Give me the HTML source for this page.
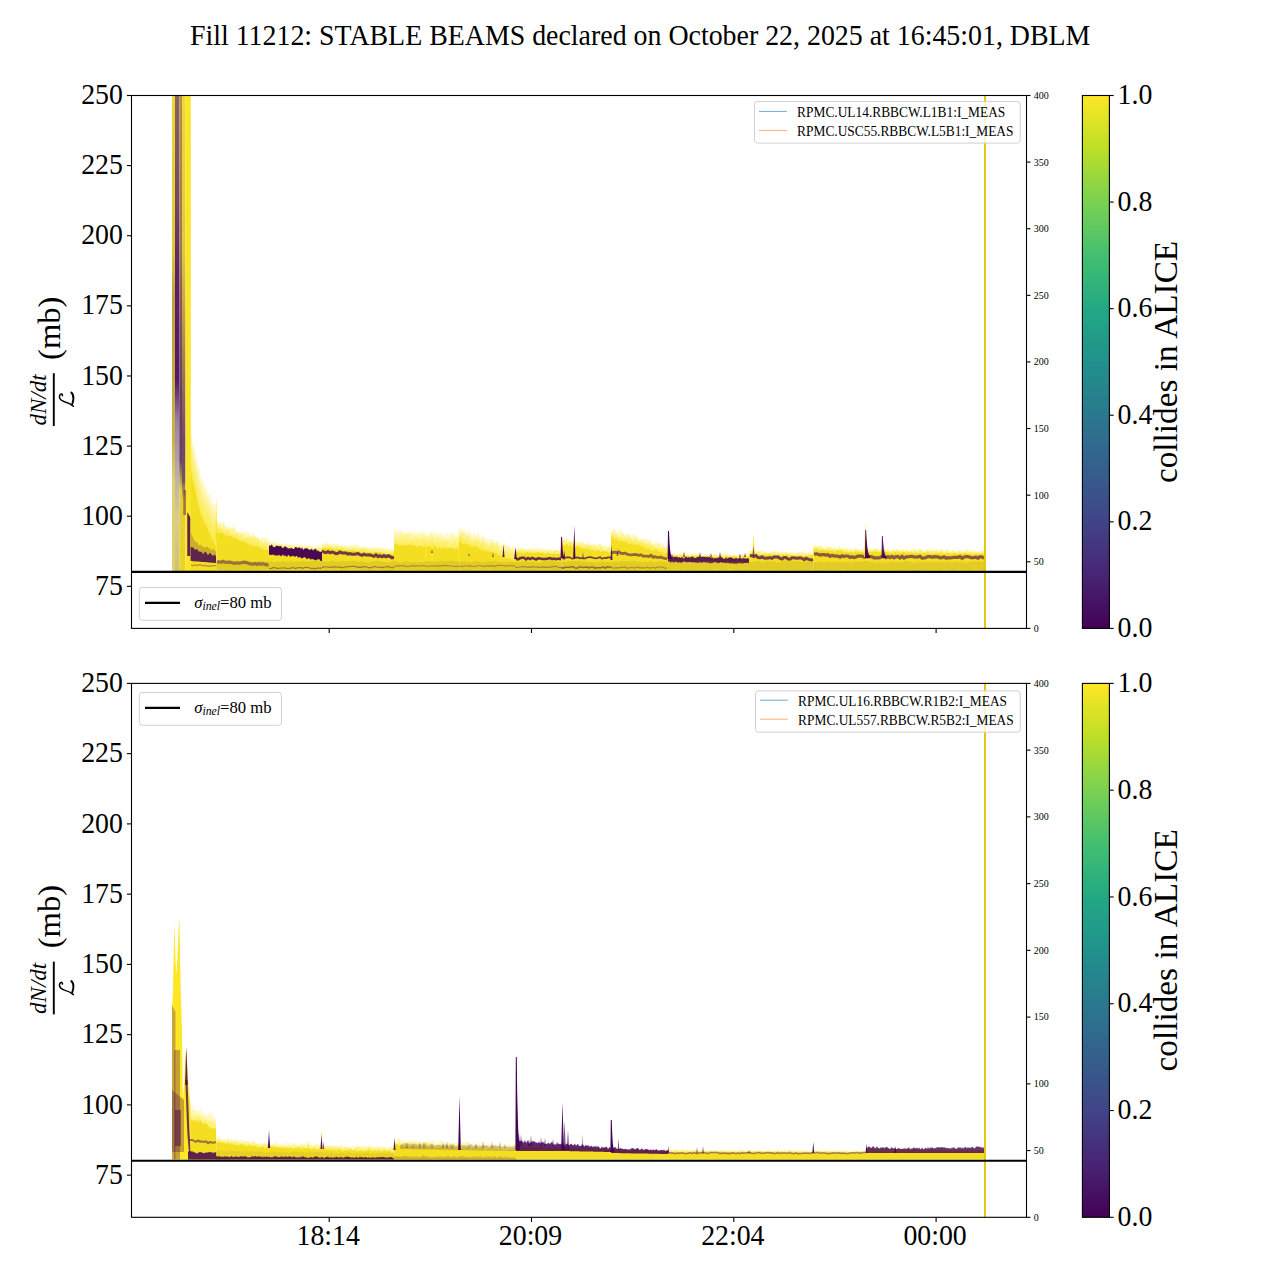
<!DOCTYPE html><html><head><meta charset="utf-8"><title>Fill 11212</title><style>html,body{margin:0;padding:0;background:#fff;overflow:hidden}svg{display:block}</style></head><body><svg width="1280" height="1280" viewBox="0 0 1280 1280"><rect width="1280" height="1280" fill="#fff"/><defs><linearGradient id="vir" x1="0" y1="1" x2="0" y2="0"><stop offset="0.000" stop-color="#440154"/><stop offset="0.100" stop-color="#482475"/><stop offset="0.200" stop-color="#414487"/><stop offset="0.300" stop-color="#355f8d"/><stop offset="0.400" stop-color="#2a788e"/><stop offset="0.500" stop-color="#21918c"/><stop offset="0.600" stop-color="#22a884"/><stop offset="0.700" stop-color="#44bf70"/><stop offset="0.800" stop-color="#7ad151"/><stop offset="0.900" stop-color="#bddf26"/><stop offset="1.000" stop-color="#fde725"/></linearGradient><clipPath id="c0"><rect x="131.5" y="95.5" width="895.0" height="532.9"/></clipPath><clipPath id="c1"><rect x="131.5" y="683.4" width="895.0" height="533.9"/></clipPath></defs><text transform="translate(640.20,45.20) scale(1,1.055)" font-family="Liberation Serif" font-size="27.9" text-anchor="middle">Fill 11212: STABLE BEAMS declared on October 22, 2025 at 16:45:01, DBLM</text><g clip-path="url(#c0)"><linearGradient id="ta" gradientUnits="userSpaceOnUse" x1="0" y1="95.0" x2="0" y2="571.0"><stop offset="0.000" stop-color="#f0d830"/><stop offset="0.326" stop-color="#e0c835"/><stop offset="0.431" stop-color="#c0a040"/><stop offset="0.725" stop-color="#c8b048"/><stop offset="0.809" stop-color="#e0d070"/><stop offset="1.000" stop-color="#e0d070"/></linearGradient><rect x="172" y="95.0" width="3.00" height="476.00" fill="url(#ta)"/><linearGradient id="tb" gradientUnits="userSpaceOnUse" x1="0" y1="95.0" x2="0" y2="571.0"><stop offset="0.000" stop-color="#866464"/><stop offset="0.221" stop-color="#74486a"/><stop offset="0.368" stop-color="#5a246a"/><stop offset="0.599" stop-color="#50186a"/><stop offset="0.683" stop-color="#9a80a0"/><stop offset="0.809" stop-color="#c0b0b0"/><stop offset="0.893" stop-color="#d8cc90"/><stop offset="1.000" stop-color="#d0c070"/></linearGradient><rect x="175" y="95.0" width="4.30" height="476.00" fill="url(#tb)"/><linearGradient id="tc" gradientUnits="userSpaceOnUse" x1="0" y1="95.0" x2="0" y2="571.0"><stop offset="0.000" stop-color="#b89048"/><stop offset="0.326" stop-color="#a07850"/><stop offset="0.431" stop-color="#8a5a58"/><stop offset="0.641" stop-color="#6a3a60"/><stop offset="0.767" stop-color="#6a4060"/><stop offset="0.830" stop-color="#e0cc40"/><stop offset="1.000" stop-color="#e8d428"/></linearGradient><rect x="179.3" y="95.0" width="2.70" height="476.00" fill="url(#tc)"/><linearGradient id="td" gradientUnits="userSpaceOnUse" x1="0" y1="95.0" x2="0" y2="571.0"><stop offset="0.000" stop-color="#f0d830"/><stop offset="0.326" stop-color="#e0c838"/><stop offset="0.431" stop-color="#c8a840"/><stop offset="0.599" stop-color="#9a7050"/><stop offset="0.725" stop-color="#704868"/><stop offset="0.809" stop-color="#705060"/><stop offset="0.851" stop-color="#e8d028"/><stop offset="1.000" stop-color="#e8d428"/></linearGradient><rect x="182" y="95.0" width="3.50" height="476.00" fill="url(#td)"/><linearGradient id="te" gradientUnits="userSpaceOnUse" x1="0" y1="95.0" x2="0" y2="571.0"><stop offset="0.000" stop-color="#fbe528"/><stop offset="1.000" stop-color="#fbe528"/></linearGradient><rect x="185.5" y="95.0" width="5.30" height="476.00" fill="url(#te)"/><polygon points="183.3,490 184.3,490 185.3,490 186,490 186,515 185.3,515 184.3,515 183.3,515" fill="#440154" fill-opacity="0.45"/><polygon points="187.3,512 188.3,513.8 189.3,515.6 190.3,517.5 190.6,518 190.6,556 190.3,556 189.3,556 188.3,556 187.3,556" fill="#440154" fill-opacity="0.85"/><polygon points="190.6,423.5 191.6,437.1 192.6,443.5 193.6,445.4 194.6,450.4 195.6,454.4 196.6,459.6 197.6,464.6 198.6,466.2 199.6,470.4 200.6,476.8 201.6,477.7 202.6,481.5 203.6,481 204.6,485 205.6,488.1 206.6,488.1 207.6,493 208.6,494.8 209.6,493.3 210.6,495.3 211.6,499.4 212.6,503 213.6,502.7 214.6,504.1 215.6,506.3 216,505.1 216,571 215.6,571 214.6,571 213.6,571 212.6,571 211.6,571 210.6,571 209.6,571 208.6,571 207.6,571 206.6,571 205.6,571 204.6,571 203.6,571 202.6,571 201.6,571 200.6,571 199.6,571 198.6,571 197.6,571 196.6,571 195.6,571 194.6,571 193.6,571 192.6,571 191.6,571 190.6,571" fill="#fde725" fill-opacity="0.25"/><polygon points="190.6,431.5 191.6,443.1 192.6,450 193.6,452.9 194.6,456.9 195.6,461.1 196.6,466.5 197.6,470.2 198.6,473.5 199.6,481.2 200.6,483.3 201.6,486.2 202.6,486.8 203.6,492.6 204.6,494.2 205.6,493.3 206.6,496.1 207.6,499.7 208.6,501.6 209.6,504.5 210.6,504.5 211.6,508.1 212.6,509.5 213.6,510 214.6,513.2 215.6,515.7 216,516 216,571 215.6,571 214.6,571 213.6,571 212.6,571 211.6,571 210.6,571 209.6,571 208.6,571 207.6,571 206.6,571 205.6,571 204.6,571 203.6,571 202.6,571 201.6,571 200.6,571 199.6,571 198.6,571 197.6,571 196.6,571 195.6,571 194.6,571 193.6,571 192.6,571 191.6,571 190.6,571" fill="#fde725" fill-opacity="0.25"/><polygon points="190.6,440.2 191.6,451.3 192.6,455.7 193.6,460.6 194.6,466.8 195.6,469.5 196.6,472.9 197.6,478.8 198.6,483.9 199.6,488.1 200.6,490.2 201.6,493 202.6,495.7 203.6,499.3 204.6,500.5 205.6,502 206.6,504.4 207.6,504.5 208.6,506.6 209.6,511.2 210.6,514.3 211.6,514.8 212.6,516 213.6,517.1 214.6,520.4 215.6,523.7 216,523.3 216,571 215.6,571 214.6,571 213.6,571 212.6,571 211.6,571 210.6,571 209.6,571 208.6,571 207.6,571 206.6,571 205.6,571 204.6,571 203.6,571 202.6,571 201.6,571 200.6,571 199.6,571 198.6,571 197.6,571 196.6,571 195.6,571 194.6,571 193.6,571 192.6,571 191.6,571 190.6,571" fill="#fde725" fill-opacity="0.25"/><polygon points="190.6,448 191.6,460 192.6,464.1 193.6,469.3 194.6,475 195.6,477.8 196.6,481.7 197.6,485.3 198.6,490.8 199.6,496.9 200.6,496.3 201.6,501.9 202.6,504.6 203.6,507.3 204.6,509 205.6,511.2 206.6,512.1 207.6,514.2 208.6,515.7 209.6,516.2 210.6,521.5 211.6,522.3 212.6,522.8 213.6,526 214.6,527.9 215.6,528.8 216,529.2 216,571 215.6,571 214.6,571 213.6,571 212.6,571 211.6,571 210.6,571 209.6,571 208.6,571 207.6,571 206.6,571 205.6,571 204.6,571 203.6,571 202.6,571 201.6,571 200.6,571 199.6,571 198.6,571 197.6,571 196.6,571 195.6,571 194.6,571 193.6,571 192.6,571 191.6,571 190.6,571" fill="#fde725" fill-opacity="0.25"/><polygon points="190.6,455.6 191.6,466.6 192.6,473.2 193.6,476.6 194.6,478.9 195.6,484 196.6,488.1 197.6,494.2 198.6,499.7 199.6,503.8 200.6,507.1 201.6,509.7 202.6,509.9 203.6,514.8 204.6,516.3 205.6,515.9 206.6,517.7 207.6,519.7 208.6,524.6 209.6,524.6 210.6,526 211.6,530.1 212.6,531 213.6,531.9 214.6,534.2 215.6,537.1 216,536.1 216,571 215.6,571 214.6,571 213.6,571 212.6,571 211.6,571 210.6,571 209.6,571 208.6,571 207.6,571 206.6,571 205.6,571 204.6,571 203.6,571 202.6,571 201.6,571 200.6,571 199.6,571 198.6,571 197.6,571 196.6,571 195.6,571 194.6,571 193.6,571 192.6,571 191.6,571 190.6,571" fill="#fde725" fill-opacity="0.25"/><polygon points="190.6,462.5 191.6,474.2 192.6,480.3 193.6,484 194.6,488.3 195.6,491.5 196.6,496.8 197.6,501.3 198.6,505.1 199.6,509.3 200.6,514.5 201.6,516 202.6,517.8 203.6,521.3 204.6,524 205.6,524 206.6,526 207.6,528.4 208.6,531.7 209.6,532.4 210.6,535.7 211.6,537.6 212.6,539.3 213.6,540.5 214.6,544.3 215.6,545.3 216,545 216,571 215.6,571 214.6,571 213.6,571 212.6,571 211.6,571 210.6,571 209.6,571 208.6,571 207.6,571 206.6,571 205.6,571 204.6,571 203.6,571 202.6,571 201.6,571 200.6,571 199.6,571 198.6,571 197.6,571 196.6,571 195.6,571 194.6,571 193.6,571 192.6,571 191.6,571 190.6,571" fill="#f4de22"/><polygon points="190.6,531.2 191.6,534.7 192.6,536.2 193.6,539 194.6,540.6 195.6,542.7 196.6,541.5 197.6,542.7 198.6,545.2 199.6,545.4 200.6,544.2 201.6,546.4 202.6,545.2 203.6,547.6 204.6,547.5 205.6,546.9 206.6,546.7 207.6,546.2 208.6,549.1 209.6,546.9 210.6,549.5 211.6,550.2 212.6,549.3 213.6,548.4 214.6,550.7 215.6,551.3 216,550.6 216,563 215.6,563 214.6,562.8 213.6,562.7 212.6,562.6 211.6,562.5 210.6,562.4 209.6,562.2 208.6,562.1 207.6,562 206.6,561.9 205.6,561.8 204.6,561.7 203.6,561.5 202.6,561.4 201.6,561.3 200.6,561.2 199.6,561.1 198.6,560.9 197.6,560.8 196.6,560.7 195.6,560.6 194.6,560.5 193.6,560.4 192.6,560.2 191.6,560.1 190.6,560" fill="#440154" fill-opacity="0.22"/><polygon points="190.6,547 191.6,547.2 192.6,547.6 193.6,547.7 194.6,549.7 195.6,549.5 196.6,549.3 197.6,549.5 198.6,551.8 199.6,551.2 200.6,552.1 201.6,551.8 202.6,553.6 203.6,553.9 204.6,551.4 205.6,552.2 206.6,552.7 207.6,554.9 208.6,554.5 209.6,553.3 210.6,553.1 211.6,554.7 212.6,555.4 213.6,555.8 214.6,554.3 215.6,556.1 216,555.6 216,563 215.6,563 214.6,562.9 213.6,562.8 212.6,562.7 211.6,562.7 210.6,562.6 209.6,562.5 208.6,562.4 207.6,562.3 206.6,562.3 205.6,562.2 204.6,562.1 203.6,562 202.6,561.9 201.6,561.9 200.6,561.8 199.6,561.7 198.6,561.6 197.6,561.6 196.6,561.5 195.6,561.4 194.6,561.3 193.6,561.2 192.6,561.2 191.6,561.1 190.6,561" fill="#440154" fill-opacity="0.8"/><polyline points="191,565 193,565.9 195,564.7 197,565.6 199,564.7 201,564.9 203,566.1 205,565.1 207,566.1 209,565.9 211,566.3 213,565.7 215,565.7 216,565.7" fill="none" stroke="#440154" stroke-width="1.2" stroke-opacity="0.35"/><polygon points="215.1,540 216.2,495 217.3,540" fill="#fde725"/><polygon points="216.4,522.8 217.4,521.9 218.4,524.1 219.4,524.2 220.4,520.9 221.4,523.4 222.4,521.6 223.4,521.7 224.4,522.3 225.4,526.6 226.4,526.7 227.4,527.3 228.4,525.3 229.4,527.1 230.4,528.3 231.4,526.7 232.4,528.1 233.4,526.8 234.4,526.5 235.4,527.9 236.4,531.4 237.4,530.2 238.4,532.4 239.4,530.5 240.4,530 241.4,532.9 242.4,533.4 243.4,529.7 244.4,533.3 245.4,530.7 246.4,531.1 247.4,535.3 248.4,531.4 249.4,532.7 250.4,536.8 251.4,534.3 252.4,533.1 253.4,533.6 254.4,534.3 255.4,537.2 256.4,534.3 257.4,538.6 258.4,536.3 259.4,539.6 260.4,539.6 261.4,536.8 262.4,537 263.4,538.4 264.4,536.8 265.4,539.9 266.4,537.2 267.4,537.4 268.4,542.4 269,539 269,571 268.4,571 267.4,571 266.4,571 265.4,571 264.4,571 263.4,571 262.4,571 261.4,571 260.4,571 259.4,571 258.4,571 257.4,571 256.4,571 255.4,571 254.4,571 253.4,571 252.4,571 251.4,571 250.4,571 249.4,571 248.4,571 247.4,571 246.4,571 245.4,571 244.4,571 243.4,571 242.4,571 241.4,571 240.4,571 239.4,571 238.4,571 237.4,571 236.4,571 235.4,571 234.4,571 233.4,571 232.4,571 231.4,571 230.4,571 229.4,571 228.4,571 227.4,571 226.4,571 225.4,571 224.4,571 223.4,571 222.4,571 221.4,571 220.4,571 219.4,571 218.4,571 217.4,571 216.4,571" fill="#fde725" fill-opacity="0.3"/><polygon points="216.4,524 217.4,523.7 218.4,523.4 219.4,522.6 220.4,527.3 221.4,528 222.4,528.4 223.4,524.5 224.4,525.5 225.4,527.9 226.4,530.1 227.4,528.4 228.4,529.5 229.4,529.8 230.4,528.2 231.4,530.1 232.4,529.3 233.4,529.4 234.4,529 235.4,530.5 236.4,534.4 237.4,532.1 238.4,533.6 239.4,534 240.4,535.8 241.4,533.4 242.4,533.3 243.4,533.7 244.4,534 245.4,537 246.4,537.5 247.4,534.9 248.4,535.4 249.4,536.7 250.4,537.2 251.4,537.6 252.4,536.2 253.4,535.4 254.4,536.8 255.4,536.3 256.4,539 257.4,536.9 258.4,537.3 259.4,540.4 260.4,539 261.4,541.8 262.4,540.7 263.4,542.8 264.4,539.6 265.4,541.7 266.4,543.5 267.4,540.2 268.4,544.7 269,540.9 269,571 268.4,571 267.4,571 266.4,571 265.4,571 264.4,571 263.4,571 262.4,571 261.4,571 260.4,571 259.4,571 258.4,571 257.4,571 256.4,571 255.4,571 254.4,571 253.4,571 252.4,571 251.4,571 250.4,571 249.4,571 248.4,571 247.4,571 246.4,571 245.4,571 244.4,571 243.4,571 242.4,571 241.4,571 240.4,571 239.4,571 238.4,571 237.4,571 236.4,571 235.4,571 234.4,571 233.4,571 232.4,571 231.4,571 230.4,571 229.4,571 228.4,571 227.4,571 226.4,571 225.4,571 224.4,571 223.4,571 222.4,571 221.4,571 220.4,571 219.4,571 218.4,571 217.4,571 216.4,571" fill="#fde725" fill-opacity="0.3"/><polygon points="216.4,527.4 217.4,528.8 218.4,528.5 219.4,526.4 220.4,525.7 221.4,528.2 222.4,530.6 223.4,527.9 224.4,531.4 225.4,528 226.4,532.3 227.4,528.3 228.4,530.2 229.4,533.5 230.4,533.5 231.4,534.4 232.4,534.5 233.4,534.4 234.4,534.6 235.4,532.4 236.4,534.1 237.4,533.2 238.4,536.4 239.4,536.6 240.4,534.9 241.4,534.3 242.4,539.1 243.4,538.6 244.4,537.7 245.4,537.9 246.4,539.8 247.4,538.1 248.4,538.2 249.4,538.2 250.4,538.1 251.4,537.3 252.4,540.7 253.4,539.9 254.4,541 255.4,538.8 256.4,540.5 257.4,539.8 258.4,540 259.4,541 260.4,544.2 261.4,542.4 262.4,542.7 263.4,544.1 264.4,542.5 265.4,541.7 266.4,544.6 267.4,544.8 268.4,545.7 269,544.7 269,571 268.4,571 267.4,571 266.4,571 265.4,571 264.4,571 263.4,571 262.4,571 261.4,571 260.4,571 259.4,571 258.4,571 257.4,571 256.4,571 255.4,571 254.4,571 253.4,571 252.4,571 251.4,571 250.4,571 249.4,571 248.4,571 247.4,571 246.4,571 245.4,571 244.4,571 243.4,571 242.4,571 241.4,571 240.4,571 239.4,571 238.4,571 237.4,571 236.4,571 235.4,571 234.4,571 233.4,571 232.4,571 231.4,571 230.4,571 229.4,571 228.4,571 227.4,571 226.4,571 225.4,571 224.4,571 223.4,571 222.4,571 221.4,571 220.4,571 219.4,571 218.4,571 217.4,571 216.4,571" fill="#fde725" fill-opacity="0.3"/><polygon points="216.4,529.4 217.4,530.1 218.4,528 219.4,529.7 220.4,530.1 221.4,529.2 222.4,530.6 223.4,531.8 224.4,533.9 225.4,534.4 226.4,531.6 227.4,533.9 228.4,531.3 229.4,531.9 230.4,534.5 231.4,536.7 232.4,533.6 233.4,537 234.4,538 235.4,535.6 236.4,537.9 237.4,539.1 238.4,537.2 239.4,539.3 240.4,539.8 241.4,539.4 242.4,541.1 243.4,541.6 244.4,542.2 245.4,540.6 246.4,538.9 247.4,539.6 248.4,539.8 249.4,541.9 250.4,543.1 251.4,539.9 252.4,543.4 253.4,543.9 254.4,542.4 255.4,543.5 256.4,542.1 257.4,545.2 258.4,542.1 259.4,547.1 260.4,546.6 261.4,546 262.4,544.5 263.4,548.1 264.4,548.6 265.4,544.9 266.4,548.4 267.4,549 268.4,548.3 269,548.5 269,571 268.4,571 267.4,571 266.4,571 265.4,571 264.4,571 263.4,571 262.4,571 261.4,571 260.4,571 259.4,571 258.4,571 257.4,571 256.4,571 255.4,571 254.4,571 253.4,571 252.4,571 251.4,571 250.4,571 249.4,571 248.4,571 247.4,571 246.4,571 245.4,571 244.4,571 243.4,571 242.4,571 241.4,571 240.4,571 239.4,571 238.4,571 237.4,571 236.4,571 235.4,571 234.4,571 233.4,571 232.4,571 231.4,571 230.4,571 229.4,571 228.4,571 227.4,571 226.4,571 225.4,571 224.4,571 223.4,571 222.4,571 221.4,571 220.4,571 219.4,571 218.4,571 217.4,571 216.4,571" fill="#fde725" fill-opacity="0.3"/><polygon points="216.4,530.8 217.4,532.7 218.4,533.3 219.4,531.9 220.4,533.6 221.4,532.9 222.4,532.5 223.4,533.4 224.4,533.3 225.4,536 226.4,536.6 227.4,534.5 228.4,536.4 229.4,536.2 230.4,535.8 231.4,536.7 232.4,537 233.4,539 234.4,537.1 235.4,538.1 236.4,539.3 237.4,538.5 238.4,540.7 239.4,541.1 240.4,542.1 241.4,540.6 242.4,541.1 243.4,542.2 244.4,541.7 245.4,543 246.4,542.3 247.4,543.9 248.4,544.6 249.4,544.9 250.4,545.8 251.4,544.8 252.4,545 253.4,546.4 254.4,546.4 255.4,546.2 256.4,545.9 257.4,545.9 258.4,545.7 259.4,548.2 260.4,546.4 261.4,548.6 262.4,548.3 263.4,549.9 264.4,549.6 265.4,550.6 266.4,548.4 267.4,549.8 268.4,550.2 269,549.4 269,571 268.4,571 267.4,571 266.4,571 265.4,571 264.4,571 263.4,571 262.4,571 261.4,571 260.4,571 259.4,571 258.4,571 257.4,571 256.4,571 255.4,571 254.4,571 253.4,571 252.4,571 251.4,571 250.4,571 249.4,571 248.4,571 247.4,571 246.4,571 245.4,571 244.4,571 243.4,571 242.4,571 241.4,571 240.4,571 239.4,571 238.4,571 237.4,571 236.4,571 235.4,571 234.4,571 233.4,571 232.4,571 231.4,571 230.4,571 229.4,571 228.4,571 227.4,571 226.4,571 225.4,571 224.4,571 223.4,571 222.4,571 221.4,571 220.4,571 219.4,571 218.4,571 217.4,571 216.4,571" fill="#f4de22"/><polyline points="217,562 219,561.8 221,562.2 223,561.2 225,562.2 227,562.3 229,562.1 231,562.3 233,563.2 235,563.1 237,562.8 239,563.2 241,562.7 243,562.4 245,562.1 247,562.7 249,563.5 251,564.1 253,564.1 255,563.5 257,564.5 259,563.6 261,564.4 263,563.6 265,564.4 267,564.9 268,563.6" fill="none" stroke="#440154" stroke-width="3.2" stroke-opacity="0.5"/><polygon points="269,541 270,542.5 271,542.3 272,541.9 273,540.9 274,542.1 275,542.3 276,542.4 277,543.8 278,543.1 279,543.6 280,544.2 281,543.9 282,543.2 283,544.1 284,543.8 285,544 286,544 287,543.4 288,544.2 289,544.3 290,545.3 291,544.9 292,545.2 293,545.1 294,545.3 295,544.8 296,544.1 297,543.9 298,545.4 299,546 300,545.1 301,544 302,546.1 303,545.2 304,545.2 305,544 306,545.5 307,546.3 308,545.4 309,545.3 310,546.3 311,544.5 312,546.1 313,547.5 314,546.8 315,546 316,547 317,546.8 318,545.7 319,545.8 320,548 321,546.2 322,545.7 322,571 321,571 320,571 319,571 318,571 317,571 316,571 315,571 314,571 313,571 312,571 311,571 310,571 309,571 308,571 307,571 306,571 305,571 304,571 303,571 302,571 301,571 300,571 299,571 298,571 297,571 296,571 295,571 294,571 293,571 292,571 291,571 290,571 289,571 288,571 287,571 286,571 285,571 284,571 283,571 282,571 281,571 280,571 279,571 278,571 277,571 276,571 275,571 274,571 273,571 272,571 271,571 270,571 269,571" fill="#fde725" fill-opacity="0.3"/><polygon points="269,544.7 270,543.8 271,543.5 272,544 273,544.8 274,543.1 275,544.7 276,545 277,545.4 278,543.8 279,544.9 280,543.9 281,545 282,543.9 283,545.9 284,546.2 285,544.7 286,544.4 287,546.8 288,546.1 289,546.6 290,544.2 291,546.9 292,546.2 293,545.4 294,545.8 295,546.9 296,547.1 297,545.4 298,546.8 299,545.5 300,548 301,546.5 302,548 303,547.6 304,547.3 305,546.3 306,547.2 307,546.2 308,546.3 309,548.1 310,547.1 311,548.4 312,546.9 313,548.5 314,548.6 315,547.4 316,546.9 317,547.9 318,548.3 319,547.2 320,547.5 321,547.2 322,549 322,571 321,571 320,571 319,571 318,571 317,571 316,571 315,571 314,571 313,571 312,571 311,571 310,571 309,571 308,571 307,571 306,571 305,571 304,571 303,571 302,571 301,571 300,571 299,571 298,571 297,571 296,571 295,571 294,571 293,571 292,571 291,571 290,571 289,571 288,571 287,571 286,571 285,571 284,571 283,571 282,571 281,571 280,571 279,571 278,571 277,571 276,571 275,571 274,571 273,571 272,571 271,571 270,571 269,571" fill="#fde725" fill-opacity="0.3"/><polygon points="269,546.5 270,544.6 271,544.1 272,546.2 273,546.7 274,547.2 275,546.2 276,545.5 277,547.1 278,545 279,546.9 280,545.2 281,546.2 282,546.5 283,546.3 284,545.8 285,546 286,547.9 287,546.9 288,547.4 289,546.4 290,548 291,546.9 292,547.8 293,548.8 294,549.2 295,546.4 296,548.8 297,549 298,547.5 299,547.8 300,548.5 301,549.6 302,548.1 303,549.7 304,549.4 305,547.7 306,550.1 307,547.5 308,547.9 309,549.6 310,547.9 311,548.9 312,548.3 313,549.4 314,550.6 315,550.9 316,548.4 317,548.5 318,551 319,548.7 320,549.5 321,549.1 322,549.1 322,571 321,571 320,571 319,571 318,571 317,571 316,571 315,571 314,571 313,571 312,571 311,571 310,571 309,571 308,571 307,571 306,571 305,571 304,571 303,571 302,571 301,571 300,571 299,571 298,571 297,571 296,571 295,571 294,571 293,571 292,571 291,571 290,571 289,571 288,571 287,571 286,571 285,571 284,571 283,571 282,571 281,571 280,571 279,571 278,571 277,571 276,571 275,571 274,571 273,571 272,571 271,571 270,571 269,571" fill="#fde725" fill-opacity="0.3"/><polygon points="269,546.1 270,547.3 271,547.6 272,547.6 273,548 274,547.8 275,547.4 276,547.9 277,548.6 278,548.1 279,547.5 280,547.2 281,548.9 282,548.4 283,548.1 284,548.6 285,548.6 286,548.6 287,547.9 288,548.5 289,548.7 290,548.4 291,549.8 292,549 293,549.6 294,549.7 295,549.9 296,549.9 297,550.1 298,549.3 299,550.7 300,549.3 301,550.8 302,550.8 303,550.8 304,549.5 305,549.7 306,551.1 307,550.5 308,550.4 309,551.6 310,550 311,551 312,551 313,550.5 314,551.1 315,551.7 316,552.1 317,550.7 318,551.7 319,551 320,552.4 321,551.2 322,551.2 322,571 321,571 320,571 319,571 318,571 317,571 316,571 315,571 314,571 313,571 312,571 311,571 310,571 309,571 308,571 307,571 306,571 305,571 304,571 303,571 302,571 301,571 300,571 299,571 298,571 297,571 296,571 295,571 294,571 293,571 292,571 291,571 290,571 289,571 288,571 287,571 286,571 285,571 284,571 283,571 282,571 281,571 280,571 279,571 278,571 277,571 276,571 275,571 274,571 273,571 272,571 271,571 270,571 269,571" fill="#f4de22"/><polygon points="269,545.1 270,546.3 271,545.1 272,544.6 273,546.8 274,547 275,547.2 276,545.5 277,546 278,545.5 279,546.6 280,546 281,546.1 282,547.6 283,548.3 284,547.2 285,545.7 286,547.6 287,547 288,548.9 289,548.1 290,548.6 291,548.2 292,547.8 293,549 294,548.9 295,547.3 296,546.9 297,547.7 298,548.3 299,547 300,547.9 301,548.8 302,547.2 303,549.7 304,549.3 305,548.3 306,548.3 307,548.6 308,548.6 309,550.1 310,549.4 311,549.5 312,548.4 313,551 314,549.2 315,549.3 316,548.6 317,551.6 318,550.1 319,551.5 320,551.7 321,551.9 322,551.5 322,561 321,560.9 320,560.5 319,558.8 318,559.6 317,559.6 316,560.5 315,559.9 314,559.6 313,559.6 312,558.5 311,559.8 310,559 309,558.3 308,558.3 307,559.5 306,558.3 305,557.3 304,557.1 303,558.3 302,557.9 301,558.6 300,556.8 299,557.2 298,557.8 297,556.1 296,556.1 295,557.1 294,556.3 293,555.8 292,556 291,556.8 290,556.4 289,555.3 288,555.1 287,556.9 286,556.3 285,555 284,556.6 283,554.4 282,555.2 281,556.2 280,555.7 279,554.6 278,556 277,555.1 276,555.7 275,555.6 274,554.4 273,554.9 272,554.4 271,555.3 270,554.8 269,554.5" fill="#440154" fill-opacity="0.97"/><polyline points="269,568.4 271,568.7 273,567.7 275,567.6 277,568.3 279,568.4 281,568 283,568 285,567.9 287,568.5 289,568.4 291,568.1 293,567.4 295,568.5 297,567.9 299,567.6 301,567.7 303,568.3 305,567.3 307,567.5 309,567.7 311,568.5 313,568.3 315,568.7 317,568.1 319,568.1 321,568.1 322,568" fill="none" stroke="#440154" stroke-width="1.2" stroke-opacity="0.45"/><polygon points="322,543.1 323,544 324,544.5 325,543 326,543.7 327,542.8 328,542.9 329,543.6 330,543.9 331,543.9 332,545.3 333,542.9 334,544.4 335,545.6 336,544.9 337,544.4 338,543.9 339,544.1 340,545.8 341,545.8 342,545.2 343,545.9 344,546.1 345,546 346,544.7 347,545 348,546.1 349,544.9 350,546.1 351,545.4 352,545 353,545.5 354,544.5 355,545.3 356,545.6 357,544.5 358,545 359,545.4 360,547.2 361,546.5 362,545.7 363,547.9 364,545.8 365,546.6 366,547.4 367,547.3 368,546.6 369,547.7 370,547 371,547.7 372,547.1 373,548.7 374,548 375,546.2 376,546.4 377,549 378,546.9 379,546.3 380,547.1 381,547.9 382,549.4 383,547.8 384,548.8 385,549.3 386,547.1 387,548.8 388,550 389,548.7 390,548.8 391,548.3 392,550.2 393,550.3 394,547.8 394,571 393,571 392,571 391,571 390,571 389,571 388,571 387,571 386,571 385,571 384,571 383,571 382,571 381,571 380,571 379,571 378,571 377,571 376,571 375,571 374,571 373,571 372,571 371,571 370,571 369,571 368,571 367,571 366,571 365,571 364,571 363,571 362,571 361,571 360,571 359,571 358,571 357,571 356,571 355,571 354,571 353,571 352,571 351,571 350,571 349,571 348,571 347,571 346,571 345,571 344,571 343,571 342,571 341,571 340,571 339,571 338,571 337,571 336,571 335,571 334,571 333,571 332,571 331,571 330,571 329,571 328,571 327,571 326,571 325,571 324,571 323,571 322,571" fill="#fde725" fill-opacity="0.3"/><polygon points="322,544.8 323,544.5 324,545.3 325,543.8 326,544.3 327,544.4 328,545.1 329,546.1 330,546.4 331,546.3 332,546 333,544.3 334,545.3 335,546.3 336,545.2 337,545.9 338,547.2 339,544.9 340,547.2 341,545.1 342,546 343,547.6 344,545.6 345,546.6 346,546.4 347,547.9 348,548.3 349,546.3 350,547 351,548.3 352,547.3 353,546.4 354,548.1 355,546.9 356,547.5 357,546.1 358,549.1 359,548.2 360,549.1 361,549.3 362,547.3 363,548.2 364,548 365,549 366,549.4 367,547.6 368,547.8 369,549.2 370,548.4 371,547.6 372,547.9 373,549.1 374,549.3 375,550.5 376,549.3 377,549.6 378,548.3 379,549.2 380,548.8 381,550.2 382,549 383,548.9 384,549.4 385,549.8 386,549.5 387,550.4 388,549.2 389,551.4 390,550.9 391,550.5 392,549.2 393,550.1 394,551.2 394,571 393,571 392,571 391,571 390,571 389,571 388,571 387,571 386,571 385,571 384,571 383,571 382,571 381,571 380,571 379,571 378,571 377,571 376,571 375,571 374,571 373,571 372,571 371,571 370,571 369,571 368,571 367,571 366,571 365,571 364,571 363,571 362,571 361,571 360,571 359,571 358,571 357,571 356,571 355,571 354,571 353,571 352,571 351,571 350,571 349,571 348,571 347,571 346,571 345,571 344,571 343,571 342,571 341,571 340,571 339,571 338,571 337,571 336,571 335,571 334,571 333,571 332,571 331,571 330,571 329,571 328,571 327,571 326,571 325,571 324,571 323,571 322,571" fill="#fde725" fill-opacity="0.3"/><polygon points="322,546.8 323,547.4 324,547.7 325,546 326,546.6 327,546.2 328,545.7 329,545.8 330,546.3 331,545.8 332,547.3 333,547.9 334,547.5 335,548 336,546.7 337,546.7 338,547.9 339,548.9 340,547.6 341,546.4 342,546.6 343,547.5 344,548.5 345,547 346,547.5 347,549 348,550 349,548.1 350,549 351,548.8 352,547.4 353,548.4 354,547.9 355,548.3 356,550 357,549.8 358,548 359,548.1 360,550.2 361,548.4 362,549.1 363,549.1 364,548.5 365,548.5 366,548.9 367,549.8 368,551.5 369,550.7 370,549.6 371,551 372,549.8 373,550.6 374,550.1 375,552.1 376,550.4 377,551.8 378,551.4 379,552.1 380,551.5 381,552.4 382,551 383,552 384,551.9 385,551.7 386,551.9 387,551.9 388,551.5 389,553.1 390,552.4 391,552.2 392,550.8 393,552.3 394,551.4 394,571 393,571 392,571 391,571 390,571 389,571 388,571 387,571 386,571 385,571 384,571 383,571 382,571 381,571 380,571 379,571 378,571 377,571 376,571 375,571 374,571 373,571 372,571 371,571 370,571 369,571 368,571 367,571 366,571 365,571 364,571 363,571 362,571 361,571 360,571 359,571 358,571 357,571 356,571 355,571 354,571 353,571 352,571 351,571 350,571 349,571 348,571 347,571 346,571 345,571 344,571 343,571 342,571 341,571 340,571 339,571 338,571 337,571 336,571 335,571 334,571 333,571 332,571 331,571 330,571 329,571 328,571 327,571 326,571 325,571 324,571 323,571 322,571" fill="#fde725" fill-opacity="0.3"/><polygon points="322,547.5 323,548 324,548.2 325,547.8 326,547.9 327,548.5 328,548.5 329,548.4 330,548 331,548.5 332,549.1 333,549 334,549.1 335,549.7 336,549.6 337,549.6 338,548.5 339,549.1 340,549.8 341,549 342,550.4 343,549.1 344,550.5 345,549.4 346,550.6 347,550.7 348,549.9 349,550.9 350,549.7 351,551 352,550.3 353,550.5 354,550 355,550.9 356,550.4 357,551.2 358,551.5 359,551.3 360,550.3 361,552.1 362,552.1 363,551.7 364,551.3 365,551.7 366,552.4 367,551.7 368,552.3 369,552.1 370,551.9 371,552.9 372,552 373,552.4 374,551.5 375,552.4 376,551.7 377,553 378,551.8 379,551.9 380,552.1 381,552.3 382,553 383,552.8 384,552.8 385,554.1 386,554.1 387,553.7 388,554 389,554.2 390,553.2 391,554.3 392,553.4 393,554 394,553.7 394,571 393,571 392,571 391,571 390,571 389,571 388,571 387,571 386,571 385,571 384,571 383,571 382,571 381,571 380,571 379,571 378,571 377,571 376,571 375,571 374,571 373,571 372,571 371,571 370,571 369,571 368,571 367,571 366,571 365,571 364,571 363,571 362,571 361,571 360,571 359,571 358,571 357,571 356,571 355,571 354,571 353,571 352,571 351,571 350,571 349,571 348,571 347,571 346,571 345,571 344,571 343,571 342,571 341,571 340,571 339,571 338,571 337,571 336,571 335,571 334,571 333,571 332,571 331,571 330,571 329,571 328,571 327,571 326,571 325,571 324,571 323,571 322,571" fill="#f4de22"/><polyline points="322,550.8 324,552.2 326,552.6 328,551.6 330,552.9 332,552 334,552.7 336,553.6 338,553.3 340,552 342,552.9 344,552.9 346,552.9 348,554.1 350,553.5 352,554.2 354,554.2 356,554.1 358,553.4 360,554.7 362,555.3 364,554.1 366,555.1 368,555 370,554.8 372,555.7 374,556.4 376,554.7 378,556.6 380,555.7 382,556.8 384,555.6 386,556.8 388,555.7 390,556.4 392,557.8 394,557.3" fill="none" stroke="#440154" stroke-width="3" stroke-opacity="0.75"/><polyline points="322,567.4 324,566.9 326,567 328,567 330,567.4 332,567.3 334,566.6 336,566.9 338,567.1 340,567.1 342,567.6 344,567.5 346,566.5 348,566.8 350,566.5 352,566.3 354,566.4 356,566.6 358,567.4 360,567.2 362,567.4 364,566.7 366,566.5 368,567.7 370,567.5 372,567.6 374,566.3 376,566.9 378,567.2 380,567.3 382,567.6 384,567.1 386,566.8 388,566.3 390,567.4 392,567.7 394,567.6" fill="none" stroke="#440154" stroke-width="1.2" stroke-opacity="0.45"/><polygon points="394,531 395,529.1 396,528.6 397,531.9 398,532.9 399,533.1 400,528.5 401,531.1 402,530.7 403,530.3 404,532.5 405,533.5 406,532.3 407,532.2 408,532.2 409,532.1 410,531.5 411,529.8 412,533.1 413,529.2 414,532.4 415,530.9 416,532.1 417,532.6 418,531.7 419,534.8 420,530.4 421,529.1 422,534.9 423,531.1 424,531 425,531.9 426,533 427,535.5 428,533.9 429,531.6 430,533 431,532.5 432,532.9 433,532.5 434,531.1 435,532.5 436,532.6 437,531.5 438,535.3 439,532.6 440,531.4 441,534 442,535.8 443,535.5 444,534.6 445,535.3 446,533 447,531.9 448,532.7 449,533.3 450,533 451,534.2 452,532.4 453,532.3 454,533.1 455,532.9 456,536.6 457,535.1 458,533.1 459,534.6 459,571 458,571 457,571 456,571 455,571 454,571 453,571 452,571 451,571 450,571 449,571 448,571 447,571 446,571 445,571 444,571 443,571 442,571 441,571 440,571 439,571 438,571 437,571 436,571 435,571 434,571 433,571 432,571 431,571 430,571 429,571 428,571 427,571 426,571 425,571 424,571 423,571 422,571 421,571 420,571 419,571 418,571 417,571 416,571 415,571 414,571 413,571 412,571 411,571 410,571 409,571 408,571 407,571 406,571 405,571 404,571 403,571 402,571 401,571 400,571 399,571 398,571 397,571 396,571 395,571 394,571" fill="#fde725" fill-opacity="0.22"/><polygon points="394,535 395,533.3 396,533.3 397,532.4 398,531.3 399,533.9 400,530.7 401,535.1 402,530.8 403,535 404,532.9 405,534.7 406,534.3 407,531.6 408,534.1 409,531.4 410,532.5 411,533.4 412,532.9 413,535.2 414,537.3 415,533.6 416,536.5 417,532.9 418,535.9 419,533.8 420,535 421,532.4 422,536.9 423,533.3 424,534.9 425,533.9 426,537.1 427,535.9 428,536.1 429,537 430,534.1 431,533 432,537.7 433,534.7 434,537.8 435,538.7 436,536.8 437,533.7 438,538.3 439,537.1 440,534.8 441,534.7 442,536.5 443,534.3 444,539.1 445,538 446,538.7 447,536.2 448,539.5 449,534.8 450,538.4 451,535.7 452,534.3 453,535.1 454,535.6 455,539.1 456,536.8 457,537.5 458,538.4 459,536.4 459,571 458,571 457,571 456,571 455,571 454,571 453,571 452,571 451,571 450,571 449,571 448,571 447,571 446,571 445,571 444,571 443,571 442,571 441,571 440,571 439,571 438,571 437,571 436,571 435,571 434,571 433,571 432,571 431,571 430,571 429,571 428,571 427,571 426,571 425,571 424,571 423,571 422,571 421,571 420,571 419,571 418,571 417,571 416,571 415,571 414,571 413,571 412,571 411,571 410,571 409,571 408,571 407,571 406,571 405,571 404,571 403,571 402,571 401,571 400,571 399,571 398,571 397,571 396,571 395,571 394,571" fill="#fde725" fill-opacity="0.22"/><polygon points="394,536.4 395,536.7 396,538.3 397,535.8 398,538 399,538.8 400,537.7 401,535.7 402,534.8 403,533.9 404,538.4 405,534.2 406,536.9 407,536.3 408,533.9 409,535 410,538.8 411,537.1 412,539.5 413,539.5 414,534.7 415,538.3 416,534.5 417,536.9 418,537.1 419,540.3 420,538.2 421,535.8 422,537.8 423,538 424,536.1 425,537.1 426,540.3 427,541 428,539.9 429,535.7 430,540.8 431,538.2 432,540.5 433,536.7 434,536.6 435,541.2 436,537.5 437,536.2 438,539 439,542 440,541.2 441,538.6 442,542.3 443,541.1 444,541.5 445,540.4 446,539 447,542.1 448,539.6 449,542.4 450,540.2 451,542.4 452,539.9 453,539.7 454,540.7 455,539.2 456,538.3 457,541 458,542.6 459,539.3 459,571 458,571 457,571 456,571 455,571 454,571 453,571 452,571 451,571 450,571 449,571 448,571 447,571 446,571 445,571 444,571 443,571 442,571 441,571 440,571 439,571 438,571 437,571 436,571 435,571 434,571 433,571 432,571 431,571 430,571 429,571 428,571 427,571 426,571 425,571 424,571 423,571 422,571 421,571 420,571 419,571 418,571 417,571 416,571 415,571 414,571 413,571 412,571 411,571 410,571 409,571 408,571 407,571 406,571 405,571 404,571 403,571 402,571 401,571 400,571 399,571 398,571 397,571 396,571 395,571 394,571" fill="#fde725" fill-opacity="0.22"/><polygon points="394,540.6 395,540.2 396,540.2 397,538.1 398,541.7 399,540.5 400,539.3 401,536.6 402,539.5 403,536.2 404,541.6 405,538.3 406,538.5 407,539.7 408,540.3 409,540.1 410,539.5 411,540.5 412,541.9 413,539.5 414,539.9 415,541.9 416,537.1 417,538.1 418,539.2 419,538.6 420,542.8 421,538.4 422,538.2 423,539.5 424,540.8 425,542.7 426,543.8 427,543 428,541.7 429,538.3 430,538.6 431,542 432,543.2 433,540 434,544.3 435,541.9 436,542.1 437,542.4 438,539.2 439,539.9 440,544.6 441,540.6 442,539.6 443,540.9 444,543.6 445,540.9 446,540.7 447,541.1 448,542.4 449,544.1 450,541.5 451,545 452,545.7 453,544.9 454,540.5 455,542 456,545.7 457,545.4 458,541.1 459,543.1 459,571 458,571 457,571 456,571 455,571 454,571 453,571 452,571 451,571 450,571 449,571 448,571 447,571 446,571 445,571 444,571 443,571 442,571 441,571 440,571 439,571 438,571 437,571 436,571 435,571 434,571 433,571 432,571 431,571 430,571 429,571 428,571 427,571 426,571 425,571 424,571 423,571 422,571 421,571 420,571 419,571 418,571 417,571 416,571 415,571 414,571 413,571 412,571 411,571 410,571 409,571 408,571 407,571 406,571 405,571 404,571 403,571 402,571 401,571 400,571 399,571 398,571 397,571 396,571 395,571 394,571" fill="#fde725" fill-opacity="0.22"/><polygon points="394,540.4 395,542.8 396,538.5 397,540.3 398,543 399,543.9 400,538.9 401,542.3 402,542.8 403,544.1 404,541.5 405,544.9 406,540.3 407,539.9 408,540.1 409,542.9 410,540.2 411,541.1 412,540.8 413,540 414,545.5 415,541.8 416,545.7 417,544.3 418,541.4 419,545.7 420,540.3 421,546.2 422,540.5 423,542 424,543.8 425,540.6 426,545.2 427,541.2 428,545.7 429,541.1 430,544.1 431,542.3 432,542.9 433,544.1 434,543.5 435,543.7 436,545.4 437,542.7 438,542.7 439,545.8 440,543.5 441,547.4 442,544.4 443,544.8 444,542.2 445,542.2 446,542.8 447,546 448,546.3 449,548.1 450,545.1 451,546.8 452,544.7 453,543.2 454,545.3 455,547.1 456,547.8 457,548.8 458,548.1 459,546.6 459,571 458,571 457,571 456,571 455,571 454,571 453,571 452,571 451,571 450,571 449,571 448,571 447,571 446,571 445,571 444,571 443,571 442,571 441,571 440,571 439,571 438,571 437,571 436,571 435,571 434,571 433,571 432,571 431,571 430,571 429,571 428,571 427,571 426,571 425,571 424,571 423,571 422,571 421,571 420,571 419,571 418,571 417,571 416,571 415,571 414,571 413,571 412,571 411,571 410,571 409,571 408,571 407,571 406,571 405,571 404,571 403,571 402,571 401,571 400,571 399,571 398,571 397,571 396,571 395,571 394,571" fill="#fde725" fill-opacity="0.22"/><polygon points="394,544.2 395,544.1 396,544.1 397,544.9 398,544.6 399,545.7 400,544.3 401,544.4 402,545.8 403,545.3 404,544.9 405,545.1 406,546 407,545.4 408,544.2 409,544.5 410,545.6 411,543.7 412,545.2 413,546.9 414,544.6 415,545.4 416,546.4 417,547.3 418,546.6 419,546.4 420,545.6 421,545.9 422,546.7 423,545.7 424,547.3 425,544.6 426,547.4 427,547.4 428,545.9 429,544.9 430,546.2 431,547.2 432,548 433,548.3 434,546 435,545.6 436,545.9 437,549.1 438,547.9 439,546.1 440,548.2 441,549.3 442,548.1 443,546.8 444,549.5 445,548.6 446,546.9 447,549 448,548.2 449,548.5 450,547.8 451,547.6 452,548.2 453,548.6 454,548.5 455,550 456,547.2 457,547.8 458,550.5 459,549.4 459,571 458,571 457,571 456,571 455,571 454,571 453,571 452,571 451,571 450,571 449,571 448,571 447,571 446,571 445,571 444,571 443,571 442,571 441,571 440,571 439,571 438,571 437,571 436,571 435,571 434,571 433,571 432,571 431,571 430,571 429,571 428,571 427,571 426,571 425,571 424,571 423,571 422,571 421,571 420,571 419,571 418,571 417,571 416,571 415,571 414,571 413,571 412,571 411,571 410,571 409,571 408,571 407,571 406,571 405,571 404,571 403,571 402,571 401,571 400,571 399,571 398,571 397,571 396,571 395,571 394,571" fill="#f4de22"/><polygon points="425.2,560 426,534 426.8,560" fill="#fde725"/><polygon points="431,560 432,531 433,560" fill="#fde725"/><polygon points="431.2,553 432,549 432.8,553" fill="#440154" fill-opacity="0.7"/><polyline points="394,566.2 396,566.2 398,565.6 400,565.9 402,565.6 404,565.5 406,566.7 408,566.3 410,566.5 412,565.3 414,566.3 416,565.7 418,566 420,566.2 422,565.3 424,565.8 426,566.1 428,566.5 430,566 432,565.7 434,566.1 436,566.1 438,565.7 440,566.1 442,565.7 444,565.3 446,565.7 448,565.4 450,566 452,566 454,566.5 456,566.3 458,566.3 459,566.7" fill="none" stroke="#440154" stroke-width="1.2" stroke-opacity="0.35"/><polygon points="458.2,560 459.3,526 460.4,560" fill="#fde725"/><polygon points="459.5,528.6 460.5,529.6 461.5,529 462.5,528.6 463.5,531.4 464.5,531.7 465.5,529.8 466.5,534.8 467.5,535.5 468.5,530.4 469.5,530.3 470.5,531 471.5,535.3 472.5,536.4 473.5,532 474.5,532 475.5,535.5 476.5,534.6 477.5,533 478.5,533.3 479.5,534.9 480.5,535.1 481.5,536 482.5,537.9 483.5,536.4 484.5,536.6 485.5,536.8 486.5,541.2 487.5,537.7 488.5,539.9 489.5,539.6 490.5,539.2 491.5,540 492.5,538 493.5,539.3 494.5,542.4 495.5,543.4 496.5,540.5 497.5,540.6 498.5,545.3 499.5,540.8 500.5,545.3 501.5,546.1 502.5,542.1 503.5,546.5 504.5,542.7 505.5,542.4 506.5,544.2 507.5,544.8 508.5,546.6 509.5,546 510.5,548.4 511.5,547.9 512.5,545 513.5,545.8 514.5,549.3 515,545.7 515,571 514.5,571 513.5,571 512.5,571 511.5,571 510.5,571 509.5,571 508.5,571 507.5,571 506.5,571 505.5,571 504.5,571 503.5,571 502.5,571 501.5,571 500.5,571 499.5,571 498.5,571 497.5,571 496.5,571 495.5,571 494.5,571 493.5,571 492.5,571 491.5,571 490.5,571 489.5,571 488.5,571 487.5,571 486.5,571 485.5,571 484.5,571 483.5,571 482.5,571 481.5,571 480.5,571 479.5,571 478.5,571 477.5,571 476.5,571 475.5,571 474.5,571 473.5,571 472.5,571 471.5,571 470.5,571 469.5,571 468.5,571 467.5,571 466.5,571 465.5,571 464.5,571 463.5,571 462.5,571 461.5,571 460.5,571 459.5,571" fill="#fde725" fill-opacity="0.25"/><polygon points="459.5,535.1 460.5,534.6 461.5,531.4 462.5,532.1 463.5,532.2 464.5,533.6 465.5,532.9 466.5,531.9 467.5,533.5 468.5,533.5 469.5,534.8 470.5,535.8 471.5,538.6 472.5,537.6 473.5,537.7 474.5,539.5 475.5,537 476.5,537.6 477.5,536.8 478.5,540.6 479.5,541.3 480.5,541.8 481.5,540.3 482.5,537.7 483.5,537.7 484.5,542.4 485.5,543.3 486.5,541.5 487.5,544.2 488.5,544.5 489.5,543.8 490.5,541.8 491.5,542.7 492.5,542.4 493.5,543 494.5,543.8 495.5,541.4 496.5,542.4 497.5,542.9 498.5,545.7 499.5,547.8 500.5,547.2 501.5,544.1 502.5,546.3 503.5,547.7 504.5,545 505.5,545 506.5,548.5 507.5,546.6 508.5,549.3 509.5,546.8 510.5,551.2 511.5,548.2 512.5,549.2 513.5,550.2 514.5,552.6 515,552.9 515,571 514.5,571 513.5,571 512.5,571 511.5,571 510.5,571 509.5,571 508.5,571 507.5,571 506.5,571 505.5,571 504.5,571 503.5,571 502.5,571 501.5,571 500.5,571 499.5,571 498.5,571 497.5,571 496.5,571 495.5,571 494.5,571 493.5,571 492.5,571 491.5,571 490.5,571 489.5,571 488.5,571 487.5,571 486.5,571 485.5,571 484.5,571 483.5,571 482.5,571 481.5,571 480.5,571 479.5,571 478.5,571 477.5,571 476.5,571 475.5,571 474.5,571 473.5,571 472.5,571 471.5,571 470.5,571 469.5,571 468.5,571 467.5,571 466.5,571 465.5,571 464.5,571 463.5,571 462.5,571 461.5,571 460.5,571 459.5,571" fill="#fde725" fill-opacity="0.25"/><polygon points="459.5,536.9 460.5,536.2 461.5,532.9 462.5,533.9 463.5,536.3 464.5,539.4 465.5,538.1 466.5,535.3 467.5,536.6 468.5,540.5 469.5,538.1 470.5,540.6 471.5,540.9 472.5,540.8 473.5,540.2 474.5,540.7 475.5,539.1 476.5,538.1 477.5,543.4 478.5,538.3 479.5,540 480.5,542.4 481.5,544.8 482.5,540.6 483.5,541.2 484.5,545.1 485.5,542.3 486.5,543.1 487.5,543.2 488.5,541.7 489.5,547.3 490.5,546.2 491.5,542.4 492.5,543.3 493.5,543.8 494.5,545.6 495.5,549 496.5,544.8 497.5,545.7 498.5,546.5 499.5,548.1 500.5,550.7 501.5,548.9 502.5,551.4 503.5,549.6 504.5,549.2 505.5,552.2 506.5,550.7 507.5,550.4 508.5,550.9 509.5,550.3 510.5,551 511.5,549.2 512.5,550.3 513.5,553.9 514.5,550.5 515,551 515,571 514.5,571 513.5,571 512.5,571 511.5,571 510.5,571 509.5,571 508.5,571 507.5,571 506.5,571 505.5,571 504.5,571 503.5,571 502.5,571 501.5,571 500.5,571 499.5,571 498.5,571 497.5,571 496.5,571 495.5,571 494.5,571 493.5,571 492.5,571 491.5,571 490.5,571 489.5,571 488.5,571 487.5,571 486.5,571 485.5,571 484.5,571 483.5,571 482.5,571 481.5,571 480.5,571 479.5,571 478.5,571 477.5,571 476.5,571 475.5,571 474.5,571 473.5,571 472.5,571 471.5,571 470.5,571 469.5,571 468.5,571 467.5,571 466.5,571 465.5,571 464.5,571 463.5,571 462.5,571 461.5,571 460.5,571 459.5,571" fill="#fde725" fill-opacity="0.25"/><polygon points="459.5,535.2 460.5,536.7 461.5,535.2 462.5,537.4 463.5,539.2 464.5,539.9 465.5,541.4 466.5,537 467.5,540.7 468.5,538.3 469.5,539.6 470.5,541.3 471.5,543.2 472.5,542.5 473.5,544.7 474.5,539.3 475.5,541.4 476.5,542.7 477.5,540.4 478.5,540.8 479.5,543 480.5,544.5 481.5,542.3 482.5,542.2 483.5,544 484.5,546.9 485.5,546.2 486.5,549.1 487.5,547.1 488.5,549.1 489.5,547.5 490.5,547.3 491.5,547.2 492.5,545.5 493.5,545.8 494.5,549.7 495.5,551.2 496.5,546.5 497.5,547.8 498.5,549 499.5,549.3 500.5,552.7 501.5,549.6 502.5,550.2 503.5,551.6 504.5,554.7 505.5,551.1 506.5,553.5 507.5,550.2 508.5,552.8 509.5,556.1 510.5,552.2 511.5,553.3 512.5,555.4 513.5,555.1 514.5,555.5 515,555.9 515,571 514.5,571 513.5,571 512.5,571 511.5,571 510.5,571 509.5,571 508.5,571 507.5,571 506.5,571 505.5,571 504.5,571 503.5,571 502.5,571 501.5,571 500.5,571 499.5,571 498.5,571 497.5,571 496.5,571 495.5,571 494.5,571 493.5,571 492.5,571 491.5,571 490.5,571 489.5,571 488.5,571 487.5,571 486.5,571 485.5,571 484.5,571 483.5,571 482.5,571 481.5,571 480.5,571 479.5,571 478.5,571 477.5,571 476.5,571 475.5,571 474.5,571 473.5,571 472.5,571 471.5,571 470.5,571 469.5,571 468.5,571 467.5,571 466.5,571 465.5,571 464.5,571 463.5,571 462.5,571 461.5,571 460.5,571 459.5,571" fill="#fde725" fill-opacity="0.25"/><polygon points="459.5,540.7 460.5,538.9 461.5,539.4 462.5,540 463.5,541.1 464.5,541.7 465.5,543.8 466.5,541.3 467.5,541.9 468.5,544.6 469.5,545.7 470.5,541.7 471.5,544.9 472.5,542.4 473.5,545.7 474.5,541.8 475.5,544.9 476.5,545.6 477.5,546.7 478.5,548.4 479.5,548 480.5,546.9 481.5,546.8 482.5,544.3 483.5,547.8 484.5,548.2 485.5,549.6 486.5,546.5 487.5,549.4 488.5,546.5 489.5,550.8 490.5,551.7 491.5,549.8 492.5,551.6 493.5,551.8 494.5,550 495.5,549 496.5,553.3 497.5,551.3 498.5,550.4 499.5,552.4 500.5,555.1 501.5,556.2 502.5,554.2 503.5,556.9 504.5,552.5 505.5,554.7 506.5,552.1 507.5,553.8 508.5,557.9 509.5,553.3 510.5,557.2 511.5,556.6 512.5,559.8 513.5,560.1 514.5,555.2 515,556.2 515,571 514.5,571 513.5,571 512.5,571 511.5,571 510.5,571 509.5,571 508.5,571 507.5,571 506.5,571 505.5,571 504.5,571 503.5,571 502.5,571 501.5,571 500.5,571 499.5,571 498.5,571 497.5,571 496.5,571 495.5,571 494.5,571 493.5,571 492.5,571 491.5,571 490.5,571 489.5,571 488.5,571 487.5,571 486.5,571 485.5,571 484.5,571 483.5,571 482.5,571 481.5,571 480.5,571 479.5,571 478.5,571 477.5,571 476.5,571 475.5,571 474.5,571 473.5,571 472.5,571 471.5,571 470.5,571 469.5,571 468.5,571 467.5,571 466.5,571 465.5,571 464.5,571 463.5,571 462.5,571 461.5,571 460.5,571 459.5,571" fill="#fde725" fill-opacity="0.25"/><polygon points="459.5,543.8 460.5,541.7 461.5,541.5 462.5,544.5 463.5,543.7 464.5,543 465.5,544.2 466.5,544 467.5,544.5 468.5,545.2 469.5,544.1 470.5,546 471.5,547.6 472.5,546.6 473.5,547.7 474.5,546.2 475.5,546 476.5,545.8 477.5,549.7 478.5,546.9 479.5,548.2 480.5,549.5 481.5,550.1 482.5,550 483.5,549.7 484.5,551.4 485.5,550.4 486.5,552.1 487.5,549.6 488.5,552.4 489.5,550.4 490.5,551.8 491.5,552.3 492.5,551.7 493.5,553 494.5,554.8 495.5,552.2 496.5,553.1 497.5,556.2 498.5,554.7 499.5,554.8 500.5,557 501.5,556.8 502.5,555 503.5,556.9 504.5,555.7 505.5,558.1 506.5,557.7 507.5,558.8 508.5,556.5 509.5,559.9 510.5,557.7 511.5,560.2 512.5,559 513.5,560.9 514.5,558.4 515,558.4 515,571 514.5,571 513.5,571 512.5,571 511.5,571 510.5,571 509.5,571 508.5,571 507.5,571 506.5,571 505.5,571 504.5,571 503.5,571 502.5,571 501.5,571 500.5,571 499.5,571 498.5,571 497.5,571 496.5,571 495.5,571 494.5,571 493.5,571 492.5,571 491.5,571 490.5,571 489.5,571 488.5,571 487.5,571 486.5,571 485.5,571 484.5,571 483.5,571 482.5,571 481.5,571 480.5,571 479.5,571 478.5,571 477.5,571 476.5,571 475.5,571 474.5,571 473.5,571 472.5,571 471.5,571 470.5,571 469.5,571 468.5,571 467.5,571 466.5,571 465.5,571 464.5,571 463.5,571 462.5,571 461.5,571 460.5,571 459.5,571" fill="#f4de22"/><polygon points="468.2,556 469,553 469.8,556" fill="#440154" fill-opacity="0.6"/><polygon points="492.2,557 493,552 493.8,557" fill="#440154" fill-opacity="0.6"/><polygon points="502.5,557 503.5,544 504.5,557" fill="#440154" fill-opacity="0.9"/><polyline points="459,566 461,566.6 463,566 465,566 467,565.5 469,566.1 471,565.9 473,566.5 475,566.3 477,566 479,565.5 481,565.5 483,566.7 485,566.2 487,565.6 489,566.4 491,565.6 493,565.9 495,566.5 497,565.4 499,565.4 501,565.4 503,565.5 505,565.8 507,565.8 509,565.7 511,565.3 513,566 515,565.9" fill="none" stroke="#440154" stroke-width="1.2" stroke-opacity="0.35"/><polygon points="515,548.7 516,547.5 517,548.3 518,547.6 519,548.9 520,547.2 521,548.2 522,548.1 523,548.2 524,548.5 525,548.5 526,547.9 527,549.5 528,549.9 529,548.8 530,549.1 531,549.4 532,548.2 533,549.1 534,548.7 535,548.8 536,548.6 537,549.1 538,548.2 539,548.3 540,548.2 541,549.4 542,548.4 543,550.1 544,550.5 545,550.1 546,548.8 547,550.7 548,549 549,549.1 550,549.8 551,550 552,549.3 553,550.5 554,550.8 555,549.1 556,549 557,549.5 558,550.5 559,550.4 560,549 561,549.7 561,571 560,571 559,571 558,571 557,571 556,571 555,571 554,571 553,571 552,571 551,571 550,571 549,571 548,571 547,571 546,571 545,571 544,571 543,571 542,571 541,571 540,571 539,571 538,571 537,571 536,571 535,571 534,571 533,571 532,571 531,571 530,571 529,571 528,571 527,571 526,571 525,571 524,571 523,571 522,571 521,571 520,571 519,571 518,571 517,571 516,571 515,571" fill="#fde725" fill-opacity="0.3"/><polygon points="515,550.5 516,550.8 517,549.7 518,550.3 519,550.5 520,548.7 521,548.3 522,550 523,549.3 524,550.4 525,549.1 526,549.6 527,550.8 528,548.7 529,549.7 530,548.9 531,550.1 532,550.8 533,551.6 534,550.9 535,549.1 536,550.1 537,550.4 538,550.7 539,551 540,551.8 541,551.8 542,549.6 543,549.5 544,552 545,549.6 546,552.1 547,549.6 548,551 549,549.7 550,549.8 551,550.4 552,551.8 553,551.6 554,550.5 555,550 556,550.7 557,550.2 558,550.4 559,551.2 560,551.3 561,552.6 561,571 560,571 559,571 558,571 557,571 556,571 555,571 554,571 553,571 552,571 551,571 550,571 549,571 548,571 547,571 546,571 545,571 544,571 543,571 542,571 541,571 540,571 539,571 538,571 537,571 536,571 535,571 534,571 533,571 532,571 531,571 530,571 529,571 528,571 527,571 526,571 525,571 524,571 523,571 522,571 521,571 520,571 519,571 518,571 517,571 516,571 515,571" fill="#fde725" fill-opacity="0.3"/><polygon points="515,549.4 516,550.8 517,550.9 518,549.7 519,550.4 520,549.8 521,552.1 522,550.5 523,549.7 524,551 525,551.2 526,552.3 527,551.8 528,550.4 529,552.5 530,549.8 531,552 532,550 533,552.4 534,550.6 535,552.4 536,552.5 537,552.4 538,550.5 539,551.4 540,550.6 541,552.5 542,553.3 543,552 544,552.4 545,552.5 546,550.9 547,551.7 548,551.6 549,552.9 550,551.9 551,551.8 552,552.4 553,551.4 554,551.1 555,551.6 556,551 557,553 558,552.4 559,552.9 560,552.8 561,551.3 561,571 560,571 559,571 558,571 557,571 556,571 555,571 554,571 553,571 552,571 551,571 550,571 549,571 548,571 547,571 546,571 545,571 544,571 543,571 542,571 541,571 540,571 539,571 538,571 537,571 536,571 535,571 534,571 533,571 532,571 531,571 530,571 529,571 528,571 527,571 526,571 525,571 524,571 523,571 522,571 521,571 520,571 519,571 518,571 517,571 516,571 515,571" fill="#fde725" fill-opacity="0.3"/><polygon points="515,552.6 516,552.6 517,551.2 518,552 519,552.7 520,552.1 521,552.9 522,552.7 523,552.6 524,553.1 525,552.9 526,552.6 527,551.7 528,552.5 529,552.9 530,552.7 531,552.8 532,552.5 533,553.4 534,552.4 535,553.1 536,552.8 537,552.3 538,552.1 539,552.4 540,552.7 541,553.1 542,552.3 543,552.4 544,553.8 545,554.2 546,553.2 547,553.3 548,553.6 549,552.8 550,553.6 551,553.9 552,554.4 553,553.9 554,553.8 555,553.6 556,554.5 557,553.9 558,553.8 559,554.3 560,553.8 561,553.2 561,571 560,571 559,571 558,571 557,571 556,571 555,571 554,571 553,571 552,571 551,571 550,571 549,571 548,571 547,571 546,571 545,571 544,571 543,571 542,571 541,571 540,571 539,571 538,571 537,571 536,571 535,571 534,571 533,571 532,571 531,571 530,571 529,571 528,571 527,571 526,571 525,571 524,571 523,571 522,571 521,571 520,571 519,571 518,571 517,571 516,571 515,571" fill="#f4de22"/><polygon points="514.2,559 515.5,547 516.8,559" fill="#440154" fill-opacity="0.95"/><polyline points="516,558.7 518,559.3 520,558.3 522,557.8 524,557.8 526,559.4 528,557.9 530,559 532,557.9 534,558.7 536,559.5 538,558.2 540,558.4 542,559 544,559 546,559 548,558.6 550,558 552,559.1 554,558.5 556,559.2 558,558.8 560,558.5 561,560" fill="none" stroke="#440154" stroke-width="2.5" stroke-opacity="0.8"/><polyline points="515,566.8 517,567.7 519,567 521,567 523,566.7 525,566.5 527,567.3 529,566.9 531,567.1 533,566.6 535,567 537,567.2 539,567.4 541,567.2 543,566.9 545,567.3 547,567.1 549,567 551,567.2 553,566.7 555,566.4 557,566.5 559,567.7 561,567.5" fill="none" stroke="#440154" stroke-width="1.2" stroke-opacity="0.4"/><polygon points="561.5,539.3 562.5,537.3 563.5,539.8 564.5,539.8 565.5,539.1 566.5,538.3 567.5,537.8 568.5,541.5 569.5,541.8 570.5,541.4 571.5,540 572.5,541.4 573.5,542.3 574.5,541.1 575.5,539.6 576.5,543.2 577.5,541.6 578.5,542.7 579.5,542.2 580.5,540.2 581.5,541.9 582.5,540.3 583.5,541.5 584.5,544.4 585.5,543.5 586.5,543.2 587.5,541.5 588.5,544 589.5,543.8 590.5,544.1 591.5,544.5 592.5,545.6 593.5,543.9 594.5,544.7 595.5,544.5 596.5,544.9 597.5,545.5 598.5,543.7 599.5,543.3 600.5,543.7 601.5,543.6 602.5,545.8 603.5,545 604.5,547.1 605.5,544.7 606.5,544.9 607.5,547.9 608.5,544.9 609.5,546.2 610.5,547.7 611,547.3 611,571 610.5,571 609.5,571 608.5,571 607.5,571 606.5,571 605.5,571 604.5,571 603.5,571 602.5,571 601.5,571 600.5,571 599.5,571 598.5,571 597.5,571 596.5,571 595.5,571 594.5,571 593.5,571 592.5,571 591.5,571 590.5,571 589.5,571 588.5,571 587.5,571 586.5,571 585.5,571 584.5,571 583.5,571 582.5,571 581.5,571 580.5,571 579.5,571 578.5,571 577.5,571 576.5,571 575.5,571 574.5,571 573.5,571 572.5,571 571.5,571 570.5,571 569.5,571 568.5,571 567.5,571 566.5,571 565.5,571 564.5,571 563.5,571 562.5,571 561.5,571" fill="#fde725" fill-opacity="0.35"/><polygon points="561.5,539.1 562.5,538.8 563.5,540.8 564.5,539.7 565.5,542.3 566.5,540.2 567.5,543.1 568.5,539.6 569.5,542.2 570.5,541.1 571.5,542.1 572.5,542.2 573.5,543.9 574.5,541.6 575.5,544.2 576.5,541.4 577.5,544 578.5,544.9 579.5,543.5 580.5,545.3 581.5,543.5 582.5,543.7 583.5,546.1 584.5,546.5 585.5,545.9 586.5,543.8 587.5,546.9 588.5,544.7 589.5,546.9 590.5,544.9 591.5,544.6 592.5,544.9 593.5,546.8 594.5,548.2 595.5,546.5 596.5,545 597.5,547.5 598.5,548.5 599.5,548.2 600.5,545.3 601.5,546.7 602.5,548.7 603.5,548.6 604.5,549.9 605.5,549.7 606.5,549.4 607.5,549.2 608.5,548.1 609.5,546.9 610.5,550 611,548.8 611,571 610.5,571 609.5,571 608.5,571 607.5,571 606.5,571 605.5,571 604.5,571 603.5,571 602.5,571 601.5,571 600.5,571 599.5,571 598.5,571 597.5,571 596.5,571 595.5,571 594.5,571 593.5,571 592.5,571 591.5,571 590.5,571 589.5,571 588.5,571 587.5,571 586.5,571 585.5,571 584.5,571 583.5,571 582.5,571 581.5,571 580.5,571 579.5,571 578.5,571 577.5,571 576.5,571 575.5,571 574.5,571 573.5,571 572.5,571 571.5,571 570.5,571 569.5,571 568.5,571 567.5,571 566.5,571 565.5,571 564.5,571 563.5,571 562.5,571 561.5,571" fill="#fde725" fill-opacity="0.35"/><polygon points="561.5,543.5 562.5,540.7 563.5,543.9 564.5,543.2 565.5,544.4 566.5,543.9 567.5,543.1 568.5,543.6 569.5,542.2 570.5,543 571.5,544.5 572.5,543.2 573.5,544.1 574.5,545.5 575.5,545.5 576.5,546.8 577.5,545.1 578.5,545.8 579.5,545.4 580.5,546.9 581.5,546.6 582.5,548 583.5,545 584.5,545.1 585.5,545.9 586.5,547.4 587.5,547.6 588.5,546.1 589.5,546.5 590.5,548 591.5,546.8 592.5,549.2 593.5,546.5 594.5,549.4 595.5,547 596.5,549.4 597.5,549.9 598.5,550.7 599.5,550.7 600.5,547.3 601.5,550.1 602.5,551.2 603.5,550.8 604.5,549.7 605.5,551.1 606.5,549.4 607.5,551.6 608.5,550.2 609.5,552.6 610.5,549 611,551.3 611,571 610.5,571 609.5,571 608.5,571 607.5,571 606.5,571 605.5,571 604.5,571 603.5,571 602.5,571 601.5,571 600.5,571 599.5,571 598.5,571 597.5,571 596.5,571 595.5,571 594.5,571 593.5,571 592.5,571 591.5,571 590.5,571 589.5,571 588.5,571 587.5,571 586.5,571 585.5,571 584.5,571 583.5,571 582.5,571 581.5,571 580.5,571 579.5,571 578.5,571 577.5,571 576.5,571 575.5,571 574.5,571 573.5,571 572.5,571 571.5,571 570.5,571 569.5,571 568.5,571 567.5,571 566.5,571 565.5,571 564.5,571 563.5,571 562.5,571 561.5,571" fill="#fde725" fill-opacity="0.35"/><polygon points="561.5,543.1 562.5,544.9 563.5,545.6 564.5,544.6 565.5,545.7 566.5,544.5 567.5,544.2 568.5,546.3 569.5,545.6 570.5,545 571.5,546.6 572.5,547.4 573.5,545.7 574.5,547.2 575.5,546.7 576.5,546.2 577.5,546.4 578.5,546.5 579.5,547.3 580.5,547.5 581.5,548.2 582.5,548.5 583.5,549.3 584.5,549.4 585.5,548 586.5,549.2 587.5,550 588.5,548.6 589.5,549.7 590.5,550.8 591.5,550.1 592.5,550.4 593.5,549.6 594.5,551.4 595.5,551.2 596.5,550.2 597.5,550.3 598.5,549.7 599.5,551 600.5,552.1 601.5,552.1 602.5,550.7 603.5,551.1 604.5,551.1 605.5,551.5 606.5,551.5 607.5,551.6 608.5,552.7 609.5,553.7 610.5,553.8 611,553.3 611,571 610.5,571 609.5,571 608.5,571 607.5,571 606.5,571 605.5,571 604.5,571 603.5,571 602.5,571 601.5,571 600.5,571 599.5,571 598.5,571 597.5,571 596.5,571 595.5,571 594.5,571 593.5,571 592.5,571 591.5,571 590.5,571 589.5,571 588.5,571 587.5,571 586.5,571 585.5,571 584.5,571 583.5,571 582.5,571 581.5,571 580.5,571 579.5,571 578.5,571 577.5,571 576.5,571 575.5,571 574.5,571 573.5,571 572.5,571 571.5,571 570.5,571 569.5,571 568.5,571 567.5,571 566.5,571 565.5,571 564.5,571 563.5,571 562.5,571 561.5,571" fill="#f4de22"/><polygon points="560.6,558 561,537 562,537 562.4,545.3 562.8,550.3 563.2,553.3 563.6,555.2 564,556.3 564.5,557 564.5,558" fill="#440154" fill-opacity="0.95"/><polygon points="563.8,558 564.5,550 565.2,558" fill="#440154" fill-opacity="0.8"/><polygon points="573.2,558 574.3,525 575.4,558" fill="#440154"/><polygon points="582.2,558 583,552 583.8,558" fill="#440154" fill-opacity="0.6"/><polyline points="562,557.6 564,558.8 566,557.4 568,557.1 570,557.4 572,558.6 574,558.4 576,557.6 578,557.4 580,558.3 582,558 584,558.6 586,557.9 588,557.2 590,557.1 592,557.5 594,558 596,558.4 598,558.1 600,557 602,558.9 604,557.9 606,558.1 608,557.4 610,557.5 611,557.4" fill="none" stroke="#440154" stroke-width="1.6" stroke-opacity="0.75"/><polyline points="561,567.6 563,568.1 565,567.2 567,567.3 569,567.2 571,566.8 573,566.8 575,567.9 577,568.2 579,566.9 581,566.9 583,567.4 585,567.2 587,567.1 589,568 591,567.1 593,567.1 595,568.1 597,567.7 599,567.8 601,567.7 603,566.8 605,568.2 607,566.8 609,567.1 611,567.5" fill="none" stroke="#440154" stroke-width="1.5" stroke-opacity="0.55"/><polygon points="611,531.7 612,532.5 613,528.1 614,529 615,528.7 616,529.6 617,533.7 618,529.9 619,532.4 620,531 621,530.3 622,531.9 623,532.1 624,533.8 625,535.7 626,534.3 627,534.6 628,533.6 629,533.4 630,535.1 631,535 632,537.8 633,534.6 634,534 635,534.4 636,536 637,535.8 638,536.9 639,539.6 640,539.1 641,538.8 642,540.3 643,540.8 644,537 645,540.4 646,537.9 647,539.6 648,539.8 649,539.5 650,538.7 651,539.7 652,542.6 653,544.1 654,544.2 655,540.1 656,543.1 657,541.5 658,543.4 659,543.8 660,542.2 661,542.2 662,544.4 663,542.6 664,546.8 665,547.4 666,543.3 667,547.5 668,547.7 668,571 667,571 666,571 665,571 664,571 663,571 662,571 661,571 660,571 659,571 658,571 657,571 656,571 655,571 654,571 653,571 652,571 651,571 650,571 649,571 648,571 647,571 646,571 645,571 644,571 643,571 642,571 641,571 640,571 639,571 638,571 637,571 636,571 635,571 634,571 633,571 632,571 631,571 630,571 629,571 628,571 627,571 626,571 625,571 624,571 623,571 622,571 621,571 620,571 619,571 618,571 617,571 616,571 615,571 614,571 613,571 612,571 611,571" fill="#fde725" fill-opacity="0.3"/><polygon points="611,529.7 612,532.7 613,532.4 614,531.2 615,534.7 616,533.7 617,535.2 618,536.1 619,536.6 620,535.3 621,536.6 622,532.9 623,534.5 624,535.5 625,535.9 626,535.5 627,538 628,537.1 629,538.7 630,537 631,539.7 632,537.1 633,540.5 634,538.7 635,538 636,539.5 637,537.2 638,540.4 639,540.2 640,541.5 641,538.2 642,540.2 643,541.3 644,539 645,542.8 646,543.8 647,542.7 648,543.7 649,544.9 650,542.7 651,543.3 652,545.5 653,544.7 654,543 655,544.9 656,546.1 657,546.8 658,543.5 659,544 660,546.9 661,547.3 662,547.7 663,546.8 664,546.5 665,549.7 666,546.5 667,546.9 668,545.6 668,571 667,571 666,571 665,571 664,571 663,571 662,571 661,571 660,571 659,571 658,571 657,571 656,571 655,571 654,571 653,571 652,571 651,571 650,571 649,571 648,571 647,571 646,571 645,571 644,571 643,571 642,571 641,571 640,571 639,571 638,571 637,571 636,571 635,571 634,571 633,571 632,571 631,571 630,571 629,571 628,571 627,571 626,571 625,571 624,571 623,571 622,571 621,571 620,571 619,571 618,571 617,571 616,571 615,571 614,571 613,571 612,571 611,571" fill="#fde725" fill-opacity="0.3"/><polygon points="611,531.9 612,534.9 613,535.4 614,533.4 615,536.3 616,533.7 617,535 618,536.6 619,537.6 620,536.2 621,538.3 622,536.9 623,538.1 624,539.3 625,538.2 626,538.5 627,540.6 628,536.4 629,536.6 630,536.9 631,538.6 632,540 633,540.7 634,541.3 635,538.2 636,542.8 637,539.9 638,543.8 639,541 640,543.7 641,543.4 642,540.2 643,542.9 644,542.7 645,545.9 646,542.4 647,543.5 648,542.7 649,542.2 650,545.2 651,545.9 652,543.9 653,547.5 654,544.8 655,548.6 656,547.6 657,549.4 658,547 659,549.3 660,548.5 661,549.3 662,548.1 663,548.9 664,548 665,548.6 666,551.8 667,547.9 668,551.7 668,571 667,571 666,571 665,571 664,571 663,571 662,571 661,571 660,571 659,571 658,571 657,571 656,571 655,571 654,571 653,571 652,571 651,571 650,571 649,571 648,571 647,571 646,571 645,571 644,571 643,571 642,571 641,571 640,571 639,571 638,571 637,571 636,571 635,571 634,571 633,571 632,571 631,571 630,571 629,571 628,571 627,571 626,571 625,571 624,571 623,571 622,571 621,571 620,571 619,571 618,571 617,571 616,571 615,571 614,571 613,571 612,571 611,571" fill="#fde725" fill-opacity="0.3"/><polygon points="611,537.2 612,534.6 613,536.2 614,538.5 615,537.1 616,537.4 617,537.7 618,536.3 619,540.7 620,539.7 621,537.7 622,538.3 623,540.3 624,541.4 625,540.1 626,539.1 627,539.7 628,540.9 629,542.9 630,542.3 631,540.1 632,539.4 633,542.9 634,541.2 635,544.5 636,541.2 637,545.7 638,545 639,542.5 640,541.6 641,545.9 642,542.6 643,543.1 644,544.6 645,543.8 646,543.8 647,546.3 648,547.1 649,548.1 650,544.8 651,545 652,547.4 653,549.1 654,546.7 655,548.9 656,546.8 657,551 658,551.2 659,551.8 660,549.4 661,548.1 662,552.1 663,550.5 664,550.4 665,551 666,552.7 667,553.1 668,551.7 668,571 667,571 666,571 665,571 664,571 663,571 662,571 661,571 660,571 659,571 658,571 657,571 656,571 655,571 654,571 653,571 652,571 651,571 650,571 649,571 648,571 647,571 646,571 645,571 644,571 643,571 642,571 641,571 640,571 639,571 638,571 637,571 636,571 635,571 634,571 633,571 632,571 631,571 630,571 629,571 628,571 627,571 626,571 625,571 624,571 623,571 622,571 621,571 620,571 619,571 618,571 617,571 616,571 615,571 614,571 613,571 612,571 611,571" fill="#fde725" fill-opacity="0.3"/><polygon points="611,537.3 612,537.2 613,537.2 614,540.2 615,540.5 616,538.1 617,539.9 618,541.4 619,540.4 620,541.9 621,539.7 622,541.7 623,542.3 624,540.4 625,541 626,543.5 627,541.6 628,543 629,544.2 630,543.9 631,544.3 632,543.2 633,545.1 634,543.3 635,544.3 636,544.9 637,545.8 638,544.1 639,544.4 640,545.6 641,545.3 642,547.8 643,546.7 644,547.5 645,547.3 646,548.9 647,549.4 648,549.6 649,547.4 650,549.3 651,550.1 652,550.8 653,550 654,550.1 655,549.5 656,549.3 657,549.6 658,550.7 659,552.3 660,551.6 661,552.3 662,551.8 663,554.2 664,554.4 665,552.7 666,553.4 667,552.8 668,553.7 668,571 667,571 666,571 665,571 664,571 663,571 662,571 661,571 660,571 659,571 658,571 657,571 656,571 655,571 654,571 653,571 652,571 651,571 650,571 649,571 648,571 647,571 646,571 645,571 644,571 643,571 642,571 641,571 640,571 639,571 638,571 637,571 636,571 635,571 634,571 633,571 632,571 631,571 630,571 629,571 628,571 627,571 626,571 625,571 624,571 623,571 622,571 621,571 620,571 619,571 618,571 617,571 616,571 615,571 614,571 613,571 612,571 611,571" fill="#f4de22"/><polyline points="611,551.5 613,552.7 615,552 617,553 619,551.9 621,553.4 623,553.5 625,553 627,554.2 629,554.6 631,554.9 633,554.7 635,554.4 637,554.9 639,555.4 641,554.7 643,556.1 645,556.1 647,556.2 649,556.5 651,555.3 653,557.1 655,556.6 657,557.3 659,557.4 661,557.2 663,558 665,558.5 667,559" fill="none" stroke="#440154" stroke-width="2.8" stroke-opacity="0.55"/><polygon points="610.5,560 611.5,545 612.5,560" fill="#440154" fill-opacity="0.9"/><polygon points="616.8,556 617.5,548 618.2,556" fill="#440154" fill-opacity="0.6"/><polyline points="611,566.8 613,568.1 615,567.9 617,567.6 619,567.9 621,567.3 623,567.4 625,566.9 627,568.1 629,567.9 631,567.5 633,567.7 635,568 637,567 639,567.6 641,567.8 643,567.6 645,568.2 647,567.2 649,567.8 651,567.9 653,567.3 655,568.1 657,567.4 659,567 661,567 663,567.4 665,568.2 667,568.1" fill="none" stroke="#440154" stroke-width="1.2" stroke-opacity="0.35"/><polygon points="668,555.2 669,554.5 670,554 671,554.5 672,554.4 673,555.4 674,553.8 675,553.8 676,554.8 677,555 678,554.8 679,553.1 680,554.5 681,553.5 682,553.5 683,553.5 684,552.7 685,553.1 686,554.7 687,555.1 688,553.1 689,555.6 690,554.2 691,555.1 692,552.9 693,553 694,555.3 695,553.1 696,553 697,554.8 698,553 699,554.1 700,555.3 701,553.2 702,555.4 703,555.7 704,555.9 705,554.8 706,555.4 707,553.5 708,554.7 709,555.6 710,555.6 711,553.5 712,555.5 713,554.2 714,554.6 715,555.5 716,555.1 717,554.1 718,555.7 719,555.9 720,555.6 721,553.3 722,553.2 723,554.9 724,553.5 725,553.5 726,555.8 727,553.4 728,554.1 729,554.2 730,556.1 731,556.1 732,555.6 733,554.7 734,553.7 735,556.2 736,554 737,555.3 738,555.7 739,554.9 740,556 741,556.2 742,554.5 743,555.6 744,553.7 745,554.7 746,555.5 747,554.3 748,554.6 749,555.8 749,571 748,571 747,571 746,571 745,571 744,571 743,571 742,571 741,571 740,571 739,571 738,571 737,571 736,571 735,571 734,571 733,571 732,571 731,571 730,571 729,571 728,571 727,571 726,571 725,571 724,571 723,571 722,571 721,571 720,571 719,571 718,571 717,571 716,571 715,571 714,571 713,571 712,571 711,571 710,571 709,571 708,571 707,571 706,571 705,571 704,571 703,571 702,571 701,571 700,571 699,571 698,571 697,571 696,571 695,571 694,571 693,571 692,571 691,571 690,571 689,571 688,571 687,571 686,571 685,571 684,571 683,571 682,571 681,571 680,571 679,571 678,571 677,571 676,571 675,571 674,571 673,571 672,571 671,571 670,571 669,571 668,571" fill="#fde725" fill-opacity="0.4"/><polygon points="668,554.1 669,556.3 670,553.9 671,554.2 672,555.4 673,554.3 674,556.1 675,554.7 676,554 677,555.6 678,554.9 679,555.5 680,554 681,553.8 682,554.6 683,555.2 684,554.3 685,554.3 686,556.2 687,554.5 688,554.8 689,556.4 690,556.8 691,556.1 692,554.2 693,556.1 694,554.1 695,556.2 696,554.7 697,554.5 698,555.1 699,554.3 700,555.9 701,556.4 702,555.9 703,556.3 704,554.4 705,554.8 706,556.5 707,555 708,556.2 709,555.7 710,554.5 711,554.7 712,556.8 713,556.8 714,555.9 715,554.1 716,554.1 717,556.9 718,556.5 719,556.2 720,554.9 721,556.9 722,554.4 723,556.2 724,556.3 725,555.3 726,556.7 727,554.8 728,557.1 729,557.1 730,555.3 731,555.3 732,556.7 733,555.3 734,556.1 735,556.4 736,557.2 737,556.6 738,555.2 739,555.4 740,554.6 741,556.8 742,556.9 743,555.1 744,555.9 745,555.5 746,555.3 747,554.6 748,556.3 749,557.4 749,571 748,571 747,571 746,571 745,571 744,571 743,571 742,571 741,571 740,571 739,571 738,571 737,571 736,571 735,571 734,571 733,571 732,571 731,571 730,571 729,571 728,571 727,571 726,571 725,571 724,571 723,571 722,571 721,571 720,571 719,571 718,571 717,571 716,571 715,571 714,571 713,571 712,571 711,571 710,571 709,571 708,571 707,571 706,571 705,571 704,571 703,571 702,571 701,571 700,571 699,571 698,571 697,571 696,571 695,571 694,571 693,571 692,571 691,571 690,571 689,571 688,571 687,571 686,571 685,571 684,571 683,571 682,571 681,571 680,571 679,571 678,571 677,571 676,571 675,571 674,571 673,571 672,571 671,571 670,571 669,571 668,571" fill="#fde725" fill-opacity="0.4"/><polygon points="668,555.4 669,556.5 670,556.5 671,556.1 672,556.7 673,555.9 674,556.3 675,555.3 676,555.5 677,556.3 678,556.7 679,556.1 680,556.9 681,556.1 682,556 683,556.7 684,557 685,556.9 686,556.5 687,555.7 688,555.9 689,556.4 690,555.4 691,555.9 692,556.8 693,555.9 694,556.6 695,556 696,555.7 697,556.1 698,556 699,556 700,556.1 701,557.2 702,556.6 703,556.4 704,556 705,556.1 706,557 707,556.2 708,555.9 709,556.3 710,556.8 711,557.3 712,557.1 713,556.5 714,556 715,557.3 716,555.8 717,556.8 718,557.5 719,556.3 720,556.7 721,556.3 722,556.5 723,556 724,556.9 725,557.1 726,556 727,555.8 728,556.3 729,556.5 730,556.6 731,557.2 732,556.8 733,556 734,555.9 735,556.7 736,556.2 737,557.4 738,557.3 739,557.4 740,557.1 741,556.4 742,557.4 743,556.5 744,556.3 745,556.1 746,556.8 747,557.8 748,557.3 749,557.3 749,571 748,571 747,571 746,571 745,571 744,571 743,571 742,571 741,571 740,571 739,571 738,571 737,571 736,571 735,571 734,571 733,571 732,571 731,571 730,571 729,571 728,571 727,571 726,571 725,571 724,571 723,571 722,571 721,571 720,571 719,571 718,571 717,571 716,571 715,571 714,571 713,571 712,571 711,571 710,571 709,571 708,571 707,571 706,571 705,571 704,571 703,571 702,571 701,571 700,571 699,571 698,571 697,571 696,571 695,571 694,571 693,571 692,571 691,571 690,571 689,571 688,571 687,571 686,571 685,571 684,571 683,571 682,571 681,571 680,571 679,571 678,571 677,571 676,571 675,571 674,571 673,571 672,571 671,571 670,571 669,571 668,571" fill="#f4de22"/><polygon points="667.6,559 668,531 669,531 669.5,542 670,548.7 670.5,552.8 671,555.2 671.5,556.7 672,557.6 672,559" fill="#440154"/><polygon points="668,556.7 669,556.9 670,558 671,558.2 672,556.7 673,557.3 674,557.1 675,556.4 676,557.2 677,556.2 678,557.9 679,556.9 680,557.6 681,557.9 682,556.6 683,558.3 684,558.4 685,557.2 686,556.3 687,557.6 688,557.7 689,556.7 690,558 691,556.8 692,556.8 693,556.4 694,557.7 695,558 696,557.9 697,557 698,557 699,556.4 700,556.7 701,556.9 702,556.8 703,556.5 704,557.3 705,556.4 706,557.6 707,556.4 708,557.4 709,556.7 710,556.9 711,558.2 712,556.7 713,558.4 714,558.2 715,558.1 716,557.9 717,558.4 718,557.2 719,557.7 720,556.8 721,556.7 722,557.7 723,558.2 724,559.1 725,558.8 726,557 727,559.1 728,557.8 729,557.9 730,557.3 731,557.2 732,558 733,558.3 734,559 735,558.6 736,557.5 737,558.5 738,559 739,557.7 740,557.8 741,557.8 742,559.5 743,557.5 744,558.7 745,558.1 746,559 747,558.5 748,557.8 749,559.4 749,563.6 748,562.7 747,563 746,562.9 745,563.1 744,562.9 743,563.6 742,563.5 741,563.2 740,562.9 739,563.5 738,563.1 737,563.7 736,563.8 735,563.6 734,563.9 733,562.9 732,563.7 731,563 730,563.7 729,563.3 728,562.7 727,562.7 726,563.6 725,563 724,562.4 723,563.1 722,562.4 721,562.2 720,562.5 719,563.3 718,562.4 717,563.4 716,562.1 715,562.5 714,562 713,563.1 712,562.9 711,563.2 710,563.2 709,563.3 708,562.5 707,562.4 706,562.8 705,562.6 704,562.1 703,562.5 702,562.4 701,563.1 700,561.8 699,562.8 698,562.8 697,563.1 696,562.5 695,562.8 694,561.8 693,563 692,561.7 691,562.5 690,561.7 689,561.9 688,562.6 687,562.1 686,562.6 685,561.8 684,561.6 683,562 682,562.2 681,562.7 680,562.8 679,562 678,562.9 677,562.2 676,561.6 675,562.1 674,562.4 673,562.5 672,561.5 671,562.8 670,562.1 669,561.2 668,561.7" fill="#440154" fill-opacity="0.88"/><polygon points="671.1,557 672,553.5 672.9,557" fill="#440154" fill-opacity="0.7"/><polygon points="683.1,557 684,551.2 684.9,557" fill="#440154" fill-opacity="0.7"/><polygon points="699.1,557 700,551.9 700.9,557" fill="#440154" fill-opacity="0.7"/><polygon points="710.1,557 711,553 711.9,557" fill="#440154" fill-opacity="0.7"/><polygon points="719.1,557 720,551.4 720.9,557" fill="#440154" fill-opacity="0.7"/><polygon points="739.1,557 740,553.2 740.9,557" fill="#440154" fill-opacity="0.7"/><polygon points="744.1,557 745,552.8 745.9,557" fill="#440154" fill-opacity="0.7"/><polygon points="749,550.3 750,552 751,549.8 752,550.2 753,551.9 754,551.5 755,550.3 756,550.9 757,552.3 758,550.3 759,550 760,551.3 761,550.5 762,552 763,550.7 764,550.5 765,551.8 766,552.9 767,551.7 768,553 769,553.1 770,552.4 771,551.9 772,551.3 773,550.5 774,551.9 775,550.9 776,552 777,551.7 778,552.1 779,552.2 780,552.1 781,553.3 782,552.2 783,550.9 784,553.2 785,552.8 786,551.8 787,552 788,552.4 789,551.9 790,552.8 791,553.8 792,551 793,553.6 794,553.9 795,553.5 796,552.4 797,553 798,552.4 799,552.2 800,551.6 801,551.7 802,552.6 803,552 804,551.8 805,553.1 806,552.1 807,553.8 808,551.6 809,552.1 810,552.7 811,552.1 812,554 813,553 813,571 812,571 811,571 810,571 809,571 808,571 807,571 806,571 805,571 804,571 803,571 802,571 801,571 800,571 799,571 798,571 797,571 796,571 795,571 794,571 793,571 792,571 791,571 790,571 789,571 788,571 787,571 786,571 785,571 784,571 783,571 782,571 781,571 780,571 779,571 778,571 777,571 776,571 775,571 774,571 773,571 772,571 771,571 770,571 769,571 768,571 767,571 766,571 765,571 764,571 763,571 762,571 761,571 760,571 759,571 758,571 757,571 756,571 755,571 754,571 753,571 752,571 751,571 750,571 749,571" fill="#fde725" fill-opacity="0.4"/><polygon points="749,551.2 750,551.6 751,553.2 752,552 753,552 754,551.8 755,551.2 756,553.5 757,552.2 758,552 759,551.6 760,552.9 761,553.6 762,554.2 763,554.2 764,551.5 765,553 766,553 767,553.2 768,552.9 769,554.4 770,553.4 771,553 772,554.6 773,553.3 774,551.8 775,553.7 776,554.7 777,553.8 778,552.5 779,554.5 780,552.1 781,554.5 782,552.4 783,554.6 784,552.6 785,552.6 786,552.9 787,553.7 788,554.3 789,553.8 790,552.5 791,555.2 792,554.9 793,553.5 794,552.5 795,553.7 796,555.4 797,555.4 798,553 799,553.2 800,555.5 801,553.6 802,554.7 803,555.5 804,555.2 805,555.2 806,554.6 807,555.2 808,553.5 809,555.6 810,553.5 811,553.3 812,555.3 813,556 813,571 812,571 811,571 810,571 809,571 808,571 807,571 806,571 805,571 804,571 803,571 802,571 801,571 800,571 799,571 798,571 797,571 796,571 795,571 794,571 793,571 792,571 791,571 790,571 789,571 788,571 787,571 786,571 785,571 784,571 783,571 782,571 781,571 780,571 779,571 778,571 777,571 776,571 775,571 774,571 773,571 772,571 771,571 770,571 769,571 768,571 767,571 766,571 765,571 764,571 763,571 762,571 761,571 760,571 759,571 758,571 757,571 756,571 755,571 754,571 753,571 752,571 751,571 750,571 749,571" fill="#fde725" fill-opacity="0.4"/><polygon points="749,554.5 750,554.3 751,553.3 752,554.1 753,553.5 754,554.2 755,554 756,553.6 757,554.3 758,554.8 759,554.7 760,553.7 761,555.2 762,555.2 763,554.2 764,555.3 765,553.9 766,554.4 767,555.2 768,553.8 769,554.4 770,553.8 771,554.2 772,554.5 773,555.4 774,555 775,554.1 776,555.4 777,555.3 778,554.6 779,554.3 780,555.4 781,555.8 782,554.5 783,554.8 784,554.8 785,556 786,554.3 787,554.3 788,554.6 789,555.2 790,556.1 791,554.5 792,555.9 793,555.4 794,556.1 795,556.3 796,555.9 797,555 798,556.3 799,554.7 800,556.5 801,555.5 802,555.2 803,556.4 804,555.7 805,555.5 806,555.4 807,555.7 808,555.4 809,555.9 810,555.8 811,555.5 812,555.1 813,555.4 813,571 812,571 811,571 810,571 809,571 808,571 807,571 806,571 805,571 804,571 803,571 802,571 801,571 800,571 799,571 798,571 797,571 796,571 795,571 794,571 793,571 792,571 791,571 790,571 789,571 788,571 787,571 786,571 785,571 784,571 783,571 782,571 781,571 780,571 779,571 778,571 777,571 776,571 775,571 774,571 773,571 772,571 771,571 770,571 769,571 768,571 767,571 766,571 765,571 764,571 763,571 762,571 761,571 760,571 759,571 758,571 757,571 756,571 755,571 754,571 753,571 752,571 751,571 750,571 749,571" fill="#f4de22"/><polygon points="752.2,556 753.5,534 754.8,556" fill="#fde725"/><polygon points="752.5,556 753.5,545 754.5,556" fill="#6b4a3c" fill-opacity="0.9"/><polyline points="750,555.6 752,555.8 754,556.6 756,555.5 758,557.5 760,557.8 762,556.8 764,558.1 766,558.3 768,558.1 770,557.6 772,558.3 774,557 776,557 778,557.1 780,558.3 782,559 784,557.5 786,557.5 788,559.1 790,559.2 792,557.8 794,557.7 796,558.3 798,558.3 800,557.9 802,558.3 804,559.7 806,558.3 808,559.2 810,559.8 812,559.9 813,559.1" fill="none" stroke="#440154" stroke-width="3" stroke-opacity="0.7"/><polygon points="813.5,544.5 814.5,545.8 815.5,545.6 816.5,546 817.5,545.5 818.5,546.3 819.5,548.4 820.5,544.6 821.5,545.6 822.5,548.1 823.5,546.8 824.5,548 825.5,545.3 826.5,549 827.5,545.2 828.5,548.4 829.5,546.3 830.5,548.2 831.5,548.7 832.5,548.5 833.5,549.5 834.5,546.6 835.5,549.2 836.5,548.4 837.5,546.7 838.5,546.9 839.5,546.5 840.5,549.8 841.5,547.6 842.5,547.8 843.5,547 844.5,549.8 845.5,548.9 846.5,547.5 847.5,550 848.5,549 849.5,550.1 850.5,549.8 851.5,548.7 852.5,548.5 853.5,550.6 854.5,547.8 855.5,547.5 856.5,550.5 857.5,549.9 858.5,550.8 859.5,549.6 860.5,551.2 861.5,548.9 862.5,547.4 863.5,549.9 864.5,548.2 865.5,548.8 866.5,548.7 867.5,548.6 868.5,549.3 869.5,549.7 870.5,547.6 871.5,550.9 872.5,548.7 873.5,550.3 874.5,548.8 875.5,547.9 876.5,548.7 877.5,548.3 878.5,548.6 879.5,550.1 880.5,550.2 881.5,548.2 882.5,550.3 883.5,550 884.5,548.2 885.5,549.9 886.5,547.8 887.5,550.2 888.5,548.6 889.5,549.9 890.5,551.4 891.5,550.4 892.5,549.9 893.5,549.9 894.5,548.7 895.5,549.6 896.5,547.9 897.5,549.7 898.5,551.6 899.5,549.8 900.5,550.7 901.5,551.4 902.5,550 903.5,548.3 904.5,551.8 905.5,549.9 906.5,549.6 907.5,548.1 908.5,550.8 909.5,551.3 910.5,550 911.5,548.7 912.5,550.8 913.5,548.7 914.5,549.4 915.5,548.9 916.5,550.1 917.5,550.6 918.5,550.3 919.5,548.7 920.5,549 921.5,548.9 922.5,550.1 923.5,552 924.5,550.7 925.5,551.6 926.5,548.5 927.5,548.3 928.5,550.4 929.5,549.1 930.5,549.5 931.5,551.1 932.5,548.6 933.5,551.8 934.5,549.9 935.5,550.7 936.5,548.5 937.5,548.6 938.5,551 939.5,548.5 940.5,550.9 941.5,549.6 942.5,549.6 943.5,552.2 944.5,551.9 945.5,549.7 946.5,550 947.5,549.6 948.5,548.9 949.5,552.3 950.5,551.1 951.5,551.4 952.5,550.2 953.5,549.4 954.5,551.1 955.5,549.6 956.5,552.2 957.5,552.4 958.5,552.5 959.5,549.5 960.5,549.8 961.5,552.1 962.5,550.5 963.5,550.9 964.5,551.6 965.5,549.6 966.5,550.6 967.5,549.1 968.5,548.9 969.5,552.7 970.5,551.7 971.5,551.3 972.5,549.6 973.5,550 974.5,552.5 975.5,552.8 976.5,551.5 977.5,552.6 978.5,550.5 979.5,552.3 980.5,551.9 981.5,549.8 982.5,552.7 983.5,549 984,550.1 984,571 983.5,571 982.5,571 981.5,571 980.5,571 979.5,571 978.5,571 977.5,571 976.5,571 975.5,571 974.5,571 973.5,571 972.5,571 971.5,571 970.5,571 969.5,571 968.5,571 967.5,571 966.5,571 965.5,571 964.5,571 963.5,571 962.5,571 961.5,571 960.5,571 959.5,571 958.5,571 957.5,571 956.5,571 955.5,571 954.5,571 953.5,571 952.5,571 951.5,571 950.5,571 949.5,571 948.5,571 947.5,571 946.5,571 945.5,571 944.5,571 943.5,571 942.5,571 941.5,571 940.5,571 939.5,571 938.5,571 937.5,571 936.5,571 935.5,571 934.5,571 933.5,571 932.5,571 931.5,571 930.5,571 929.5,571 928.5,571 927.5,571 926.5,571 925.5,571 924.5,571 923.5,571 922.5,571 921.5,571 920.5,571 919.5,571 918.5,571 917.5,571 916.5,571 915.5,571 914.5,571 913.5,571 912.5,571 911.5,571 910.5,571 909.5,571 908.5,571 907.5,571 906.5,571 905.5,571 904.5,571 903.5,571 902.5,571 901.5,571 900.5,571 899.5,571 898.5,571 897.5,571 896.5,571 895.5,571 894.5,571 893.5,571 892.5,571 891.5,571 890.5,571 889.5,571 888.5,571 887.5,571 886.5,571 885.5,571 884.5,571 883.5,571 882.5,571 881.5,571 880.5,571 879.5,571 878.5,571 877.5,571 876.5,571 875.5,571 874.5,571 873.5,571 872.5,571 871.5,571 870.5,571 869.5,571 868.5,571 867.5,571 866.5,571 865.5,571 864.5,571 863.5,571 862.5,571 861.5,571 860.5,571 859.5,571 858.5,571 857.5,571 856.5,571 855.5,571 854.5,571 853.5,571 852.5,571 851.5,571 850.5,571 849.5,571 848.5,571 847.5,571 846.5,571 845.5,571 844.5,571 843.5,571 842.5,571 841.5,571 840.5,571 839.5,571 838.5,571 837.5,571 836.5,571 835.5,571 834.5,571 833.5,571 832.5,571 831.5,571 830.5,571 829.5,571 828.5,571 827.5,571 826.5,571 825.5,571 824.5,571 823.5,571 822.5,571 821.5,571 820.5,571 819.5,571 818.5,571 817.5,571 816.5,571 815.5,571 814.5,571 813.5,571" fill="#fde725" fill-opacity="0.35"/><polygon points="813.5,547 814.5,548.8 815.5,546.6 816.5,545.7 817.5,548.2 818.5,548.1 819.5,546 820.5,548.3 821.5,547.2 822.5,547.4 823.5,549.6 824.5,549.2 825.5,549.9 826.5,548.9 827.5,547.7 828.5,547.7 829.5,546.9 830.5,546.7 831.5,548.5 832.5,547.2 833.5,549 834.5,547.6 835.5,548.8 836.5,550.5 837.5,548.8 838.5,550.8 839.5,548.3 840.5,547.8 841.5,550.1 842.5,549.1 843.5,550.1 844.5,549.9 845.5,549.4 846.5,549.2 847.5,548.7 848.5,551.8 849.5,548.8 850.5,549.9 851.5,551.6 852.5,551.3 853.5,552 854.5,550.6 855.5,549.2 856.5,551.6 857.5,548.4 858.5,551.9 859.5,549.9 860.5,550.9 861.5,551.7 862.5,550.3 863.5,551.5 864.5,551.6 865.5,550.3 866.5,551.9 867.5,549.3 868.5,548.9 869.5,551.1 870.5,551.6 871.5,550 872.5,548.5 873.5,550.1 874.5,549.3 875.5,548.7 876.5,549.1 877.5,550.8 878.5,549.9 879.5,551.6 880.5,549.3 881.5,550.9 882.5,549.6 883.5,549.6 884.5,549.1 885.5,551.5 886.5,549.7 887.5,551.2 888.5,551.3 889.5,550.8 890.5,551.3 891.5,551.3 892.5,549 893.5,551.7 894.5,550.7 895.5,551.9 896.5,549.1 897.5,548.9 898.5,551.3 899.5,550 900.5,552.7 901.5,550 902.5,550.6 903.5,550.2 904.5,551 905.5,549.7 906.5,552.7 907.5,550 908.5,552.6 909.5,552.8 910.5,550.3 911.5,552.2 912.5,552.5 913.5,549.1 914.5,552.8 915.5,550.5 916.5,550.3 917.5,552.2 918.5,549.7 919.5,549.1 920.5,552.9 921.5,549.1 922.5,551.6 923.5,551.4 924.5,550.8 925.5,552.4 926.5,552.4 927.5,549.3 928.5,551.6 929.5,552.6 930.5,550.8 931.5,549.7 932.5,551.5 933.5,549.3 934.5,550.8 935.5,551.3 936.5,550.2 937.5,551.6 938.5,552.6 939.5,551.2 940.5,551.5 941.5,550.1 942.5,549.4 943.5,551.3 944.5,550.4 945.5,552 946.5,549.8 947.5,551.3 948.5,551.5 949.5,552.6 950.5,549.7 951.5,553.1 952.5,550.1 953.5,553.2 954.5,552.8 955.5,553.1 956.5,553.3 957.5,549.9 958.5,551.1 959.5,552 960.5,551 961.5,552.3 962.5,553.2 963.5,550.5 964.5,551 965.5,553.2 966.5,551.1 967.5,550.1 968.5,552.8 969.5,551 970.5,552.1 971.5,550.1 972.5,552.1 973.5,553.1 974.5,551.6 975.5,551.3 976.5,553 977.5,552 978.5,551.8 979.5,550.6 980.5,552.7 981.5,553.3 982.5,550 983.5,551.2 984,552.6 984,571 983.5,571 982.5,571 981.5,571 980.5,571 979.5,571 978.5,571 977.5,571 976.5,571 975.5,571 974.5,571 973.5,571 972.5,571 971.5,571 970.5,571 969.5,571 968.5,571 967.5,571 966.5,571 965.5,571 964.5,571 963.5,571 962.5,571 961.5,571 960.5,571 959.5,571 958.5,571 957.5,571 956.5,571 955.5,571 954.5,571 953.5,571 952.5,571 951.5,571 950.5,571 949.5,571 948.5,571 947.5,571 946.5,571 945.5,571 944.5,571 943.5,571 942.5,571 941.5,571 940.5,571 939.5,571 938.5,571 937.5,571 936.5,571 935.5,571 934.5,571 933.5,571 932.5,571 931.5,571 930.5,571 929.5,571 928.5,571 927.5,571 926.5,571 925.5,571 924.5,571 923.5,571 922.5,571 921.5,571 920.5,571 919.5,571 918.5,571 917.5,571 916.5,571 915.5,571 914.5,571 913.5,571 912.5,571 911.5,571 910.5,571 909.5,571 908.5,571 907.5,571 906.5,571 905.5,571 904.5,571 903.5,571 902.5,571 901.5,571 900.5,571 899.5,571 898.5,571 897.5,571 896.5,571 895.5,571 894.5,571 893.5,571 892.5,571 891.5,571 890.5,571 889.5,571 888.5,571 887.5,571 886.5,571 885.5,571 884.5,571 883.5,571 882.5,571 881.5,571 880.5,571 879.5,571 878.5,571 877.5,571 876.5,571 875.5,571 874.5,571 873.5,571 872.5,571 871.5,571 870.5,571 869.5,571 868.5,571 867.5,571 866.5,571 865.5,571 864.5,571 863.5,571 862.5,571 861.5,571 860.5,571 859.5,571 858.5,571 857.5,571 856.5,571 855.5,571 854.5,571 853.5,571 852.5,571 851.5,571 850.5,571 849.5,571 848.5,571 847.5,571 846.5,571 845.5,571 844.5,571 843.5,571 842.5,571 841.5,571 840.5,571 839.5,571 838.5,571 837.5,571 836.5,571 835.5,571 834.5,571 833.5,571 832.5,571 831.5,571 830.5,571 829.5,571 828.5,571 827.5,571 826.5,571 825.5,571 824.5,571 823.5,571 822.5,571 821.5,571 820.5,571 819.5,571 818.5,571 817.5,571 816.5,571 815.5,571 814.5,571 813.5,571" fill="#fde725" fill-opacity="0.35"/><polygon points="813.5,546.6 814.5,549.5 815.5,546.7 816.5,547.2 817.5,548.2 818.5,547 819.5,550.1 820.5,548.6 821.5,548.2 822.5,549.2 823.5,549.8 824.5,549.1 825.5,549.6 826.5,549.8 827.5,548.9 828.5,548.4 829.5,547.8 830.5,550 831.5,549 832.5,551.4 833.5,548.7 834.5,550.9 835.5,549.6 836.5,548.5 837.5,549.5 838.5,550.6 839.5,550.8 840.5,549.6 841.5,549.2 842.5,549 843.5,550.8 844.5,551.3 845.5,552.2 846.5,550.7 847.5,550.1 848.5,552.1 849.5,551.5 850.5,551.9 851.5,549.3 852.5,552.3 853.5,550.6 854.5,551.7 855.5,549.4 856.5,549.1 857.5,549.2 858.5,549.4 859.5,549.5 860.5,552.6 861.5,551.4 862.5,549.4 863.5,553.2 864.5,550.9 865.5,552 866.5,551.9 867.5,550.7 868.5,552.6 869.5,553.2 870.5,550.9 871.5,550.7 872.5,551 873.5,552.7 874.5,551.4 875.5,549.8 876.5,549.4 877.5,552.1 878.5,550 879.5,552.5 880.5,551.9 881.5,550.3 882.5,549.8 883.5,552.2 884.5,550.2 885.5,553.5 886.5,551.6 887.5,550.9 888.5,552.8 889.5,552.1 890.5,552.2 891.5,552.8 892.5,551.4 893.5,549.8 894.5,550.3 895.5,553.6 896.5,552.2 897.5,549.8 898.5,550.3 899.5,550.2 900.5,550.8 901.5,552.4 902.5,553.5 903.5,552.1 904.5,551.8 905.5,553.5 906.5,550.4 907.5,553.5 908.5,552.4 909.5,550.8 910.5,553 911.5,550.6 912.5,552.3 913.5,551.8 914.5,550.4 915.5,553.7 916.5,550.8 917.5,551.5 918.5,552.6 919.5,551.1 920.5,550.4 921.5,551.3 922.5,551.6 923.5,553.3 924.5,552.3 925.5,553.8 926.5,550.7 927.5,553.5 928.5,554.1 929.5,554.1 930.5,551.4 931.5,550.6 932.5,553.3 933.5,552 934.5,552.8 935.5,550.7 936.5,554.1 937.5,551.9 938.5,554.2 939.5,550.4 940.5,551.5 941.5,552.2 942.5,551.9 943.5,551.2 944.5,554.3 945.5,552.6 946.5,554.2 947.5,552.5 948.5,553.6 949.5,553.1 950.5,551.1 951.5,553.3 952.5,553.5 953.5,553.4 954.5,552.5 955.5,550.8 956.5,553.9 957.5,554.5 958.5,550.9 959.5,550.8 960.5,552.4 961.5,553.6 962.5,552.5 963.5,554 964.5,554.2 965.5,553.1 966.5,553.2 967.5,553.3 968.5,552.3 969.5,551.6 970.5,554.4 971.5,551.9 972.5,554.1 973.5,552.9 974.5,553.8 975.5,554 976.5,554.4 977.5,554.3 978.5,552.2 979.5,554.3 980.5,554.4 981.5,553.5 982.5,551.8 983.5,554.9 984,554.2 984,571 983.5,571 982.5,571 981.5,571 980.5,571 979.5,571 978.5,571 977.5,571 976.5,571 975.5,571 974.5,571 973.5,571 972.5,571 971.5,571 970.5,571 969.5,571 968.5,571 967.5,571 966.5,571 965.5,571 964.5,571 963.5,571 962.5,571 961.5,571 960.5,571 959.5,571 958.5,571 957.5,571 956.5,571 955.5,571 954.5,571 953.5,571 952.5,571 951.5,571 950.5,571 949.5,571 948.5,571 947.5,571 946.5,571 945.5,571 944.5,571 943.5,571 942.5,571 941.5,571 940.5,571 939.5,571 938.5,571 937.5,571 936.5,571 935.5,571 934.5,571 933.5,571 932.5,571 931.5,571 930.5,571 929.5,571 928.5,571 927.5,571 926.5,571 925.5,571 924.5,571 923.5,571 922.5,571 921.5,571 920.5,571 919.5,571 918.5,571 917.5,571 916.5,571 915.5,571 914.5,571 913.5,571 912.5,571 911.5,571 910.5,571 909.5,571 908.5,571 907.5,571 906.5,571 905.5,571 904.5,571 903.5,571 902.5,571 901.5,571 900.5,571 899.5,571 898.5,571 897.5,571 896.5,571 895.5,571 894.5,571 893.5,571 892.5,571 891.5,571 890.5,571 889.5,571 888.5,571 887.5,571 886.5,571 885.5,571 884.5,571 883.5,571 882.5,571 881.5,571 880.5,571 879.5,571 878.5,571 877.5,571 876.5,571 875.5,571 874.5,571 873.5,571 872.5,571 871.5,571 870.5,571 869.5,571 868.5,571 867.5,571 866.5,571 865.5,571 864.5,571 863.5,571 862.5,571 861.5,571 860.5,571 859.5,571 858.5,571 857.5,571 856.5,571 855.5,571 854.5,571 853.5,571 852.5,571 851.5,571 850.5,571 849.5,571 848.5,571 847.5,571 846.5,571 845.5,571 844.5,571 843.5,571 842.5,571 841.5,571 840.5,571 839.5,571 838.5,571 837.5,571 836.5,571 835.5,571 834.5,571 833.5,571 832.5,571 831.5,571 830.5,571 829.5,571 828.5,571 827.5,571 826.5,571 825.5,571 824.5,571 823.5,571 822.5,571 821.5,571 820.5,571 819.5,571 818.5,571 817.5,571 816.5,571 815.5,571 814.5,571 813.5,571" fill="#fde725" fill-opacity="0.35"/><polygon points="813.5,548.7 814.5,548.6 815.5,549.9 816.5,549.6 817.5,549 818.5,550.4 819.5,550.7 820.5,550 821.5,550.5 822.5,550 823.5,549.4 824.5,550.6 825.5,550.5 826.5,551 827.5,549.8 828.5,551.3 829.5,550.8 830.5,551 831.5,551.3 832.5,550.5 833.5,551.5 834.5,551.7 835.5,551.9 836.5,551.1 837.5,549.9 838.5,550.4 839.5,550.4 840.5,550.4 841.5,551 842.5,551.6 843.5,552.6 844.5,550.5 845.5,552.7 846.5,551.8 847.5,552.5 848.5,552.7 849.5,551.6 850.5,552.5 851.5,552.6 852.5,551.6 853.5,553.1 854.5,553 855.5,550.9 856.5,552.9 857.5,551.8 858.5,553.2 859.5,551.1 860.5,553 861.5,552.2 862.5,551.7 863.5,552.2 864.5,553 865.5,552.1 866.5,552.1 867.5,553.2 868.5,553.1 869.5,551.6 870.5,552.3 871.5,552.1 872.5,551.6 873.5,551.6 874.5,551.4 875.5,551.6 876.5,552.2 877.5,551.8 878.5,553 879.5,551.5 880.5,551.8 881.5,553.6 882.5,552.7 883.5,551.7 884.5,553.3 885.5,551.4 886.5,552.1 887.5,551.7 888.5,552.4 889.5,552.5 890.5,553.6 891.5,552.6 892.5,553.6 893.5,553.7 894.5,551.6 895.5,551.7 896.5,553.4 897.5,552.2 898.5,552.6 899.5,553.1 900.5,552.6 901.5,553.6 902.5,551.6 903.5,552.2 904.5,551.8 905.5,552.3 906.5,554 907.5,551.7 908.5,553 909.5,552.2 910.5,553.5 911.5,552.1 912.5,553.5 913.5,553 914.5,554.1 915.5,552 916.5,553 917.5,554 918.5,553.1 919.5,552.9 920.5,554.1 921.5,553.9 922.5,553.8 923.5,552.9 924.5,552.7 925.5,552.6 926.5,554.3 927.5,552.1 928.5,552.3 929.5,553.5 930.5,554.1 931.5,554.4 932.5,553.5 933.5,554.1 934.5,552.9 935.5,553.3 936.5,553.9 937.5,552.5 938.5,553.8 939.5,553.2 940.5,552.3 941.5,553 942.5,554 943.5,554.1 944.5,553.9 945.5,554 946.5,553.1 947.5,553 948.5,553.2 949.5,553.3 950.5,553.1 951.5,554.4 952.5,554 953.5,552.7 954.5,552.7 955.5,553.5 956.5,553.9 957.5,554.1 958.5,553.4 959.5,553.8 960.5,553.9 961.5,553.2 962.5,554.4 963.5,553.3 964.5,552.8 965.5,552.9 966.5,554.1 967.5,553.7 968.5,554.6 969.5,554.7 970.5,553.2 971.5,554.5 972.5,554.3 973.5,554 974.5,555 975.5,553.1 976.5,553.7 977.5,553.7 978.5,553.4 979.5,554.2 980.5,554.8 981.5,553.9 982.5,553 983.5,553.4 984,554.5 984,571 983.5,571 982.5,571 981.5,571 980.5,571 979.5,571 978.5,571 977.5,571 976.5,571 975.5,571 974.5,571 973.5,571 972.5,571 971.5,571 970.5,571 969.5,571 968.5,571 967.5,571 966.5,571 965.5,571 964.5,571 963.5,571 962.5,571 961.5,571 960.5,571 959.5,571 958.5,571 957.5,571 956.5,571 955.5,571 954.5,571 953.5,571 952.5,571 951.5,571 950.5,571 949.5,571 948.5,571 947.5,571 946.5,571 945.5,571 944.5,571 943.5,571 942.5,571 941.5,571 940.5,571 939.5,571 938.5,571 937.5,571 936.5,571 935.5,571 934.5,571 933.5,571 932.5,571 931.5,571 930.5,571 929.5,571 928.5,571 927.5,571 926.5,571 925.5,571 924.5,571 923.5,571 922.5,571 921.5,571 920.5,571 919.5,571 918.5,571 917.5,571 916.5,571 915.5,571 914.5,571 913.5,571 912.5,571 911.5,571 910.5,571 909.5,571 908.5,571 907.5,571 906.5,571 905.5,571 904.5,571 903.5,571 902.5,571 901.5,571 900.5,571 899.5,571 898.5,571 897.5,571 896.5,571 895.5,571 894.5,571 893.5,571 892.5,571 891.5,571 890.5,571 889.5,571 888.5,571 887.5,571 886.5,571 885.5,571 884.5,571 883.5,571 882.5,571 881.5,571 880.5,571 879.5,571 878.5,571 877.5,571 876.5,571 875.5,571 874.5,571 873.5,571 872.5,571 871.5,571 870.5,571 869.5,571 868.5,571 867.5,571 866.5,571 865.5,571 864.5,571 863.5,571 862.5,571 861.5,571 860.5,571 859.5,571 858.5,571 857.5,571 856.5,571 855.5,571 854.5,571 853.5,571 852.5,571 851.5,571 850.5,571 849.5,571 848.5,571 847.5,571 846.5,571 845.5,571 844.5,571 843.5,571 842.5,571 841.5,571 840.5,571 839.5,571 838.5,571 837.5,571 836.5,571 835.5,571 834.5,571 833.5,571 832.5,571 831.5,571 830.5,571 829.5,571 828.5,571 827.5,571 826.5,571 825.5,571 824.5,571 823.5,571 822.5,571 821.5,571 820.5,571 819.5,571 818.5,571 817.5,571 816.5,571 815.5,571 814.5,571 813.5,571" fill="#f4de22"/><polyline points="814,554.4 816,553.7 818,554.3 820,555 822,554.7 824,554.6 826,555.1 828,554.7 830,556.4 832,555.4 834,555.8 836,556.1 838,556.1 840,557.1 842,555.8 844,556.6 846,556 848,556 850,557.4 852,556.7 854,557.5 856,557 858,556.1 860,556.2 862,556.1 864,557.2 866,556.9 868,556.7 870,556.7 872,556.9 874,557.8 876,557.9 878,557.8 880,557.6 882,556.4 884,556.9 886,557.8 888,556.5 890,557.6 892,556.4 894,557.8 896,556.7 898,556.7 900,558.1 902,556.4 904,558 906,556.8 908,556.8 910,556.5 912,556.3 914,557 916,557.1 918,556.9 920,556.3 922,558.1 924,558 926,557.5 928,556.6 930,556.6 932,557.3 934,556.7 936,556.9 938,556.8 940,557.9 942,557.7 944,556.8 946,558.3 948,557.6 950,558 952,557.7 954,557.3 956,557.3 958,557.3 960,556.5 962,558.3 964,557.1 966,556.5 968,556.6 970,557.2 972,557.9 974,557.5 976,557.1 978,558.3 980,556.6 982,557 984,558.3" fill="none" stroke="#440154" stroke-width="3.2" stroke-opacity="0.6"/><polygon points="864.1,557 865.2,522 866.3,557" fill="#fde725"/><polygon points="864.9,558 865.3,530 866.1,530 866.8,541 867.4,547.7 868.1,551.8 868.8,554.2 869.4,555.7 870.1,556.6 870.1,558" fill="#440154" fill-opacity="0.95"/><polygon points="881.5,558 881.9,536 882.7,536 883.4,544.7 884,549.9 884.7,553.1 885.4,555 886,556.2 886.7,556.9 886.7,558" fill="#440154" fill-opacity="0.9"/><polygon points="216,561.4 218,561.4 220,560.7 222,561.7 224,562 226,562.2 228,560.7 230,561.7 232,562.1 234,562.3 236,560.7 238,560.8 240,562.3 242,561.3 244,561.4 246,562 248,561 250,560.8 252,561.6 254,561.8 256,562.4 258,560.7 260,561.8 262,560.8 264,561.7 266,561.8 268,561.4 270,561.3 272,561.4 274,562.2 276,562.2 278,561.4 280,562 282,561.4 284,561.4 286,561.8 288,561.8 290,561.5 292,561.5 294,562.3 296,561.2 298,561.8 300,560.8 302,562.5 304,560.6 306,562.1 308,560.9 310,561.9 312,560.6 314,561.2 316,560.6 318,561.4 320,561.8 322,560.6 324,561.7 326,561.4 328,562.3 330,561.4 332,560.6 334,561.1 336,562.3 338,561.6 340,561.4 342,561.2 344,561.2 346,560.9 348,561.7 350,560.9 352,560.9 354,560.9 356,561.1 358,562.4 360,561 362,560.7 364,562.5 366,561.6 368,562.5 370,562.2 372,561.5 374,561.5 376,560.6 378,561.4 380,561.1 382,561.4 384,562.3 386,561.8 388,562.5 390,562.2 392,562.3 394,560.8 396,561.6 398,562.3 400,562.2 402,562.3 404,561.5 406,560.9 408,561.7 410,561.8 412,562.2 414,561.4 416,562.4 418,562.4 420,562.1 422,562.1 424,562.6 426,560.8 428,561.3 430,561.5 432,561.5 434,562 436,561.5 438,561.4 440,560.7 442,560.7 444,561.6 446,561.3 448,561.1 450,560.7 452,560.8 454,561 456,561.6 458,561.1 460,561.6 462,562.1 464,560.8 466,561.9 468,562.2 470,562.5 472,562.7 474,561 476,560.8 478,562 480,561.8 482,562.5 484,561.9 486,562.3 488,560.7 490,561.6 492,561.1 494,561 496,560.8 498,562.6 500,561.5 502,562.3 504,562.2 506,562.3 508,561.3 510,562.2 512,561.6 514,562.6 516,562.1 518,562.5 520,562.6 522,561.4 524,561.4 526,560.7 528,562.4 530,561.9 532,561 534,562 536,562.6 538,562.6 540,562.7 542,561.4 544,561.2 546,560.7 548,561 550,561.2 552,562 554,560.7 556,562.6 558,562 560,562.4 562,561.3 564,561.8 566,562.6 568,560.9 570,560.9 572,561 574,561.1 576,561.1 578,560.8 580,561.1 582,561.6 584,561.4 586,561.6 588,561.7 590,562.2 592,561.9 594,562.7 596,562.6 598,562.5 600,561.8 602,561.2 604,561.7 606,561.7 608,561.8 610,562.6 612,562.1 614,562.6 616,561.1 618,562 620,561.3 622,560.8 624,560.8 626,561.5 628,561.1 630,561.4 632,560.9 634,560.8 636,561.3 638,562.2 640,561.7 642,562.2 644,562.6 646,561.8 648,562 650,561.2 652,561.5 654,562.3 656,562.4 658,561.1 660,561.2 662,561.7 664,561.7 666,562 668,562.5 670,561.3 672,561 674,561 676,561.4 678,561.5 680,561 682,562.5 684,561.5 686,561.3 688,561.4 690,562.6 692,562.1 694,562.4 696,561.1 698,561.1 700,561.6 702,561.7 704,561.1 706,561.2 708,561 710,561 712,561.1 714,561.3 716,561.4 718,562 720,562.8 722,562 724,561.8 726,561.6 728,561.1 730,562.2 732,561.7 734,562.2 736,561.6 738,561.3 740,561.5 742,561.1 744,561.4 746,562.7 748,561.2 750,562 752,562.7 754,561.7 756,561.5 758,561.1 760,561.1 762,562.7 764,561.8 766,561.5 768,560.9 770,562.3 772,561.1 774,561.9 776,562.4 778,562.5 780,562.6 782,561.4 784,561.2 786,561.1 788,561.5 790,561.6 792,561.3 794,561.1 796,561.7 798,561.7 800,561.1 802,562.5 804,561.1 806,561.7 808,561.7 810,561.7 812,562.1 814,561.9 816,562.1 818,562.4 820,561.1 822,562.8 824,561.9 826,562.4 828,561.3 830,561.8 832,562.4 834,561.5 836,562 838,562.6 840,562 842,562 844,562.3 846,562.8 848,561.4 850,562.9 852,562.4 854,561.7 856,561.3 858,561.4 860,561.7 862,562.3 864,561.7 866,561 868,561.1 870,562.8 872,561.1 874,562.7 876,562.8 878,562.2 880,562.3 882,562.6 884,562.6 886,562.4 888,562.4 890,562.8 892,561.4 894,561.8 896,562.4 898,562.3 900,561.7 902,562.9 904,561 906,561.3 908,561.2 910,561.6 912,562.8 914,562.9 916,562.5 918,561.8 920,562.8 922,561.6 924,562 926,562.4 928,561.7 930,562.4 932,562.8 934,561.7 936,562.5 938,561.1 940,562.8 942,561.9 944,561.7 946,562.9 948,561.2 950,562 952,562.9 954,561.7 956,561.5 958,561.9 960,562.3 962,561.5 964,562.9 966,562.8 968,562.6 970,562 972,561.8 974,561.5 976,561.7 978,561.9 980,561.7 982,562 984,561 984,570.5 982,570.4 980,570.5 978,569.4 976,569.6 974,569.6 972,570.1 970,570.7 968,569.8 966,570.5 964,569.3 962,570.3 960,569.8 958,569.8 956,570.3 954,570.6 952,570.7 950,569.9 948,570 946,569.9 944,569.3 942,570.1 940,570.4 938,570.7 936,569.5 934,570.1 932,570.5 930,569.5 928,569.6 926,569.9 924,570.3 922,570.6 920,569.7 918,570.2 916,570.7 914,570.7 912,570.5 910,569.9 908,570.3 906,570 904,570 902,569.8 900,570.8 898,570.4 896,570.1 894,569.3 892,569.7 890,570.6 888,569.3 886,570.6 884,569.9 882,569.3 880,570 878,570.5 876,569.3 874,570 872,570.3 870,569.9 868,569.7 866,570.2 864,570.1 862,569.4 860,570.6 858,570.6 856,570.1 854,570.7 852,570.2 850,569.3 848,570.7 846,570.3 844,569.4 842,569.2 840,570.4 838,569.8 836,569.4 834,570.3 832,570.1 830,570.5 828,570.2 826,569.9 824,569.7 822,570.8 820,570.7 818,569.3 816,570.8 814,570.4 812,569.6 810,570.5 808,570.2 806,570.2 804,570.6 802,569.7 800,570.5 798,570.1 796,569.8 794,570.8 792,569.3 790,570.1 788,570.5 786,569.3 784,570.6 782,570 780,570.1 778,569.7 776,570.4 774,569.4 772,570 770,569.8 768,570.1 766,569.5 764,570.1 762,569.2 760,570.2 758,570.1 756,569.4 754,569.7 752,569.9 750,570.5 748,570.8 746,570.1 744,570.5 742,569.8 740,570.6 738,570.7 736,570.8 734,570.2 732,569.3 730,569.5 728,569.6 726,570.2 724,569.8 722,569.9 720,570.4 718,569.4 716,569.2 714,569.6 712,570.2 710,569.6 708,570.7 706,570 704,570.1 702,570 700,569.3 698,570.2 696,570.1 694,570.3 692,569.7 690,570.6 688,569.9 686,570.4 684,569.2 682,570.1 680,570.7 678,569.5 676,569.2 674,569.2 672,569.8 670,570.5 668,569.5 666,570.3 664,570.5 662,569.6 660,570.6 658,570.1 656,569.9 654,569.8 652,569.5 650,570.5 648,570.5 646,569.5 644,569.3 642,569.4 640,569.8 638,569.8 636,570.7 634,570.4 632,569.5 630,570.6 628,570.7 626,570.7 624,570 622,570.2 620,570.7 618,569.5 616,570.8 614,569.7 612,569.8 610,569.6 608,570.3 606,570.4 604,569.6 602,569.5 600,570.8 598,570.5 596,569.6 594,570.5 592,570.3 590,569.9 588,570.7 586,570.4 584,569.6 582,570.7 580,569.8 578,570.5 576,570 574,569.9 572,569.5 570,570 568,570 566,569.7 564,569.6 562,570.1 560,569.9 558,570.1 556,570.4 554,570.7 552,570 550,570.2 548,569.4 546,569.5 544,569.8 542,570.1 540,569.5 538,570 536,570.4 534,570.3 532,570.6 530,570.2 528,570.4 526,570.2 524,569.4 522,570.2 520,570.3 518,569.7 516,570.5 514,569.8 512,570.6 510,570.6 508,569.9 506,570.5 504,569.6 502,569.5 500,570.6 498,569.3 496,570.3 494,570.4 492,570 490,569.6 488,569.3 486,569.8 484,569.8 482,569.9 480,569.5 478,569.7 476,569.6 474,569.4 472,569.7 470,570.6 468,570.6 466,570.1 464,570.3 462,570.2 460,570.1 458,569.9 456,570.3 454,569.8 452,569.7 450,569.6 448,569.8 446,570.4 444,569.3 442,570.4 440,570.5 438,570.3 436,570.3 434,569.4 432,569.8 430,569.4 428,570 426,569.9 424,569.8 422,570.8 420,569.9 418,570.6 416,569.7 414,569.5 412,569.8 410,569.8 408,570 406,569.3 404,570.2 402,570.7 400,569.4 398,570.5 396,569.8 394,569.4 392,570.4 390,570.7 388,570.4 386,570.5 384,570.6 382,570.5 380,569.9 378,570 376,569.3 374,570.4 372,570.7 370,570.7 368,570.7 366,569.9 364,570.4 362,569.8 360,570.6 358,569.5 356,569.3 354,569.5 352,569.6 350,569.5 348,570 346,570.4 344,570 342,570.7 340,569.4 338,569.2 336,569.7 334,570.3 332,569.5 330,569.2 328,569.7 326,570.6 324,569.7 322,569.5 320,569.7 318,570 316,570.5 314,570.3 312,570.6 310,569.9 308,569.5 306,569.5 304,569.3 302,570.2 300,569.7 298,569.8 296,569.8 294,569.3 292,569.8 290,569.5 288,569.4 286,570.6 284,569.5 282,570.3 280,569.9 278,569.8 276,570.8 274,570 272,570.7 270,569.5 268,570.1 266,569.6 264,570.5 262,569.3 260,569.6 258,570.7 256,570.1 254,569.9 252,569.7 250,570.8 248,570.8 246,570 244,570 242,569.4 240,569.9 238,569.5 236,570.1 234,569.8 232,570.6 230,570.3 228,570.5 226,570.3 224,569.6 222,570 220,569.7 218,569.9 216,569.3" fill="#9a8430" fill-opacity="0.2"/></g><line x1="985.0" y1="95.5" x2="985.0" y2="628.4" stroke="#e2c90f" stroke-width="2"/><line x1="131.5" y1="571.91" x2="1026.5" y2="571.91" stroke="#000" stroke-width="2.1"/><rect x="131.5" y="95.5" width="895.0" height="532.9" fill="none" stroke="#000" stroke-width="1.1"/><line x1="126.90" y1="586.33" x2="131.5" y2="586.33" stroke="#000" stroke-width="1.1"/><text transform="translate(122.90,594.93) scale(1,1.07)" font-family="Liberation Serif" font-size="27.8" text-anchor="end">75</text><line x1="126.90" y1="516.21" x2="131.5" y2="516.21" stroke="#000" stroke-width="1.1"/><text transform="translate(122.90,524.81) scale(1,1.07)" font-family="Liberation Serif" font-size="27.8" text-anchor="end">100</text><line x1="126.90" y1="446.09" x2="131.5" y2="446.09" stroke="#000" stroke-width="1.1"/><text transform="translate(122.90,454.69) scale(1,1.07)" font-family="Liberation Serif" font-size="27.8" text-anchor="end">125</text><line x1="126.90" y1="375.97" x2="131.5" y2="375.97" stroke="#000" stroke-width="1.1"/><text transform="translate(122.90,384.57) scale(1,1.07)" font-family="Liberation Serif" font-size="27.8" text-anchor="end">150</text><line x1="126.90" y1="305.86" x2="131.5" y2="305.86" stroke="#000" stroke-width="1.1"/><text transform="translate(122.90,314.46) scale(1,1.07)" font-family="Liberation Serif" font-size="27.8" text-anchor="end">175</text><line x1="126.90" y1="235.74" x2="131.5" y2="235.74" stroke="#000" stroke-width="1.1"/><text transform="translate(122.90,244.34) scale(1,1.07)" font-family="Liberation Serif" font-size="27.8" text-anchor="end">200</text><line x1="126.90" y1="165.62" x2="131.5" y2="165.62" stroke="#000" stroke-width="1.1"/><text transform="translate(122.90,174.22) scale(1,1.07)" font-family="Liberation Serif" font-size="27.8" text-anchor="end">225</text><line x1="126.90" y1="95.50" x2="131.5" y2="95.50" stroke="#000" stroke-width="1.1"/><text transform="translate(122.90,104.10) scale(1,1.07)" font-family="Liberation Serif" font-size="27.8" text-anchor="end">250</text><line x1="1026.5" y1="628.40" x2="1030.50" y2="628.40" stroke="#000" stroke-width="1.1"/><text transform="translate(1033.70,631.80) scale(1,1.05)" font-family="Liberation Serif" font-size="10">0</text><line x1="1026.5" y1="561.79" x2="1030.50" y2="561.79" stroke="#000" stroke-width="1.1"/><text transform="translate(1033.70,565.19) scale(1,1.05)" font-family="Liberation Serif" font-size="10">50</text><line x1="1026.5" y1="495.17" x2="1030.50" y2="495.17" stroke="#000" stroke-width="1.1"/><text transform="translate(1033.70,498.57) scale(1,1.05)" font-family="Liberation Serif" font-size="10">100</text><line x1="1026.5" y1="428.56" x2="1030.50" y2="428.56" stroke="#000" stroke-width="1.1"/><text transform="translate(1033.70,431.96) scale(1,1.05)" font-family="Liberation Serif" font-size="10">150</text><line x1="1026.5" y1="361.95" x2="1030.50" y2="361.95" stroke="#000" stroke-width="1.1"/><text transform="translate(1033.70,365.35) scale(1,1.05)" font-family="Liberation Serif" font-size="10">200</text><line x1="1026.5" y1="295.34" x2="1030.50" y2="295.34" stroke="#000" stroke-width="1.1"/><text transform="translate(1033.70,298.74) scale(1,1.05)" font-family="Liberation Serif" font-size="10">250</text><line x1="1026.5" y1="228.73" x2="1030.50" y2="228.73" stroke="#000" stroke-width="1.1"/><text transform="translate(1033.70,232.13) scale(1,1.05)" font-family="Liberation Serif" font-size="10">300</text><line x1="1026.5" y1="162.11" x2="1030.50" y2="162.11" stroke="#000" stroke-width="1.1"/><text transform="translate(1033.70,165.51) scale(1,1.05)" font-family="Liberation Serif" font-size="10">350</text><line x1="1026.5" y1="95.50" x2="1030.50" y2="95.50" stroke="#000" stroke-width="1.1"/><text transform="translate(1033.70,98.90) scale(1,1.05)" font-family="Liberation Serif" font-size="10">400</text><line x1="329.2" y1="628.4" x2="329.2" y2="633.00" stroke="#000" stroke-width="1.1"/><line x1="531.5" y1="628.4" x2="531.5" y2="633.00" stroke="#000" stroke-width="1.1"/><line x1="733.8" y1="628.4" x2="733.8" y2="633.00" stroke="#000" stroke-width="1.1"/><line x1="936.1" y1="628.4" x2="936.1" y2="633.00" stroke="#000" stroke-width="1.1"/><rect x="754.5" y="101.6" width="265.7" height="41.5" rx="2.8" fill="#fff" fill-opacity="0.8" stroke="#d0d0d0" stroke-width="1"/><line x1="759.0" y1="111.5" x2="786.9" y2="111.5" stroke="#7fb0d6" stroke-width="1.1"/><line x1="759.0" y1="130.5" x2="786.9" y2="130.5" stroke="#ffb478" stroke-width="1.1"/><text transform="translate(797.10,116.90) scale(1,1.04)" font-family="Liberation Serif" font-size="13.4">RPMC.UL14.RBBCW.L1B1:I_MEAS</text><text transform="translate(797.10,135.90) scale(1,1.04)" font-family="Liberation Serif" font-size="13.4">RPMC.USC55.RBBCW.L5B1:I_MEAS</text><rect x="139.4" y="587.5" width="142.1" height="32.8" rx="2.8" fill="#fff" fill-opacity="0.8" stroke="#d0d0d0" stroke-width="1"/><line x1="145" y1="602.9" x2="180" y2="602.9" stroke="#000" stroke-width="2.1"/><text transform="translate(194.2,607.80) scale(1,1.04)" font-family="Liberation Serif" font-size="16.7"><tspan font-style="italic">σ</tspan><tspan font-style="italic" font-size="11.8" dy="1.8">inel</tspan><tspan dy="-1.8">=80 mb</tspan></text><rect x="1082.4" y="95.5" width="27.0" height="532.9" fill="url(#vir)" stroke="#000" stroke-width="1.1"/><line x1="1109.4" y1="628.40" x2="1113.70" y2="628.40" stroke="#000" stroke-width="1.1"/><text transform="translate(1117.60,637.00) scale(1,1.07)" font-family="Liberation Serif" font-size="27.8">0.0</text><line x1="1109.4" y1="521.82" x2="1113.70" y2="521.82" stroke="#000" stroke-width="1.1"/><text transform="translate(1117.60,530.42) scale(1,1.07)" font-family="Liberation Serif" font-size="27.8">0.2</text><line x1="1109.4" y1="415.24" x2="1113.70" y2="415.24" stroke="#000" stroke-width="1.1"/><text transform="translate(1117.60,423.84) scale(1,1.07)" font-family="Liberation Serif" font-size="27.8">0.4</text><line x1="1109.4" y1="308.66" x2="1113.70" y2="308.66" stroke="#000" stroke-width="1.1"/><text transform="translate(1117.60,317.26) scale(1,1.07)" font-family="Liberation Serif" font-size="27.8">0.6</text><line x1="1109.4" y1="202.08" x2="1113.70" y2="202.08" stroke="#000" stroke-width="1.1"/><text transform="translate(1117.60,210.68) scale(1,1.07)" font-family="Liberation Serif" font-size="27.8">0.8</text><line x1="1109.4" y1="95.50" x2="1113.70" y2="95.50" stroke="#000" stroke-width="1.1"/><text transform="translate(1117.60,104.10) scale(1,1.07)" font-family="Liberation Serif" font-size="27.8">1.0</text><text transform="rotate(-90 1177.3 361.95) translate(1177.30,361.95) scale(1,1.0)" font-family="Liberation Serif" font-size="33.3" text-anchor="middle">collides in ALICE</text><g transform="translate(0,361.4)"><g transform="rotate(-90)"><text x="1.5" y="59.8" font-family="Liberation Serif" font-size="32.6" text-anchor="start">(mb)</text><text x="-38.6" y="45.6" font-family="Liberation Serif" font-size="23" font-style="italic" text-anchor="middle">dN/dt</text><line x1="-64.6" y1="53.8" x2="-11.8" y2="53.8" stroke="#000" stroke-width="1.9"/></g><g transform="translate(0,-362)"><path d="M62.4,396.3 C62.6,395 61.8,394.4 61.2,394.6 C59.8,394.8 59.2,396.5 59.6,398.5 C60.2,400.6 62.2,401.6 64.5,402.3 C67.5,403.1 70.5,404.2 73.4,406.8" fill="none" stroke="#000" stroke-width="1.5" stroke-linecap="round"/><path d="M71.3,393.2 C72.6,394.3 73.6,396.8 73.4,399.5 C73.2,401.6 72.6,403.3 72.2,404.8" fill="none" stroke="#000" stroke-width="1.9" stroke-linecap="round"/></g></g><g clip-path="url(#c1)"><polygon points="172,1010 172.5,999.5 173,989.1 173.5,966.4 174,940.6 174.5,923.6 175,941.8 175.5,960 176,967.5 176.5,975 177,964.4 177.5,953.9 178,943.3 178.5,932.7 179,922.2 179.5,919.8 180,950.4 180.5,980.9 181,998.7 181.5,1013.3 182,1033.7 182.5,1076.7 183,1100 183,1159.6 182.5,1159.6 182,1159.6 181.5,1159.6 181,1159.6 180.5,1159.6 180,1159.6 179.5,1159.6 179,1159.6 178.5,1159.6 178,1159.6 177.5,1159.6 177,1159.6 176.5,1159.6 176,1159.6 175.5,1159.6 175,1159.6 174.5,1159.6 174,1159.6 173.5,1159.6 173,1159.6 172.5,1159.6 172,1159.6" fill="#fde725"/><polygon points="183,1100 183.5,1092.3 184,1084.6 184.5,1075.8 185,1065.4 185.5,1055 186,1048.8 186.5,1049 187,1059 187.5,1068.3 188,1076.7 188.5,1085 189,1090 189.5,1095 190,1100 190.5,1105 190.6,1106 190.6,1159.6 190.5,1159.6 190,1159.6 189.5,1159.6 189,1159.6 188.5,1159.6 188,1159.6 187.5,1159.6 187,1159.6 186.5,1159.6 186,1159.6 185.5,1159.6 185,1159.6 184.5,1159.6 184,1159.6 183.5,1159.6 183,1159.6" fill="#fde725"/><polygon points="185.2,1080 185.6,1067.3 186,1054.5 186.4,1047.7 186.8,1058.5 187.2,1069.2 187.6,1080 187.6,1085 187.2,1085 186.8,1085 186.4,1085 186,1085 185.6,1085 185.2,1085" fill="#440154" fill-opacity="0.85"/><polyline points="186.4,1080 186.9,1093.6 187.4,1107.3 187.9,1120 188.4,1132.5 188.9,1139.5 189.4,1145.2 189.9,1150.9 190.4,1153.6 190.9,1155.6 191,1156" fill="none" stroke="#440154" stroke-width="2.2" stroke-opacity="0.75"/><polygon points="172,1005 173,1007 174,1009 175,1011 175.5,1012 175.5,1159.6 175,1159.6 174,1159.6 173,1159.6 172,1159.6" fill="#8a5a50" fill-opacity="0.45"/><polygon points="174,1050 175,1050 176,1050 177,1050 178,1050 179,1050 180,1050 180,1159.6 179,1159.6 178,1159.6 177,1159.6 176,1159.6 175,1159.6 174,1159.6" fill="#440154" fill-opacity="0.3"/><polygon points="172,1090 173,1090.8 174,1091.7 175,1092.5 176,1093.3 177,1094.2 178,1095 179,1095.8 180,1096.7 181,1097.5 182,1098.3 183,1099.2 184,1100 184,1152 183,1152 182,1152 181,1152 180,1152 179,1152 178,1152 177,1152 176,1152 175,1152 174,1152 173,1152 172,1152" fill="#440154" fill-opacity="0.3"/><polygon points="175,1110 176,1110 177,1110 178,1110 179,1110 180,1110 181,1110 181,1146 180,1146 179,1146 178,1146 177,1146 176,1146 175,1146" fill="#440154" fill-opacity="0.45"/><polygon points="190.5,1110.7 191.5,1110.9 192.5,1105.8 193.5,1106.1 194.5,1110.9 195.5,1110.5 196.5,1110.3 197.5,1108.3 198.5,1110.3 199.5,1110.5 200.5,1110.7 201.5,1108.6 202.5,1110.7 203.5,1110.9 204.5,1113.3 205.5,1115.4 206.5,1115.5 207.5,1113.5 208.5,1113.4 209.5,1112.8 210.5,1111.8 211.5,1112.2 212.5,1115.3 213.5,1114.8 214.5,1115.6 215.5,1119.1 216,1117.2 216,1159.6 215.5,1159.6 214.5,1159.6 213.5,1159.6 212.5,1159.6 211.5,1159.6 210.5,1159.6 209.5,1159.6 208.5,1159.6 207.5,1159.6 206.5,1159.6 205.5,1159.6 204.5,1159.6 203.5,1159.6 202.5,1159.6 201.5,1159.6 200.5,1159.6 199.5,1159.6 198.5,1159.6 197.5,1159.6 196.5,1159.6 195.5,1159.6 194.5,1159.6 193.5,1159.6 192.5,1159.6 191.5,1159.6 190.5,1159.6" fill="#fde725" fill-opacity="0.22"/><polygon points="190.5,1111.4 191.5,1109.6 192.5,1108.6 193.5,1110.6 194.5,1109.7 195.5,1112.1 196.5,1115.3 197.5,1113.5 198.5,1110.8 199.5,1115.3 200.5,1115 201.5,1115.1 202.5,1116.5 203.5,1116.1 204.5,1116.7 205.5,1114.5 206.5,1118.7 207.5,1119.1 208.5,1114.7 209.5,1118.7 210.5,1118.9 211.5,1117.8 212.5,1118.7 213.5,1118.8 214.5,1121.9 215.5,1119.8 216,1122 216,1159.6 215.5,1159.6 214.5,1159.6 213.5,1159.6 212.5,1159.6 211.5,1159.6 210.5,1159.6 209.5,1159.6 208.5,1159.6 207.5,1159.6 206.5,1159.6 205.5,1159.6 204.5,1159.6 203.5,1159.6 202.5,1159.6 201.5,1159.6 200.5,1159.6 199.5,1159.6 198.5,1159.6 197.5,1159.6 196.5,1159.6 195.5,1159.6 194.5,1159.6 193.5,1159.6 192.5,1159.6 191.5,1159.6 190.5,1159.6" fill="#fde725" fill-opacity="0.22"/><polygon points="190.5,1113.1 191.5,1116.5 192.5,1116.8 193.5,1114.4 194.5,1115.2 195.5,1117.6 196.5,1116.6 197.5,1115.4 198.5,1114 199.5,1114.8 200.5,1117.4 201.5,1114.7 202.5,1119.5 203.5,1116.1 204.5,1120.4 205.5,1117.3 206.5,1121.6 207.5,1120.5 208.5,1119.7 209.5,1120.3 210.5,1121.5 211.5,1121.6 212.5,1120.3 213.5,1120.2 214.5,1122.4 215.5,1125.4 216,1123.7 216,1159.6 215.5,1159.6 214.5,1159.6 213.5,1159.6 212.5,1159.6 211.5,1159.6 210.5,1159.6 209.5,1159.6 208.5,1159.6 207.5,1159.6 206.5,1159.6 205.5,1159.6 204.5,1159.6 203.5,1159.6 202.5,1159.6 201.5,1159.6 200.5,1159.6 199.5,1159.6 198.5,1159.6 197.5,1159.6 196.5,1159.6 195.5,1159.6 194.5,1159.6 193.5,1159.6 192.5,1159.6 191.5,1159.6 190.5,1159.6" fill="#fde725" fill-opacity="0.22"/><polygon points="190.5,1114.5 191.5,1119.1 192.5,1118.8 193.5,1120.1 194.5,1116 195.5,1119.5 196.5,1115.6 197.5,1119.4 198.5,1117.3 199.5,1117.3 200.5,1121.5 201.5,1117.3 202.5,1120.2 203.5,1122.7 204.5,1119.4 205.5,1119.7 206.5,1124.1 207.5,1121.8 208.5,1124 209.5,1120.3 210.5,1122.8 211.5,1122.1 212.5,1125.5 213.5,1122.4 214.5,1128.1 215.5,1122.9 216,1127.4 216,1159.6 215.5,1159.6 214.5,1159.6 213.5,1159.6 212.5,1159.6 211.5,1159.6 210.5,1159.6 209.5,1159.6 208.5,1159.6 207.5,1159.6 206.5,1159.6 205.5,1159.6 204.5,1159.6 203.5,1159.6 202.5,1159.6 201.5,1159.6 200.5,1159.6 199.5,1159.6 198.5,1159.6 197.5,1159.6 196.5,1159.6 195.5,1159.6 194.5,1159.6 193.5,1159.6 192.5,1159.6 191.5,1159.6 190.5,1159.6" fill="#fde725" fill-opacity="0.22"/><polygon points="190.5,1118.3 191.5,1119.3 192.5,1121.5 193.5,1119.4 194.5,1119.7 195.5,1121.7 196.5,1120.9 197.5,1119.8 198.5,1123.4 199.5,1120.6 200.5,1120.5 201.5,1122.1 202.5,1123.5 203.5,1124.4 204.5,1122.6 205.5,1123.8 206.5,1123.2 207.5,1125.1 208.5,1126.7 209.5,1127 210.5,1128 211.5,1128 212.5,1128.8 213.5,1128.6 214.5,1128.2 215.5,1127.8 216,1129.6 216,1159.6 215.5,1159.6 214.5,1159.6 213.5,1159.6 212.5,1159.6 211.5,1159.6 210.5,1159.6 209.5,1159.6 208.5,1159.6 207.5,1159.6 206.5,1159.6 205.5,1159.6 204.5,1159.6 203.5,1159.6 202.5,1159.6 201.5,1159.6 200.5,1159.6 199.5,1159.6 198.5,1159.6 197.5,1159.6 196.5,1159.6 195.5,1159.6 194.5,1159.6 193.5,1159.6 192.5,1159.6 191.5,1159.6 190.5,1159.6" fill="#f4de22"/><polyline points="190,1140.1 192,1139.9 194,1140.8 196,1141.8 198,1140.5 200,1141.6 202,1141.4 204,1141.9 206,1141.3 208,1143.2 210,1141.9 212,1142.8 214,1142.6 216,1142" fill="none" stroke="#440154" stroke-width="2" stroke-opacity="0.5"/><polygon points="188,1152.1 189,1151.3 190,1151.2 191,1151.2 192,1151.5 193,1151.4 194,1152.5 195,1152.3 196,1153.3 197,1153.2 198,1153.3 199,1151.9 200,1152.3 201,1152 202,1152.7 203,1152.8 204,1153.2 205,1153 206,1152.2 207,1152.5 208,1152.8 209,1151.8 210,1151.9 211,1152.6 212,1152.1 213,1153.3 214,1152.4 215,1152.2 216,1152.4 217,1152.6 218,1152.7 219,1153.5 220,1153.5 221,1153.3 222,1154.1 223,1153.4 224,1155 225,1155.2 226,1154.9 227,1154.4 228,1154.7 229,1155 230,1154.1 230,1159.5 229,1159.5 228,1159.5 227,1159.5 226,1159.5 225,1159.5 224,1159.5 223,1159.5 222,1159.5 221,1159.5 220,1159.5 219,1159.5 218,1159.5 217,1159.5 216,1159.5 215,1159.5 214,1159.5 213,1159.5 212,1159.5 211,1159.5 210,1159.5 209,1159.5 208,1159.5 207,1159.5 206,1159.5 205,1159.5 204,1159.5 203,1159.5 202,1159.5 201,1159.5 200,1159.5 199,1159.5 198,1159.5 197,1159.5 196,1159.5 195,1159.5 194,1159.5 193,1159.5 192,1159.5 191,1159.5 190,1159.5 189,1159.5 188,1159.5" fill="#440154" fill-opacity="0.85"/><polygon points="216.3,1137.7 217.3,1138.2 218.3,1137 219.3,1136.7 220.3,1139.7 221.3,1138 222.3,1138.8 223.3,1140.5 224.3,1139.4 225.3,1138.2 226.3,1141.1 227.3,1138.7 228.3,1137.4 229.3,1140.2 230.3,1138 231.3,1138.9 232.3,1141.2 233.3,1140.6 234.3,1138.1 235.3,1140 236.3,1139.9 237.3,1140.3 238.3,1139.4 239.3,1141 240.3,1139 241.3,1140 242.3,1140.5 243.3,1142.8 244.3,1139.5 245.3,1142.3 246.3,1140.2 247.3,1141.8 248.3,1141.2 249.3,1141.6 250.3,1142.9 251.3,1141.6 252.3,1140.6 253.3,1140.7 254.3,1140.7 255.3,1143.9 256.3,1143.1 257.3,1144.5 258.3,1143.6 259.3,1141 260.3,1143.6 261.3,1144.2 262.3,1144 263.3,1143.1 264.3,1142.6 265.3,1143 266.3,1144.4 267.3,1142.3 268.3,1143.4 269.3,1143.2 270.3,1145.2 271.3,1144.6 272.3,1145.1 273.3,1144.8 274.3,1142.7 275.3,1142.4 276.3,1143.5 277.3,1142.6 278.3,1143.3 279.3,1144.4 280.3,1145.4 281.3,1144.1 282.3,1145 283.3,1142.2 284.3,1143.2 285.3,1145.8 286.3,1142.5 287.3,1143.6 288.3,1142.2 289.3,1142.3 290.3,1145.6 291.3,1146 292.3,1144.7 293.3,1142.6 294.3,1143.3 295.3,1143.1 296.3,1144.9 297.3,1145 298.3,1144 299.3,1144.4 300.3,1142.8 301.3,1144.6 302.3,1146.2 303.3,1145.5 304.3,1142.9 305.3,1144.6 306.3,1145.4 307.3,1143.6 308.3,1146.2 309.3,1144.5 310.3,1145.5 311.3,1144.3 312.3,1146.7 313.3,1145.9 314.3,1145.1 315.3,1143.4 316.3,1144.7 317.3,1143 318.3,1145.3 319.3,1146.5 320.3,1143.7 321.3,1145.1 322.3,1145 323.3,1144.7 324.3,1146 325.3,1146.9 326.3,1146 327.3,1145.2 328.3,1147.1 329.3,1144.7 330.3,1146.3 331.3,1146 332.3,1146.5 333.3,1146.9 334.3,1144.4 335.3,1146 336.3,1145.2 337.3,1146.3 338.3,1147.5 339.3,1146.2 340.3,1143.7 341.3,1145.6 342.3,1146.6 343.3,1147.3 344.3,1146.4 345.3,1147.1 346.3,1144 347.3,1147.7 348.3,1146.9 349.3,1146.4 350.3,1147.7 351.3,1147.6 352.3,1144.5 353.3,1147.4 354.3,1147.2 355.3,1145 356.3,1147.2 357.3,1146.6 358.3,1145.1 359.3,1147.6 360.3,1144.9 361.3,1146.9 362.3,1146.2 363.3,1145.5 364.3,1146.8 365.3,1146.4 366.3,1145.4 367.3,1148.5 368.3,1144.9 369.3,1144.7 370.3,1146.6 371.3,1148.1 372.3,1147.4 373.3,1147.8 374.3,1146.8 375.3,1147.6 376.3,1146.2 377.3,1146 378.3,1147 379.3,1145.1 380.3,1145.4 381.3,1148.1 382.3,1145.8 383.3,1148.1 384.3,1148.3 385.3,1146.8 386.3,1147.9 387.3,1148.4 388.3,1148.8 389.3,1145.9 390.3,1146 391.3,1146.9 392.3,1147.3 393.3,1146.7 394,1145.5 394,1159.6 393.3,1159.6 392.3,1159.6 391.3,1159.6 390.3,1159.6 389.3,1159.6 388.3,1159.6 387.3,1159.6 386.3,1159.6 385.3,1159.6 384.3,1159.6 383.3,1159.6 382.3,1159.6 381.3,1159.6 380.3,1159.6 379.3,1159.6 378.3,1159.6 377.3,1159.6 376.3,1159.6 375.3,1159.6 374.3,1159.6 373.3,1159.6 372.3,1159.6 371.3,1159.6 370.3,1159.6 369.3,1159.6 368.3,1159.6 367.3,1159.6 366.3,1159.6 365.3,1159.6 364.3,1159.6 363.3,1159.6 362.3,1159.6 361.3,1159.6 360.3,1159.6 359.3,1159.6 358.3,1159.6 357.3,1159.6 356.3,1159.6 355.3,1159.6 354.3,1159.6 353.3,1159.6 352.3,1159.6 351.3,1159.6 350.3,1159.6 349.3,1159.6 348.3,1159.6 347.3,1159.6 346.3,1159.6 345.3,1159.6 344.3,1159.6 343.3,1159.6 342.3,1159.6 341.3,1159.6 340.3,1159.6 339.3,1159.6 338.3,1159.6 337.3,1159.6 336.3,1159.6 335.3,1159.6 334.3,1159.6 333.3,1159.6 332.3,1159.6 331.3,1159.6 330.3,1159.6 329.3,1159.6 328.3,1159.6 327.3,1159.6 326.3,1159.6 325.3,1159.6 324.3,1159.6 323.3,1159.6 322.3,1159.6 321.3,1159.6 320.3,1159.6 319.3,1159.6 318.3,1159.6 317.3,1159.6 316.3,1159.6 315.3,1159.6 314.3,1159.6 313.3,1159.6 312.3,1159.6 311.3,1159.6 310.3,1159.6 309.3,1159.6 308.3,1159.6 307.3,1159.6 306.3,1159.6 305.3,1159.6 304.3,1159.6 303.3,1159.6 302.3,1159.6 301.3,1159.6 300.3,1159.6 299.3,1159.6 298.3,1159.6 297.3,1159.6 296.3,1159.6 295.3,1159.6 294.3,1159.6 293.3,1159.6 292.3,1159.6 291.3,1159.6 290.3,1159.6 289.3,1159.6 288.3,1159.6 287.3,1159.6 286.3,1159.6 285.3,1159.6 284.3,1159.6 283.3,1159.6 282.3,1159.6 281.3,1159.6 280.3,1159.6 279.3,1159.6 278.3,1159.6 277.3,1159.6 276.3,1159.6 275.3,1159.6 274.3,1159.6 273.3,1159.6 272.3,1159.6 271.3,1159.6 270.3,1159.6 269.3,1159.6 268.3,1159.6 267.3,1159.6 266.3,1159.6 265.3,1159.6 264.3,1159.6 263.3,1159.6 262.3,1159.6 261.3,1159.6 260.3,1159.6 259.3,1159.6 258.3,1159.6 257.3,1159.6 256.3,1159.6 255.3,1159.6 254.3,1159.6 253.3,1159.6 252.3,1159.6 251.3,1159.6 250.3,1159.6 249.3,1159.6 248.3,1159.6 247.3,1159.6 246.3,1159.6 245.3,1159.6 244.3,1159.6 243.3,1159.6 242.3,1159.6 241.3,1159.6 240.3,1159.6 239.3,1159.6 238.3,1159.6 237.3,1159.6 236.3,1159.6 235.3,1159.6 234.3,1159.6 233.3,1159.6 232.3,1159.6 231.3,1159.6 230.3,1159.6 229.3,1159.6 228.3,1159.6 227.3,1159.6 226.3,1159.6 225.3,1159.6 224.3,1159.6 223.3,1159.6 222.3,1159.6 221.3,1159.6 220.3,1159.6 219.3,1159.6 218.3,1159.6 217.3,1159.6 216.3,1159.6" fill="#fde725" fill-opacity="0.3"/><polygon points="216.3,1139.6 217.3,1141.3 218.3,1139 219.3,1139.8 220.3,1139.3 221.3,1139.7 222.3,1141.5 223.3,1139.4 224.3,1140.8 225.3,1140.3 226.3,1140.6 227.3,1142.3 228.3,1139 229.3,1142.1 230.3,1140.2 231.3,1141.6 232.3,1142.3 233.3,1141.9 234.3,1141 235.3,1142.9 236.3,1140 237.3,1142.3 238.3,1141.4 239.3,1142.1 240.3,1143.5 241.3,1143.4 242.3,1142.8 243.3,1141.7 244.3,1141.5 245.3,1142.5 246.3,1141.7 247.3,1142 248.3,1144.8 249.3,1141.6 250.3,1144.5 251.3,1142.9 252.3,1142.9 253.3,1142.8 254.3,1142 255.3,1143.6 256.3,1142.6 257.3,1143.8 258.3,1143.3 259.3,1145.8 260.3,1146 261.3,1144.1 262.3,1145 263.3,1146.2 264.3,1143.8 265.3,1142.9 266.3,1143.5 267.3,1143.3 268.3,1145.3 269.3,1144.1 270.3,1144.1 271.3,1145.9 272.3,1143.7 273.3,1146 274.3,1145.3 275.3,1144.4 276.3,1146.2 277.3,1144.3 278.3,1146.5 279.3,1146.7 280.3,1145 281.3,1145.8 282.3,1146.9 283.3,1146.1 284.3,1146.2 285.3,1146.7 286.3,1147 287.3,1146.3 288.3,1147.2 289.3,1144.5 290.3,1145.8 291.3,1146.1 292.3,1144.9 293.3,1145 294.3,1144.2 295.3,1147.3 296.3,1145 297.3,1145.5 298.3,1147.2 299.3,1144.4 300.3,1147.5 301.3,1144.2 302.3,1143.9 303.3,1145.2 304.3,1145.3 305.3,1147.5 306.3,1147.4 307.3,1147 308.3,1145.7 309.3,1146.2 310.3,1145 311.3,1147.4 312.3,1145.6 313.3,1145.3 314.3,1146.7 315.3,1144.8 316.3,1145.5 317.3,1148 318.3,1144.7 319.3,1144.9 320.3,1145.2 321.3,1145.4 322.3,1146.1 323.3,1145.5 324.3,1145.9 325.3,1145.5 326.3,1145.5 327.3,1147 328.3,1146 329.3,1146.2 330.3,1147.8 331.3,1145 332.3,1145.3 333.3,1148.2 334.3,1146.5 335.3,1148 336.3,1145.4 337.3,1147 338.3,1148.3 339.3,1146.3 340.3,1148.1 341.3,1147.5 342.3,1146.7 343.3,1149.1 344.3,1146.7 345.3,1147.1 346.3,1147.7 347.3,1146.5 348.3,1148.6 349.3,1147.7 350.3,1147.7 351.3,1147.6 352.3,1149.4 353.3,1149.4 354.3,1148.9 355.3,1147.4 356.3,1147.2 357.3,1147.7 358.3,1145.8 359.3,1146.1 360.3,1149.7 361.3,1146.2 362.3,1149.5 363.3,1148.5 364.3,1149.5 365.3,1146.2 366.3,1147.1 367.3,1149.1 368.3,1146 369.3,1146.4 370.3,1147.4 371.3,1146.8 372.3,1146.7 373.3,1148.8 374.3,1146.5 375.3,1150.1 376.3,1148.8 377.3,1146.5 378.3,1149.9 379.3,1147.3 380.3,1148.3 381.3,1148.6 382.3,1147 383.3,1148.5 384.3,1146.7 385.3,1147.3 386.3,1150.2 387.3,1149.9 388.3,1148.7 389.3,1149.4 390.3,1150.2 391.3,1147.3 392.3,1148.7 393.3,1147.3 394,1147.3 394,1159.6 393.3,1159.6 392.3,1159.6 391.3,1159.6 390.3,1159.6 389.3,1159.6 388.3,1159.6 387.3,1159.6 386.3,1159.6 385.3,1159.6 384.3,1159.6 383.3,1159.6 382.3,1159.6 381.3,1159.6 380.3,1159.6 379.3,1159.6 378.3,1159.6 377.3,1159.6 376.3,1159.6 375.3,1159.6 374.3,1159.6 373.3,1159.6 372.3,1159.6 371.3,1159.6 370.3,1159.6 369.3,1159.6 368.3,1159.6 367.3,1159.6 366.3,1159.6 365.3,1159.6 364.3,1159.6 363.3,1159.6 362.3,1159.6 361.3,1159.6 360.3,1159.6 359.3,1159.6 358.3,1159.6 357.3,1159.6 356.3,1159.6 355.3,1159.6 354.3,1159.6 353.3,1159.6 352.3,1159.6 351.3,1159.6 350.3,1159.6 349.3,1159.6 348.3,1159.6 347.3,1159.6 346.3,1159.6 345.3,1159.6 344.3,1159.6 343.3,1159.6 342.3,1159.6 341.3,1159.6 340.3,1159.6 339.3,1159.6 338.3,1159.6 337.3,1159.6 336.3,1159.6 335.3,1159.6 334.3,1159.6 333.3,1159.6 332.3,1159.6 331.3,1159.6 330.3,1159.6 329.3,1159.6 328.3,1159.6 327.3,1159.6 326.3,1159.6 325.3,1159.6 324.3,1159.6 323.3,1159.6 322.3,1159.6 321.3,1159.6 320.3,1159.6 319.3,1159.6 318.3,1159.6 317.3,1159.6 316.3,1159.6 315.3,1159.6 314.3,1159.6 313.3,1159.6 312.3,1159.6 311.3,1159.6 310.3,1159.6 309.3,1159.6 308.3,1159.6 307.3,1159.6 306.3,1159.6 305.3,1159.6 304.3,1159.6 303.3,1159.6 302.3,1159.6 301.3,1159.6 300.3,1159.6 299.3,1159.6 298.3,1159.6 297.3,1159.6 296.3,1159.6 295.3,1159.6 294.3,1159.6 293.3,1159.6 292.3,1159.6 291.3,1159.6 290.3,1159.6 289.3,1159.6 288.3,1159.6 287.3,1159.6 286.3,1159.6 285.3,1159.6 284.3,1159.6 283.3,1159.6 282.3,1159.6 281.3,1159.6 280.3,1159.6 279.3,1159.6 278.3,1159.6 277.3,1159.6 276.3,1159.6 275.3,1159.6 274.3,1159.6 273.3,1159.6 272.3,1159.6 271.3,1159.6 270.3,1159.6 269.3,1159.6 268.3,1159.6 267.3,1159.6 266.3,1159.6 265.3,1159.6 264.3,1159.6 263.3,1159.6 262.3,1159.6 261.3,1159.6 260.3,1159.6 259.3,1159.6 258.3,1159.6 257.3,1159.6 256.3,1159.6 255.3,1159.6 254.3,1159.6 253.3,1159.6 252.3,1159.6 251.3,1159.6 250.3,1159.6 249.3,1159.6 248.3,1159.6 247.3,1159.6 246.3,1159.6 245.3,1159.6 244.3,1159.6 243.3,1159.6 242.3,1159.6 241.3,1159.6 240.3,1159.6 239.3,1159.6 238.3,1159.6 237.3,1159.6 236.3,1159.6 235.3,1159.6 234.3,1159.6 233.3,1159.6 232.3,1159.6 231.3,1159.6 230.3,1159.6 229.3,1159.6 228.3,1159.6 227.3,1159.6 226.3,1159.6 225.3,1159.6 224.3,1159.6 223.3,1159.6 222.3,1159.6 221.3,1159.6 220.3,1159.6 219.3,1159.6 218.3,1159.6 217.3,1159.6 216.3,1159.6" fill="#fde725" fill-opacity="0.3"/><polygon points="216.3,1139.1 217.3,1139.6 218.3,1139.1 219.3,1139.9 220.3,1140.6 221.3,1141.7 222.3,1142.8 223.3,1143.1 224.3,1142.5 225.3,1141.7 226.3,1143.5 227.3,1140.6 228.3,1140.5 229.3,1143.4 230.3,1142.8 231.3,1141.2 232.3,1142 233.3,1141.8 234.3,1142.4 235.3,1142.6 236.3,1142.5 237.3,1144.3 238.3,1144.4 239.3,1143.5 240.3,1143.3 241.3,1142.7 242.3,1144.7 243.3,1145.7 244.3,1142.8 245.3,1144.8 246.3,1144.9 247.3,1144.8 248.3,1142.5 249.3,1144.6 250.3,1143.4 251.3,1143.4 252.3,1145.1 253.3,1145.5 254.3,1145.5 255.3,1146.1 256.3,1146.1 257.3,1145.3 258.3,1143.7 259.3,1146.7 260.3,1147 261.3,1147.1 262.3,1146.1 263.3,1143.9 264.3,1144.6 265.3,1144.3 266.3,1146.4 267.3,1146.1 268.3,1144.7 269.3,1147.8 270.3,1147.9 271.3,1147.6 272.3,1145.9 273.3,1145.3 274.3,1145 275.3,1147.5 276.3,1147 277.3,1145.4 278.3,1147.9 279.3,1146.6 280.3,1146 281.3,1146 282.3,1147.3 283.3,1146.3 284.3,1147.1 285.3,1145 286.3,1147.4 287.3,1145.7 288.3,1148.3 289.3,1145.5 290.3,1146 291.3,1146.9 292.3,1146.3 293.3,1146.9 294.3,1148.5 295.3,1145.7 296.3,1148 297.3,1147.7 298.3,1148.1 299.3,1146.8 300.3,1146.8 301.3,1146.4 302.3,1147 303.3,1146.1 304.3,1145.9 305.3,1147.1 306.3,1146 307.3,1147.1 308.3,1147.6 309.3,1146.6 310.3,1146 311.3,1147.8 312.3,1148.9 313.3,1146.3 314.3,1148 315.3,1148.2 316.3,1149.1 317.3,1148.3 318.3,1146.9 319.3,1146.5 320.3,1149 321.3,1146.9 322.3,1145.8 323.3,1149.3 324.3,1146.6 325.3,1147.1 326.3,1147.2 327.3,1147 328.3,1148.9 329.3,1147.4 330.3,1147.8 331.3,1147.7 332.3,1149.4 333.3,1146.2 334.3,1148.5 335.3,1146.7 336.3,1146.8 337.3,1148.7 338.3,1147.8 339.3,1146.6 340.3,1148.7 341.3,1150.1 342.3,1149 343.3,1148.4 344.3,1149.7 345.3,1150.2 346.3,1147.2 347.3,1147.8 348.3,1150.5 349.3,1150.4 350.3,1147.5 351.3,1149.5 352.3,1150.3 353.3,1149.2 354.3,1149.6 355.3,1149 356.3,1147.8 357.3,1147.8 358.3,1147.2 359.3,1149.7 360.3,1147.6 361.3,1149.6 362.3,1148.7 363.3,1148.9 364.3,1151.1 365.3,1148.8 366.3,1149.1 367.3,1148.8 368.3,1148.2 369.3,1148.2 370.3,1149.5 371.3,1150.7 372.3,1147.8 373.3,1151.3 374.3,1150.2 375.3,1147.8 376.3,1150.4 377.3,1149.2 378.3,1149.7 379.3,1148.1 380.3,1149.7 381.3,1149.8 382.3,1150.9 383.3,1150.1 384.3,1150.7 385.3,1150.8 386.3,1148.8 387.3,1148 388.3,1149.9 389.3,1148.5 390.3,1148.6 391.3,1149.4 392.3,1150.3 393.3,1150.6 394,1150.8 394,1159.6 393.3,1159.6 392.3,1159.6 391.3,1159.6 390.3,1159.6 389.3,1159.6 388.3,1159.6 387.3,1159.6 386.3,1159.6 385.3,1159.6 384.3,1159.6 383.3,1159.6 382.3,1159.6 381.3,1159.6 380.3,1159.6 379.3,1159.6 378.3,1159.6 377.3,1159.6 376.3,1159.6 375.3,1159.6 374.3,1159.6 373.3,1159.6 372.3,1159.6 371.3,1159.6 370.3,1159.6 369.3,1159.6 368.3,1159.6 367.3,1159.6 366.3,1159.6 365.3,1159.6 364.3,1159.6 363.3,1159.6 362.3,1159.6 361.3,1159.6 360.3,1159.6 359.3,1159.6 358.3,1159.6 357.3,1159.6 356.3,1159.6 355.3,1159.6 354.3,1159.6 353.3,1159.6 352.3,1159.6 351.3,1159.6 350.3,1159.6 349.3,1159.6 348.3,1159.6 347.3,1159.6 346.3,1159.6 345.3,1159.6 344.3,1159.6 343.3,1159.6 342.3,1159.6 341.3,1159.6 340.3,1159.6 339.3,1159.6 338.3,1159.6 337.3,1159.6 336.3,1159.6 335.3,1159.6 334.3,1159.6 333.3,1159.6 332.3,1159.6 331.3,1159.6 330.3,1159.6 329.3,1159.6 328.3,1159.6 327.3,1159.6 326.3,1159.6 325.3,1159.6 324.3,1159.6 323.3,1159.6 322.3,1159.6 321.3,1159.6 320.3,1159.6 319.3,1159.6 318.3,1159.6 317.3,1159.6 316.3,1159.6 315.3,1159.6 314.3,1159.6 313.3,1159.6 312.3,1159.6 311.3,1159.6 310.3,1159.6 309.3,1159.6 308.3,1159.6 307.3,1159.6 306.3,1159.6 305.3,1159.6 304.3,1159.6 303.3,1159.6 302.3,1159.6 301.3,1159.6 300.3,1159.6 299.3,1159.6 298.3,1159.6 297.3,1159.6 296.3,1159.6 295.3,1159.6 294.3,1159.6 293.3,1159.6 292.3,1159.6 291.3,1159.6 290.3,1159.6 289.3,1159.6 288.3,1159.6 287.3,1159.6 286.3,1159.6 285.3,1159.6 284.3,1159.6 283.3,1159.6 282.3,1159.6 281.3,1159.6 280.3,1159.6 279.3,1159.6 278.3,1159.6 277.3,1159.6 276.3,1159.6 275.3,1159.6 274.3,1159.6 273.3,1159.6 272.3,1159.6 271.3,1159.6 270.3,1159.6 269.3,1159.6 268.3,1159.6 267.3,1159.6 266.3,1159.6 265.3,1159.6 264.3,1159.6 263.3,1159.6 262.3,1159.6 261.3,1159.6 260.3,1159.6 259.3,1159.6 258.3,1159.6 257.3,1159.6 256.3,1159.6 255.3,1159.6 254.3,1159.6 253.3,1159.6 252.3,1159.6 251.3,1159.6 250.3,1159.6 249.3,1159.6 248.3,1159.6 247.3,1159.6 246.3,1159.6 245.3,1159.6 244.3,1159.6 243.3,1159.6 242.3,1159.6 241.3,1159.6 240.3,1159.6 239.3,1159.6 238.3,1159.6 237.3,1159.6 236.3,1159.6 235.3,1159.6 234.3,1159.6 233.3,1159.6 232.3,1159.6 231.3,1159.6 230.3,1159.6 229.3,1159.6 228.3,1159.6 227.3,1159.6 226.3,1159.6 225.3,1159.6 224.3,1159.6 223.3,1159.6 222.3,1159.6 221.3,1159.6 220.3,1159.6 219.3,1159.6 218.3,1159.6 217.3,1159.6 216.3,1159.6" fill="#fde725" fill-opacity="0.3"/><polygon points="216.3,1143.1 217.3,1141.2 218.3,1142.4 219.3,1141.4 220.3,1142.9 221.3,1142.4 222.3,1141.8 223.3,1142.3 224.3,1143.3 225.3,1143 226.3,1144.2 227.3,1142.9 228.3,1143 229.3,1144.5 230.3,1143.9 231.3,1142.8 232.3,1144.5 233.3,1143.6 234.3,1145.1 235.3,1144.5 236.3,1145 237.3,1145.4 238.3,1144.5 239.3,1145.8 240.3,1143.6 241.3,1144.5 242.3,1145.8 243.3,1143.9 244.3,1145.6 245.3,1146.5 246.3,1145.9 247.3,1146.4 248.3,1144.6 249.3,1145.9 250.3,1146.2 251.3,1145.8 252.3,1145.9 253.3,1146.9 254.3,1145.5 255.3,1145.4 256.3,1146.8 257.3,1147.8 258.3,1147.6 259.3,1147.3 260.3,1146.5 261.3,1148 262.3,1146 263.3,1146.5 264.3,1147.8 265.3,1148.1 266.3,1147 267.3,1148.2 268.3,1146.3 269.3,1147.5 270.3,1146.3 271.3,1146.7 272.3,1146.7 273.3,1146.3 274.3,1147.3 275.3,1147.5 276.3,1147 277.3,1147.9 278.3,1146.5 279.3,1147.7 280.3,1147.7 281.3,1147.5 282.3,1148.7 283.3,1146.9 284.3,1147.6 285.3,1147.8 286.3,1147.6 287.3,1149.1 288.3,1148.1 289.3,1148 290.3,1147.9 291.3,1147.9 292.3,1149.2 293.3,1148.8 294.3,1148.5 295.3,1147.4 296.3,1148.4 297.3,1147.4 298.3,1147.9 299.3,1147.2 300.3,1148.8 301.3,1149.5 302.3,1148.8 303.3,1148.6 304.3,1147.9 305.3,1148.4 306.3,1148.5 307.3,1148.4 308.3,1148.1 309.3,1148 310.3,1149.3 311.3,1149.8 312.3,1149.5 313.3,1149.1 314.3,1147.7 315.3,1148.4 316.3,1149.7 317.3,1150.1 318.3,1149.1 319.3,1149.2 320.3,1149.5 321.3,1148.5 322.3,1149.6 323.3,1148.8 324.3,1150 325.3,1149.1 326.3,1149.6 327.3,1149.4 328.3,1149.4 329.3,1149.2 330.3,1150.4 331.3,1150 332.3,1149.2 333.3,1149.5 334.3,1150.4 335.3,1150.1 336.3,1149.9 337.3,1150.7 338.3,1148.7 339.3,1149.9 340.3,1150 341.3,1149.6 342.3,1150.9 343.3,1150.9 344.3,1149.6 345.3,1150.1 346.3,1150.5 347.3,1150.4 348.3,1149.6 349.3,1150.7 350.3,1149.7 351.3,1149.2 352.3,1150.5 353.3,1150.5 354.3,1149.9 355.3,1150.2 356.3,1151.4 357.3,1151 358.3,1150.1 359.3,1151.3 360.3,1150.5 361.3,1150.2 362.3,1150.8 363.3,1151.1 364.3,1151.5 365.3,1150.9 366.3,1151 367.3,1150.4 368.3,1149.5 369.3,1150.6 370.3,1149.8 371.3,1151.8 372.3,1150.4 373.3,1151.1 374.3,1151.4 375.3,1150.1 376.3,1151.7 377.3,1150.5 378.3,1150 379.3,1151.2 380.3,1150.8 381.3,1152.1 382.3,1151 383.3,1150.2 384.3,1150 385.3,1150.1 386.3,1151.2 387.3,1151.8 388.3,1150.2 389.3,1150.9 390.3,1151.3 391.3,1152.4 392.3,1152.6 393.3,1152.4 394,1151.8 394,1159.6 393.3,1159.6 392.3,1159.6 391.3,1159.6 390.3,1159.6 389.3,1159.6 388.3,1159.6 387.3,1159.6 386.3,1159.6 385.3,1159.6 384.3,1159.6 383.3,1159.6 382.3,1159.6 381.3,1159.6 380.3,1159.6 379.3,1159.6 378.3,1159.6 377.3,1159.6 376.3,1159.6 375.3,1159.6 374.3,1159.6 373.3,1159.6 372.3,1159.6 371.3,1159.6 370.3,1159.6 369.3,1159.6 368.3,1159.6 367.3,1159.6 366.3,1159.6 365.3,1159.6 364.3,1159.6 363.3,1159.6 362.3,1159.6 361.3,1159.6 360.3,1159.6 359.3,1159.6 358.3,1159.6 357.3,1159.6 356.3,1159.6 355.3,1159.6 354.3,1159.6 353.3,1159.6 352.3,1159.6 351.3,1159.6 350.3,1159.6 349.3,1159.6 348.3,1159.6 347.3,1159.6 346.3,1159.6 345.3,1159.6 344.3,1159.6 343.3,1159.6 342.3,1159.6 341.3,1159.6 340.3,1159.6 339.3,1159.6 338.3,1159.6 337.3,1159.6 336.3,1159.6 335.3,1159.6 334.3,1159.6 333.3,1159.6 332.3,1159.6 331.3,1159.6 330.3,1159.6 329.3,1159.6 328.3,1159.6 327.3,1159.6 326.3,1159.6 325.3,1159.6 324.3,1159.6 323.3,1159.6 322.3,1159.6 321.3,1159.6 320.3,1159.6 319.3,1159.6 318.3,1159.6 317.3,1159.6 316.3,1159.6 315.3,1159.6 314.3,1159.6 313.3,1159.6 312.3,1159.6 311.3,1159.6 310.3,1159.6 309.3,1159.6 308.3,1159.6 307.3,1159.6 306.3,1159.6 305.3,1159.6 304.3,1159.6 303.3,1159.6 302.3,1159.6 301.3,1159.6 300.3,1159.6 299.3,1159.6 298.3,1159.6 297.3,1159.6 296.3,1159.6 295.3,1159.6 294.3,1159.6 293.3,1159.6 292.3,1159.6 291.3,1159.6 290.3,1159.6 289.3,1159.6 288.3,1159.6 287.3,1159.6 286.3,1159.6 285.3,1159.6 284.3,1159.6 283.3,1159.6 282.3,1159.6 281.3,1159.6 280.3,1159.6 279.3,1159.6 278.3,1159.6 277.3,1159.6 276.3,1159.6 275.3,1159.6 274.3,1159.6 273.3,1159.6 272.3,1159.6 271.3,1159.6 270.3,1159.6 269.3,1159.6 268.3,1159.6 267.3,1159.6 266.3,1159.6 265.3,1159.6 264.3,1159.6 263.3,1159.6 262.3,1159.6 261.3,1159.6 260.3,1159.6 259.3,1159.6 258.3,1159.6 257.3,1159.6 256.3,1159.6 255.3,1159.6 254.3,1159.6 253.3,1159.6 252.3,1159.6 251.3,1159.6 250.3,1159.6 249.3,1159.6 248.3,1159.6 247.3,1159.6 246.3,1159.6 245.3,1159.6 244.3,1159.6 243.3,1159.6 242.3,1159.6 241.3,1159.6 240.3,1159.6 239.3,1159.6 238.3,1159.6 237.3,1159.6 236.3,1159.6 235.3,1159.6 234.3,1159.6 233.3,1159.6 232.3,1159.6 231.3,1159.6 230.3,1159.6 229.3,1159.6 228.3,1159.6 227.3,1159.6 226.3,1159.6 225.3,1159.6 224.3,1159.6 223.3,1159.6 222.3,1159.6 221.3,1159.6 220.3,1159.6 219.3,1159.6 218.3,1159.6 217.3,1159.6 216.3,1159.6" fill="#f4de22"/><polygon points="216,1156.6 217,1156.1 218,1156.7 219,1156 220,1156.2 221,1157.1 222,1156.6 223,1156.9 224,1156.5 225,1156.2 226,1156.6 227,1156.7 228,1156.2 229,1157.1 230,1157.3 231,1156.1 232,1156.2 233,1157.1 234,1157 235,1156.2 236,1156.7 237,1156.2 238,1157.2 239,1156.8 240,1156.7 241,1156.1 242,1156.5 243,1156.6 244,1156.4 245,1156.2 246,1156.2 247,1157 248,1157.4 249,1157.2 250,1156.9 251,1157.2 252,1156.1 253,1156.2 254,1157 255,1155.9 256,1156.1 257,1157.2 258,1156.3 259,1156.2 260,1156.6 261,1157.3 262,1156 263,1157.4 264,1156.5 265,1156.9 266,1156.7 267,1156.2 268,1157.5 269,1156.3 270,1157.3 271,1157.4 272,1156.7 273,1157.6 274,1156.1 275,1156.3 276,1156.8 277,1156.2 278,1157.3 279,1156.9 280,1157.3 281,1156.5 282,1156.1 283,1157.5 284,1156.4 285,1156.8 286,1156.3 287,1157 288,1156.8 289,1156.4 290,1156.2 291,1156.7 292,1157.4 293,1156.4 294,1156.5 295,1157.1 296,1157.2 297,1157.4 298,1157.2 299,1157.5 300,1156.4 301,1157.7 302,1156.2 303,1156.4 304,1156.4 305,1157.4 306,1157 307,1157.7 308,1157.8 309,1157.7 310,1157.2 311,1156.8 312,1157.8 313,1157.4 314,1156.6 315,1157.1 316,1156.3 317,1156.3 318,1157.3 319,1157.4 320,1157.7 321,1157.5 322,1156.5 323,1157.5 324,1157.9 325,1157.4 326,1157.1 327,1156.8 328,1156.4 329,1157.3 330,1157.9 331,1156.5 332,1157.7 333,1157.8 334,1156.9 335,1157.7 336,1156.6 337,1156.9 338,1157.3 339,1157.8 340,1157.3 341,1156.5 342,1157.9 343,1157.3 344,1157.7 345,1156.8 346,1157 347,1156.6 348,1156.7 349,1157.1 350,1157.1 351,1157.5 352,1157.8 353,1157 354,1158 355,1157.5 356,1157 357,1156.8 358,1158 359,1157.6 360,1156.6 361,1157.6 362,1157.1 363,1157.2 364,1157.8 365,1156.9 366,1157 367,1157.4 368,1158 369,1156.7 370,1157.9 371,1157.7 372,1156.9 373,1157.6 374,1157.6 375,1157.7 376,1157.5 377,1157.1 378,1157.4 379,1157 380,1157.3 381,1157.3 382,1156.8 383,1157 384,1157.2 385,1157.3 386,1157.6 387,1157.9 388,1157.1 389,1157.6 390,1157.2 391,1157 392,1156.9 393,1158.2 394,1158.2 394,1159.6 393,1159.6 392,1159.6 391,1159.6 390,1159.6 389,1159.6 388,1159.6 387,1159.6 386,1159.6 385,1159.6 384,1159.6 383,1159.6 382,1159.6 381,1159.6 380,1159.6 379,1159.6 378,1159.6 377,1159.6 376,1159.6 375,1159.6 374,1159.6 373,1159.6 372,1159.6 371,1159.6 370,1159.6 369,1159.6 368,1159.6 367,1159.6 366,1159.6 365,1159.6 364,1159.6 363,1159.6 362,1159.6 361,1159.6 360,1159.6 359,1159.6 358,1159.6 357,1159.6 356,1159.6 355,1159.6 354,1159.6 353,1159.6 352,1159.6 351,1159.6 350,1159.6 349,1159.6 348,1159.6 347,1159.6 346,1159.6 345,1159.6 344,1159.6 343,1159.6 342,1159.6 341,1159.6 340,1159.6 339,1159.6 338,1159.6 337,1159.6 336,1159.6 335,1159.6 334,1159.6 333,1159.6 332,1159.6 331,1159.6 330,1159.6 329,1159.6 328,1159.6 327,1159.6 326,1159.6 325,1159.6 324,1159.6 323,1159.6 322,1159.6 321,1159.6 320,1159.6 319,1159.6 318,1159.6 317,1159.6 316,1159.6 315,1159.6 314,1159.6 313,1159.6 312,1159.6 311,1159.6 310,1159.6 309,1159.6 308,1159.6 307,1159.6 306,1159.6 305,1159.6 304,1159.6 303,1159.6 302,1159.6 301,1159.6 300,1159.6 299,1159.6 298,1159.6 297,1159.6 296,1159.6 295,1159.6 294,1159.6 293,1159.6 292,1159.6 291,1159.6 290,1159.6 289,1159.6 288,1159.6 287,1159.6 286,1159.6 285,1159.6 284,1159.6 283,1159.6 282,1159.6 281,1159.6 280,1159.6 279,1159.6 278,1159.6 277,1159.6 276,1159.6 275,1159.6 274,1159.6 273,1159.6 272,1159.6 271,1159.6 270,1159.6 269,1159.6 268,1159.6 267,1159.6 266,1159.6 265,1159.6 264,1159.6 263,1159.6 262,1159.6 261,1159.6 260,1159.6 259,1159.6 258,1159.6 257,1159.6 256,1159.6 255,1159.6 254,1159.6 253,1159.6 252,1159.6 251,1159.6 250,1159.6 249,1159.6 248,1159.6 247,1159.6 246,1159.6 245,1159.6 244,1159.6 243,1159.6 242,1159.6 241,1159.6 240,1159.6 239,1159.6 238,1159.6 237,1159.6 236,1159.6 235,1159.6 234,1159.6 233,1159.6 232,1159.6 231,1159.6 230,1159.6 229,1159.6 228,1159.6 227,1159.6 226,1159.6 225,1159.6 224,1159.6 223,1159.6 222,1159.6 221,1159.6 220,1159.6 219,1159.6 218,1159.6 217,1159.6 216,1159.6" fill="#440154" fill-opacity="0.85"/><polygon points="216,1151.7 217,1150.4 218,1150.3 219,1150.3 220,1150.7 221,1150.9 222,1150.1 223,1150.9 224,1151.5 225,1151.8 226,1150.5 227,1150.2 228,1151.8 229,1150.9 230,1150.8 231,1150.5 232,1150.8 233,1150.8 234,1150.8 235,1150.7 236,1151.3 237,1151.9 238,1150.9 239,1151.2 240,1151.3 241,1152 242,1151.9 243,1152.4 244,1150.7 245,1152 246,1151 247,1151.6 248,1151.5 249,1151.6 250,1151.1 251,1150.6 252,1150.5 253,1152.4 254,1152.3 255,1151.5 256,1150.7 257,1152.3 258,1151.6 259,1151.5 260,1151.9 261,1150.9 262,1151.1 263,1152.3 264,1152.1 265,1152.7 266,1151.6 267,1152.7 268,1152.5 269,1151.8 270,1152.5 271,1151.1 272,1150.9 273,1152.4 274,1151.1 275,1151.9 276,1152.3 277,1152.2 278,1151.3 279,1152.5 280,1151 281,1152 282,1152.7 283,1152 284,1151.6 285,1153 286,1152.4 287,1152.6 288,1152.8 289,1152.9 290,1152.2 291,1152.7 292,1152.1 293,1151.6 294,1151.7 295,1151.6 296,1151.2 297,1152.4 298,1152 299,1153 300,1151.3 301,1152.8 302,1151.6 303,1151.9 304,1151.8 305,1153.2 306,1152.6 307,1152.2 308,1151.7 309,1151.4 310,1152.1 311,1153.3 312,1152.2 313,1152.7 314,1153.1 315,1151.5 316,1152 317,1152.3 318,1151.9 319,1152.2 320,1152.8 321,1151.7 322,1152.9 323,1152.1 324,1152.8 325,1151.9 326,1153.1 327,1152.4 328,1153.2 329,1153.5 330,1152.8 331,1151.7 332,1152.4 333,1153.6 334,1153 335,1153.2 336,1152.6 337,1153.6 338,1153.5 339,1153 340,1152.9 341,1152 342,1151.8 343,1152.2 344,1153.2 345,1153.5 346,1153.4 347,1153.6 348,1151.9 349,1151.9 350,1152.4 351,1151.9 352,1153.1 353,1153.8 354,1153.7 355,1152.2 356,1153.3 357,1153.3 358,1153.3 359,1152.8 360,1152.5 361,1153.8 362,1153.9 363,1153.5 364,1153.2 365,1152.2 366,1152.7 367,1152.6 368,1152.6 369,1152.6 370,1153.5 371,1153.5 372,1152.5 373,1154 374,1152.2 375,1154.1 376,1153.4 377,1153.6 378,1152.8 379,1153.7 380,1154.1 381,1152.7 382,1152.6 383,1153.9 384,1152.9 385,1152.6 386,1153.4 387,1152.8 388,1152.8 389,1153 390,1152.6 391,1154.1 392,1153.6 393,1153.8 394,1153.1 394,1157 393,1157 392,1157 391,1157 390,1157 389,1157 388,1157 387,1157 386,1157 385,1156.9 384,1156.9 383,1156.9 382,1156.9 381,1156.9 380,1156.9 379,1156.9 378,1156.9 377,1156.9 376,1156.9 375,1156.9 374,1156.9 373,1156.9 372,1156.9 371,1156.9 370,1156.9 369,1156.9 368,1156.9 367,1156.8 366,1156.8 365,1156.8 364,1156.8 363,1156.8 362,1156.8 361,1156.8 360,1156.8 359,1156.8 358,1156.8 357,1156.8 356,1156.8 355,1156.8 354,1156.8 353,1156.8 352,1156.8 351,1156.8 350,1156.8 349,1156.7 348,1156.7 347,1156.7 346,1156.7 345,1156.7 344,1156.7 343,1156.7 342,1156.7 341,1156.7 340,1156.7 339,1156.7 338,1156.7 337,1156.7 336,1156.7 335,1156.7 334,1156.7 333,1156.7 332,1156.7 331,1156.6 330,1156.6 329,1156.6 328,1156.6 327,1156.6 326,1156.6 325,1156.6 324,1156.6 323,1156.6 322,1156.6 321,1156.6 320,1156.6 319,1156.6 318,1156.6 317,1156.6 316,1156.6 315,1156.6 314,1156.6 313,1156.5 312,1156.5 311,1156.5 310,1156.5 309,1156.5 308,1156.5 307,1156.5 306,1156.5 305,1156.5 304,1156.5 303,1156.5 302,1156.5 301,1156.5 300,1156.5 299,1156.5 298,1156.5 297,1156.5 296,1156.4 295,1156.4 294,1156.4 293,1156.4 292,1156.4 291,1156.4 290,1156.4 289,1156.4 288,1156.4 287,1156.4 286,1156.4 285,1156.4 284,1156.4 283,1156.4 282,1156.4 281,1156.4 280,1156.4 279,1156.4 278,1156.3 277,1156.3 276,1156.3 275,1156.3 274,1156.3 273,1156.3 272,1156.3 271,1156.3 270,1156.3 269,1156.3 268,1156.3 267,1156.3 266,1156.3 265,1156.3 264,1156.3 263,1156.3 262,1156.3 261,1156.3 260,1156.2 259,1156.2 258,1156.2 257,1156.2 256,1156.2 255,1156.2 254,1156.2 253,1156.2 252,1156.2 251,1156.2 250,1156.2 249,1156.2 248,1156.2 247,1156.2 246,1156.2 245,1156.2 244,1156.2 243,1156.2 242,1156.1 241,1156.1 240,1156.1 239,1156.1 238,1156.1 237,1156.1 236,1156.1 235,1156.1 234,1156.1 233,1156.1 232,1156.1 231,1156.1 230,1156.1 229,1156.1 228,1156.1 227,1156.1 226,1156.1 225,1156.1 224,1156 223,1156 222,1156 221,1156 220,1156 219,1156 218,1156 217,1156 216,1156" fill="#8a6a30" fill-opacity="0.12"/><polygon points="267.8,1148 269,1130 270.2,1148" fill="#440154" fill-opacity="0.9"/><polygon points="320.9,1146 321.5,1128.5 322.1,1146" fill="#fde725"/><polygon points="320.5,1149 321.5,1134 322.5,1149" fill="#440154" fill-opacity="0.9"/><polygon points="322.8,1149 323.5,1141 324.2,1149" fill="#440154" fill-opacity="0.7"/><polygon points="307.2,1146 308,1141 308.8,1146" fill="#fde725"/><polygon points="394.3,1141.4 395.3,1142.4 396.3,1142.7 397.3,1137.9 398.3,1139.4 399.3,1138.3 400.3,1140.3 401.3,1141.3 402.3,1141.2 403.3,1140 404.3,1143.1 405.3,1141.5 406.3,1143.4 407.3,1140.6 408.3,1141.8 409.3,1139.2 410.3,1141.4 411.3,1142.1 412.3,1140.1 413.3,1142.1 414.3,1139.7 415.3,1141.4 416.3,1142.2 417.3,1141.7 418.3,1140.1 419.3,1140.4 420.3,1141.4 421.3,1142.8 422.3,1141.7 423.3,1140.6 424.3,1141.3 425.3,1141.2 426.3,1140.4 427.3,1142.7 428.3,1142.1 429.3,1141.4 430.3,1139.8 431.3,1144.4 432.3,1140.1 433.3,1140.5 434.3,1141.4 435.3,1143.9 436.3,1144.7 437.3,1143.8 438.3,1141.1 439.3,1144.3 440.3,1140.3 441.3,1140.7 442.3,1140.8 443.3,1143 444.3,1143.2 445.3,1143.4 446.3,1145.1 447.3,1144.1 448.3,1144.1 449.3,1141.3 450.3,1145 451.3,1145.1 452.3,1144.7 453.3,1140.9 454.3,1144.1 455.3,1143.2 456.3,1143.3 457.3,1142 458.3,1144.6 459.3,1144.8 460.3,1144.6 461.3,1142.3 462.3,1144.5 463.3,1141.3 464.3,1144.3 465.3,1141.1 466.3,1141 467.3,1141.5 468.3,1144.3 469.3,1146 470.3,1143.4 471.3,1144.3 472.3,1144.1 473.3,1145.4 474.3,1146 475.3,1145.3 476.3,1142.9 477.3,1141.7 478.3,1145.8 479.3,1142.7 480.3,1145.2 481.3,1145.7 482.3,1142.3 483.3,1142.4 484.3,1143.6 485.3,1145.8 486.3,1145.8 487.3,1146.6 488.3,1143 489.3,1144.8 490.3,1146.1 491.3,1143.6 492.3,1144.7 493.3,1142.9 494.3,1146.1 495.3,1144.1 496.3,1144.3 497.3,1145.2 498.3,1143.5 499.3,1146 500.3,1144.3 501.3,1144.2 502.3,1145.7 503.3,1145.4 504.3,1145.7 505.3,1146.5 506.3,1146.2 507.3,1144.3 508.3,1145.5 509.3,1146.6 510.3,1142.6 511.3,1145.6 512.3,1145 513.3,1144.4 514.3,1143 515.3,1143.9 516,1146.2 516,1159.6 515.3,1159.6 514.3,1159.6 513.3,1159.6 512.3,1159.6 511.3,1159.6 510.3,1159.6 509.3,1159.6 508.3,1159.6 507.3,1159.6 506.3,1159.6 505.3,1159.6 504.3,1159.6 503.3,1159.6 502.3,1159.6 501.3,1159.6 500.3,1159.6 499.3,1159.6 498.3,1159.6 497.3,1159.6 496.3,1159.6 495.3,1159.6 494.3,1159.6 493.3,1159.6 492.3,1159.6 491.3,1159.6 490.3,1159.6 489.3,1159.6 488.3,1159.6 487.3,1159.6 486.3,1159.6 485.3,1159.6 484.3,1159.6 483.3,1159.6 482.3,1159.6 481.3,1159.6 480.3,1159.6 479.3,1159.6 478.3,1159.6 477.3,1159.6 476.3,1159.6 475.3,1159.6 474.3,1159.6 473.3,1159.6 472.3,1159.6 471.3,1159.6 470.3,1159.6 469.3,1159.6 468.3,1159.6 467.3,1159.6 466.3,1159.6 465.3,1159.6 464.3,1159.6 463.3,1159.6 462.3,1159.6 461.3,1159.6 460.3,1159.6 459.3,1159.6 458.3,1159.6 457.3,1159.6 456.3,1159.6 455.3,1159.6 454.3,1159.6 453.3,1159.6 452.3,1159.6 451.3,1159.6 450.3,1159.6 449.3,1159.6 448.3,1159.6 447.3,1159.6 446.3,1159.6 445.3,1159.6 444.3,1159.6 443.3,1159.6 442.3,1159.6 441.3,1159.6 440.3,1159.6 439.3,1159.6 438.3,1159.6 437.3,1159.6 436.3,1159.6 435.3,1159.6 434.3,1159.6 433.3,1159.6 432.3,1159.6 431.3,1159.6 430.3,1159.6 429.3,1159.6 428.3,1159.6 427.3,1159.6 426.3,1159.6 425.3,1159.6 424.3,1159.6 423.3,1159.6 422.3,1159.6 421.3,1159.6 420.3,1159.6 419.3,1159.6 418.3,1159.6 417.3,1159.6 416.3,1159.6 415.3,1159.6 414.3,1159.6 413.3,1159.6 412.3,1159.6 411.3,1159.6 410.3,1159.6 409.3,1159.6 408.3,1159.6 407.3,1159.6 406.3,1159.6 405.3,1159.6 404.3,1159.6 403.3,1159.6 402.3,1159.6 401.3,1159.6 400.3,1159.6 399.3,1159.6 398.3,1159.6 397.3,1159.6 396.3,1159.6 395.3,1159.6 394.3,1159.6" fill="#fde725" fill-opacity="0.3"/><polygon points="394.3,1143.6 395.3,1144.2 396.3,1143.1 397.3,1143.8 398.3,1143.6 399.3,1140.4 400.3,1143.1 401.3,1144.1 402.3,1143.5 403.3,1141.2 404.3,1143.4 405.3,1142 406.3,1142.3 407.3,1143.8 408.3,1143.6 409.3,1141 410.3,1143.6 411.3,1140.8 412.3,1141.6 413.3,1144.8 414.3,1145.3 415.3,1142.1 416.3,1144.7 417.3,1141.9 418.3,1143.5 419.3,1142.9 420.3,1141.6 421.3,1143.4 422.3,1144 423.3,1145.5 424.3,1141.8 425.3,1142.8 426.3,1141.4 427.3,1142.4 428.3,1142.8 429.3,1145.6 430.3,1146.2 431.3,1142.6 432.3,1144 433.3,1144.2 434.3,1144.1 435.3,1146.4 436.3,1146.4 437.3,1141.9 438.3,1143.8 439.3,1144.4 440.3,1145.1 441.3,1144.5 442.3,1146 443.3,1142.4 444.3,1144.2 445.3,1146.1 446.3,1142.8 447.3,1142.9 448.3,1145.1 449.3,1142.8 450.3,1144.8 451.3,1142.8 452.3,1143.1 453.3,1143.9 454.3,1146.2 455.3,1145.3 456.3,1145.3 457.3,1145.5 458.3,1144.3 459.3,1147.3 460.3,1145.4 461.3,1145.6 462.3,1142.8 463.3,1143.8 464.3,1145.5 465.3,1147.4 466.3,1146.1 467.3,1142.9 468.3,1146.7 469.3,1143.8 470.3,1145.7 471.3,1143.7 472.3,1143.1 473.3,1146.7 474.3,1145.3 475.3,1145.9 476.3,1146.4 477.3,1145.9 478.3,1145.1 479.3,1144.6 480.3,1145.7 481.3,1144.3 482.3,1144.4 483.3,1147.2 484.3,1144.9 485.3,1146.8 486.3,1146.6 487.3,1145.6 488.3,1147.2 489.3,1145 490.3,1143.4 491.3,1147.6 492.3,1147.2 493.3,1147.1 494.3,1148.1 495.3,1145.6 496.3,1145.7 497.3,1146.6 498.3,1148 499.3,1145.1 500.3,1147.5 501.3,1148.5 502.3,1145 503.3,1143.9 504.3,1144.6 505.3,1147.1 506.3,1144.9 507.3,1148.6 508.3,1144.4 509.3,1148.4 510.3,1145.8 511.3,1148.6 512.3,1145.7 513.3,1144.6 514.3,1147.5 515.3,1145.6 516,1148.9 516,1159.6 515.3,1159.6 514.3,1159.6 513.3,1159.6 512.3,1159.6 511.3,1159.6 510.3,1159.6 509.3,1159.6 508.3,1159.6 507.3,1159.6 506.3,1159.6 505.3,1159.6 504.3,1159.6 503.3,1159.6 502.3,1159.6 501.3,1159.6 500.3,1159.6 499.3,1159.6 498.3,1159.6 497.3,1159.6 496.3,1159.6 495.3,1159.6 494.3,1159.6 493.3,1159.6 492.3,1159.6 491.3,1159.6 490.3,1159.6 489.3,1159.6 488.3,1159.6 487.3,1159.6 486.3,1159.6 485.3,1159.6 484.3,1159.6 483.3,1159.6 482.3,1159.6 481.3,1159.6 480.3,1159.6 479.3,1159.6 478.3,1159.6 477.3,1159.6 476.3,1159.6 475.3,1159.6 474.3,1159.6 473.3,1159.6 472.3,1159.6 471.3,1159.6 470.3,1159.6 469.3,1159.6 468.3,1159.6 467.3,1159.6 466.3,1159.6 465.3,1159.6 464.3,1159.6 463.3,1159.6 462.3,1159.6 461.3,1159.6 460.3,1159.6 459.3,1159.6 458.3,1159.6 457.3,1159.6 456.3,1159.6 455.3,1159.6 454.3,1159.6 453.3,1159.6 452.3,1159.6 451.3,1159.6 450.3,1159.6 449.3,1159.6 448.3,1159.6 447.3,1159.6 446.3,1159.6 445.3,1159.6 444.3,1159.6 443.3,1159.6 442.3,1159.6 441.3,1159.6 440.3,1159.6 439.3,1159.6 438.3,1159.6 437.3,1159.6 436.3,1159.6 435.3,1159.6 434.3,1159.6 433.3,1159.6 432.3,1159.6 431.3,1159.6 430.3,1159.6 429.3,1159.6 428.3,1159.6 427.3,1159.6 426.3,1159.6 425.3,1159.6 424.3,1159.6 423.3,1159.6 422.3,1159.6 421.3,1159.6 420.3,1159.6 419.3,1159.6 418.3,1159.6 417.3,1159.6 416.3,1159.6 415.3,1159.6 414.3,1159.6 413.3,1159.6 412.3,1159.6 411.3,1159.6 410.3,1159.6 409.3,1159.6 408.3,1159.6 407.3,1159.6 406.3,1159.6 405.3,1159.6 404.3,1159.6 403.3,1159.6 402.3,1159.6 401.3,1159.6 400.3,1159.6 399.3,1159.6 398.3,1159.6 397.3,1159.6 396.3,1159.6 395.3,1159.6 394.3,1159.6" fill="#fde725" fill-opacity="0.3"/><polygon points="394.3,1144.9 395.3,1142.2 396.3,1143.4 397.3,1143.8 398.3,1145 399.3,1142.5 400.3,1144.1 401.3,1144 402.3,1144.4 403.3,1144.3 404.3,1143.8 405.3,1143.6 406.3,1143.7 407.3,1146.8 408.3,1144.5 409.3,1142.5 410.3,1144 411.3,1146 412.3,1145.6 413.3,1142.7 414.3,1144.5 415.3,1144.7 416.3,1146.8 417.3,1144 418.3,1147.3 419.3,1146.8 420.3,1142.9 421.3,1145.4 422.3,1145.6 423.3,1146.1 424.3,1147.4 425.3,1144 426.3,1147.2 427.3,1143.1 428.3,1147.3 429.3,1144.4 430.3,1143.3 431.3,1147.3 432.3,1148.1 433.3,1146.5 434.3,1147.2 435.3,1145.3 436.3,1144.6 437.3,1146.7 438.3,1147.4 439.3,1144.8 440.3,1145.3 441.3,1144.9 442.3,1144.9 443.3,1147.9 444.3,1143.6 445.3,1143.7 446.3,1144.6 447.3,1147.6 448.3,1146.6 449.3,1147.5 450.3,1147.3 451.3,1148.3 452.3,1146.8 453.3,1144 454.3,1144.4 455.3,1146 456.3,1144.6 457.3,1145.5 458.3,1145.4 459.3,1149 460.3,1148.9 461.3,1147.5 462.3,1146.3 463.3,1146.3 464.3,1144.6 465.3,1146.5 466.3,1145 467.3,1147 468.3,1148.4 469.3,1146.4 470.3,1147.9 471.3,1148.5 472.3,1149 473.3,1146.6 474.3,1145.7 475.3,1149 476.3,1147.1 477.3,1146 478.3,1148.1 479.3,1149 480.3,1149.6 481.3,1146.6 482.3,1146.1 483.3,1146.1 484.3,1146.3 485.3,1146 486.3,1149.5 487.3,1148.1 488.3,1145.2 489.3,1145.5 490.3,1146 491.3,1149.9 492.3,1146.8 493.3,1149.2 494.3,1146.3 495.3,1146.2 496.3,1149.9 497.3,1145.6 498.3,1147.8 499.3,1148 500.3,1147 501.3,1149.2 502.3,1149.7 503.3,1146.6 504.3,1147 505.3,1147.9 506.3,1147.9 507.3,1148.7 508.3,1149.5 509.3,1147.3 510.3,1150.4 511.3,1148 512.3,1145.9 513.3,1147.9 514.3,1148.4 515.3,1146.7 516,1150.2 516,1159.6 515.3,1159.6 514.3,1159.6 513.3,1159.6 512.3,1159.6 511.3,1159.6 510.3,1159.6 509.3,1159.6 508.3,1159.6 507.3,1159.6 506.3,1159.6 505.3,1159.6 504.3,1159.6 503.3,1159.6 502.3,1159.6 501.3,1159.6 500.3,1159.6 499.3,1159.6 498.3,1159.6 497.3,1159.6 496.3,1159.6 495.3,1159.6 494.3,1159.6 493.3,1159.6 492.3,1159.6 491.3,1159.6 490.3,1159.6 489.3,1159.6 488.3,1159.6 487.3,1159.6 486.3,1159.6 485.3,1159.6 484.3,1159.6 483.3,1159.6 482.3,1159.6 481.3,1159.6 480.3,1159.6 479.3,1159.6 478.3,1159.6 477.3,1159.6 476.3,1159.6 475.3,1159.6 474.3,1159.6 473.3,1159.6 472.3,1159.6 471.3,1159.6 470.3,1159.6 469.3,1159.6 468.3,1159.6 467.3,1159.6 466.3,1159.6 465.3,1159.6 464.3,1159.6 463.3,1159.6 462.3,1159.6 461.3,1159.6 460.3,1159.6 459.3,1159.6 458.3,1159.6 457.3,1159.6 456.3,1159.6 455.3,1159.6 454.3,1159.6 453.3,1159.6 452.3,1159.6 451.3,1159.6 450.3,1159.6 449.3,1159.6 448.3,1159.6 447.3,1159.6 446.3,1159.6 445.3,1159.6 444.3,1159.6 443.3,1159.6 442.3,1159.6 441.3,1159.6 440.3,1159.6 439.3,1159.6 438.3,1159.6 437.3,1159.6 436.3,1159.6 435.3,1159.6 434.3,1159.6 433.3,1159.6 432.3,1159.6 431.3,1159.6 430.3,1159.6 429.3,1159.6 428.3,1159.6 427.3,1159.6 426.3,1159.6 425.3,1159.6 424.3,1159.6 423.3,1159.6 422.3,1159.6 421.3,1159.6 420.3,1159.6 419.3,1159.6 418.3,1159.6 417.3,1159.6 416.3,1159.6 415.3,1159.6 414.3,1159.6 413.3,1159.6 412.3,1159.6 411.3,1159.6 410.3,1159.6 409.3,1159.6 408.3,1159.6 407.3,1159.6 406.3,1159.6 405.3,1159.6 404.3,1159.6 403.3,1159.6 402.3,1159.6 401.3,1159.6 400.3,1159.6 399.3,1159.6 398.3,1159.6 397.3,1159.6 396.3,1159.6 395.3,1159.6 394.3,1159.6" fill="#fde725" fill-opacity="0.3"/><polygon points="394.3,1145.3 395.3,1145.1 396.3,1144.5 397.3,1144.1 398.3,1144.6 399.3,1145.8 400.3,1146 401.3,1146.1 402.3,1144.2 403.3,1146.5 404.3,1146.4 405.3,1146.4 406.3,1146 407.3,1147.1 408.3,1147.5 409.3,1146.4 410.3,1146 411.3,1146.4 412.3,1147.3 413.3,1147 414.3,1147.4 415.3,1146.1 416.3,1147 417.3,1146 418.3,1147.1 419.3,1145.5 420.3,1147.1 421.3,1147.7 422.3,1148.3 423.3,1147.1 424.3,1148.3 425.3,1146.3 426.3,1145.7 427.3,1147.4 428.3,1146.8 429.3,1147 430.3,1147.6 431.3,1148.1 432.3,1148.5 433.3,1146.9 434.3,1147.7 435.3,1147.9 436.3,1148.1 437.3,1147.8 438.3,1147.5 439.3,1148.5 440.3,1146.2 441.3,1148.5 442.3,1146.7 443.3,1146.8 444.3,1148.3 445.3,1147.7 446.3,1147.3 447.3,1146.6 448.3,1146.5 449.3,1147.2 450.3,1146.7 451.3,1148.6 452.3,1147.1 453.3,1147.7 454.3,1147.8 455.3,1148.7 456.3,1149.1 457.3,1148.6 458.3,1147.3 459.3,1147.1 460.3,1148.4 461.3,1147.9 462.3,1149 463.3,1147.5 464.3,1149 465.3,1148 466.3,1147.8 467.3,1147.5 468.3,1149.3 469.3,1148.6 470.3,1148.7 471.3,1149.6 472.3,1147.2 473.3,1148.8 474.3,1148.2 475.3,1148 476.3,1149.7 477.3,1148 478.3,1148.6 479.3,1148.7 480.3,1147.8 481.3,1148.3 482.3,1147.5 483.3,1149 484.3,1149.4 485.3,1150.5 486.3,1150.4 487.3,1148.6 488.3,1150.5 489.3,1148 490.3,1148.1 491.3,1149.3 492.3,1149.8 493.3,1149.6 494.3,1147.9 495.3,1149.1 496.3,1149.4 497.3,1149.1 498.3,1150.2 499.3,1150.2 500.3,1148.3 501.3,1149.4 502.3,1150.2 503.3,1150.5 504.3,1150.1 505.3,1151.1 506.3,1150.4 507.3,1149.4 508.3,1150.8 509.3,1150.1 510.3,1150.1 511.3,1150.1 512.3,1150.6 513.3,1150.5 514.3,1149.8 515.3,1150.8 516,1149.8 516,1159.6 515.3,1159.6 514.3,1159.6 513.3,1159.6 512.3,1159.6 511.3,1159.6 510.3,1159.6 509.3,1159.6 508.3,1159.6 507.3,1159.6 506.3,1159.6 505.3,1159.6 504.3,1159.6 503.3,1159.6 502.3,1159.6 501.3,1159.6 500.3,1159.6 499.3,1159.6 498.3,1159.6 497.3,1159.6 496.3,1159.6 495.3,1159.6 494.3,1159.6 493.3,1159.6 492.3,1159.6 491.3,1159.6 490.3,1159.6 489.3,1159.6 488.3,1159.6 487.3,1159.6 486.3,1159.6 485.3,1159.6 484.3,1159.6 483.3,1159.6 482.3,1159.6 481.3,1159.6 480.3,1159.6 479.3,1159.6 478.3,1159.6 477.3,1159.6 476.3,1159.6 475.3,1159.6 474.3,1159.6 473.3,1159.6 472.3,1159.6 471.3,1159.6 470.3,1159.6 469.3,1159.6 468.3,1159.6 467.3,1159.6 466.3,1159.6 465.3,1159.6 464.3,1159.6 463.3,1159.6 462.3,1159.6 461.3,1159.6 460.3,1159.6 459.3,1159.6 458.3,1159.6 457.3,1159.6 456.3,1159.6 455.3,1159.6 454.3,1159.6 453.3,1159.6 452.3,1159.6 451.3,1159.6 450.3,1159.6 449.3,1159.6 448.3,1159.6 447.3,1159.6 446.3,1159.6 445.3,1159.6 444.3,1159.6 443.3,1159.6 442.3,1159.6 441.3,1159.6 440.3,1159.6 439.3,1159.6 438.3,1159.6 437.3,1159.6 436.3,1159.6 435.3,1159.6 434.3,1159.6 433.3,1159.6 432.3,1159.6 431.3,1159.6 430.3,1159.6 429.3,1159.6 428.3,1159.6 427.3,1159.6 426.3,1159.6 425.3,1159.6 424.3,1159.6 423.3,1159.6 422.3,1159.6 421.3,1159.6 420.3,1159.6 419.3,1159.6 418.3,1159.6 417.3,1159.6 416.3,1159.6 415.3,1159.6 414.3,1159.6 413.3,1159.6 412.3,1159.6 411.3,1159.6 410.3,1159.6 409.3,1159.6 408.3,1159.6 407.3,1159.6 406.3,1159.6 405.3,1159.6 404.3,1159.6 403.3,1159.6 402.3,1159.6 401.3,1159.6 400.3,1159.6 399.3,1159.6 398.3,1159.6 397.3,1159.6 396.3,1159.6 395.3,1159.6 394.3,1159.6" fill="#f4de22"/><polygon points="400,1144.7 401,1145.3 402,1144.1 403,1143 404,1145.3 405,1143.3 406,1143.3 407,1142.8 408,1144 409,1143.9 410,1145.2 411,1143.3 412,1143.9 413,1145.1 414,1142.9 415,1144.1 416,1143.4 417,1145.3 418,1143.9 419,1143.4 420,1143.4 421,1143.7 422,1145.2 423,1143.4 424,1143.2 425,1143.9 426,1143.3 427,1145.4 428,1145.5 429,1144.8 430,1144.3 431,1143.4 432,1145.5 433,1144.1 434,1145 435,1146.4 436,1144.2 437,1145.5 438,1144.8 439,1145.1 440,1144.7 441,1145.7 442,1145.1 443,1143.7 444,1146.1 445,1144.4 446,1144.7 447,1145.2 448,1145.5 449,1146 450,1144.1 451,1145 452,1145.7 453,1145.3 454,1144.6 455,1146.3 456,1146.8 457,1145.9 458,1145.6 459,1144.5 460,1145.5 461,1146.4 462,1145.1 463,1145.4 464,1145.5 465,1145.1 466,1146.1 467,1145.1 468,1147 469,1146.8 470,1145.2 471,1144.5 472,1144.4 473,1146.8 474,1145.7 475,1144.8 476,1144.6 477,1146.8 478,1145.1 479,1147.3 480,1145.6 481,1146.5 482,1145.7 483,1146.6 484,1145.1 485,1145.5 486,1145.1 487,1144.9 488,1146.5 489,1147.8 490,1144.8 491,1147.5 492,1145.7 493,1145.4 494,1145 495,1146 496,1145.2 497,1146.5 498,1146.4 499,1145.6 500,1147.7 501,1146.9 502,1147.4 503,1145.9 504,1147.4 505,1147.3 506,1147.6 507,1145.8 508,1148.1 509,1146.7 510,1145.6 511,1148.1 512,1146.3 513,1148.1 514,1146.1 515,1145.7 516,1147 516,1151 515,1151 514,1151 513,1150.9 512,1150.9 511,1150.9 510,1150.9 509,1150.9 508,1150.9 507,1150.8 506,1150.8 505,1150.8 504,1150.8 503,1150.8 502,1150.8 501,1150.7 500,1150.7 499,1150.7 498,1150.7 497,1150.7 496,1150.7 495,1150.6 494,1150.6 493,1150.6 492,1150.6 491,1150.6 490,1150.6 489,1150.5 488,1150.5 487,1150.5 486,1150.5 485,1150.5 484,1150.4 483,1150.4 482,1150.4 481,1150.4 480,1150.4 479,1150.4 478,1150.3 477,1150.3 476,1150.3 475,1150.3 474,1150.3 473,1150.3 472,1150.2 471,1150.2 470,1150.2 469,1150.2 468,1150.2 467,1150.2 466,1150.1 465,1150.1 464,1150.1 463,1150.1 462,1150.1 461,1150.1 460,1150 459,1150 458,1150 457,1150 456,1150 455,1149.9 454,1149.9 453,1149.9 452,1149.9 451,1149.9 450,1149.9 449,1149.8 448,1149.8 447,1149.8 446,1149.8 445,1149.8 444,1149.8 443,1149.7 442,1149.7 441,1149.7 440,1149.7 439,1149.7 438,1149.7 437,1149.6 436,1149.6 435,1149.6 434,1149.6 433,1149.6 432,1149.6 431,1149.5 430,1149.5 429,1149.5 428,1149.5 427,1149.5 426,1149.4 425,1149.4 424,1149.4 423,1149.4 422,1149.4 421,1149.4 420,1149.3 419,1149.3 418,1149.3 417,1149.3 416,1149.3 415,1149.3 414,1149.2 413,1149.2 412,1149.2 411,1149.2 410,1149.2 409,1149.2 408,1149.1 407,1149.1 406,1149.1 405,1149.1 404,1149.1 403,1149.1 402,1149 401,1149 400,1149" fill="#6a4a40" fill-opacity="0.3"/><polygon points="393.5,1150 394.5,1137.5 395.5,1150" fill="#440154" fill-opacity="0.9"/><polygon points="458.2,1150 459.5,1096 460.8,1150" fill="#440154"/><polygon points="406.4,1148 407,1142.7 407.6,1148" fill="#440154" fill-opacity="0.55"/><polygon points="412.4,1148 413,1143.4 413.6,1148" fill="#440154" fill-opacity="0.55"/><polygon points="419.4,1148 420,1143.2 420.6,1148" fill="#440154" fill-opacity="0.55"/><polygon points="423.4,1148 424,1141.8 424.6,1148" fill="#440154" fill-opacity="0.55"/><polygon points="431.4,1148 432,1143.8 432.6,1148" fill="#440154" fill-opacity="0.55"/><polygon points="442.4,1148 443,1142.6 443.6,1148" fill="#440154" fill-opacity="0.55"/><polygon points="446.4,1148 447,1140.7 447.6,1148" fill="#440154" fill-opacity="0.55"/><polygon points="451.4,1148 452,1142.9 452.6,1148" fill="#440154" fill-opacity="0.55"/><polygon points="468.4,1148 469,1141.8 469.6,1148" fill="#440154" fill-opacity="0.55"/><polygon points="475.4,1148 476,1142.7 476.6,1148" fill="#440154" fill-opacity="0.55"/><polygon points="482.4,1148 483,1140.8 483.6,1148" fill="#440154" fill-opacity="0.55"/><polygon points="491.4,1148 492,1141.3 492.6,1148" fill="#440154" fill-opacity="0.55"/><polygon points="499.4,1148 500,1141.3 500.6,1148" fill="#440154" fill-opacity="0.55"/><polygon points="504.4,1148 505,1143.3 505.6,1148" fill="#440154" fill-opacity="0.55"/><polygon points="394,1155.5 395,1156.3 396,1156.3 397,1157.3 398,1155.8 399,1156.5 400,1157.1 401,1156.3 402,1157.4 403,1156 404,1156.5 405,1156.2 406,1156.1 407,1155.7 408,1157.1 409,1156.9 410,1157.2 411,1156.5 412,1155.9 413,1156.9 414,1157.5 415,1156.7 416,1156.1 417,1156.6 418,1157.3 419,1157.2 420,1156.9 421,1157.1 422,1155.7 423,1155.9 424,1155.6 425,1156.5 426,1156.6 427,1155.7 428,1157.3 429,1156.7 430,1157.1 431,1157.6 432,1157.2 433,1157.2 434,1156.9 435,1156.7 436,1157.2 437,1157.2 438,1156.3 439,1157.3 440,1156 441,1156.8 442,1157.5 443,1156.1 444,1157.5 445,1156.7 446,1157.2 447,1156 448,1155.8 449,1156.2 450,1156.9 451,1157.5 452,1156.9 453,1156.8 454,1156.5 455,1156.8 456,1157.2 457,1157.5 458,1156.5 459,1157.1 460,1156.5 461,1156.3 462,1155.9 463,1156.6 464,1157 465,1156.8 466,1156.7 467,1157.3 468,1156.7 469,1157.2 470,1156.9 471,1157.7 472,1156.5 473,1156.7 474,1157.4 475,1156.4 476,1157.4 477,1156.5 478,1156.2 479,1156.9 480,1157 481,1156.5 482,1156.4 483,1157.9 484,1156.9 485,1157.3 486,1156.7 487,1157 488,1156.5 489,1156.2 490,1157.6 491,1157.3 492,1156.5 493,1156.7 494,1157 495,1156 496,1157.1 497,1157.9 498,1157.3 499,1156.9 500,1156.2 501,1157 502,1157.1 503,1157.3 504,1157.7 505,1156.5 506,1156.2 507,1157.9 508,1157 509,1157.7 510,1157.2 511,1157.8 512,1157.2 513,1157.4 514,1157.3 515,1157.9 516,1157.5 516,1159.6 515,1159.6 514,1159.6 513,1159.6 512,1159.6 511,1159.6 510,1159.6 509,1159.6 508,1159.6 507,1159.6 506,1159.6 505,1159.6 504,1159.6 503,1159.6 502,1159.6 501,1159.6 500,1159.6 499,1159.6 498,1159.6 497,1159.6 496,1159.6 495,1159.6 494,1159.6 493,1159.6 492,1159.6 491,1159.6 490,1159.6 489,1159.6 488,1159.6 487,1159.6 486,1159.6 485,1159.6 484,1159.6 483,1159.6 482,1159.6 481,1159.6 480,1159.6 479,1159.6 478,1159.6 477,1159.6 476,1159.6 475,1159.6 474,1159.6 473,1159.6 472,1159.6 471,1159.6 470,1159.6 469,1159.6 468,1159.6 467,1159.6 466,1159.6 465,1159.6 464,1159.6 463,1159.6 462,1159.6 461,1159.6 460,1159.6 459,1159.6 458,1159.6 457,1159.6 456,1159.6 455,1159.6 454,1159.6 453,1159.6 452,1159.6 451,1159.6 450,1159.6 449,1159.6 448,1159.6 447,1159.6 446,1159.6 445,1159.6 444,1159.6 443,1159.6 442,1159.6 441,1159.6 440,1159.6 439,1159.6 438,1159.6 437,1159.6 436,1159.6 435,1159.6 434,1159.6 433,1159.6 432,1159.6 431,1159.6 430,1159.6 429,1159.6 428,1159.6 427,1159.6 426,1159.6 425,1159.6 424,1159.6 423,1159.6 422,1159.6 421,1159.6 420,1159.6 419,1159.6 418,1159.6 417,1159.6 416,1159.6 415,1159.6 414,1159.6 413,1159.6 412,1159.6 411,1159.6 410,1159.6 409,1159.6 408,1159.6 407,1159.6 406,1159.6 405,1159.6 404,1159.6 403,1159.6 402,1159.6 401,1159.6 400,1159.6 399,1159.6 398,1159.6 397,1159.6 396,1159.6 395,1159.6 394,1159.6" fill="#440154" fill-opacity="0.2"/><polygon points="516,1146.7 517,1145.9 518,1145.7 519,1145.7 520,1146.1 521,1146.3 522,1146.5 523,1146.3 524,1147 525,1146.3 526,1145.7 527,1146.5 528,1146.7 529,1146.2 530,1146.9 531,1146.2 532,1147.3 533,1146.7 534,1147.4 535,1147 536,1147.2 537,1146.5 538,1147.5 539,1147.7 540,1146.6 541,1147.2 542,1146.7 543,1147.7 544,1147.7 545,1147.8 546,1147.7 547,1147.2 548,1147.6 549,1146.8 550,1146.9 551,1147.6 552,1147.9 553,1147.3 554,1147 555,1147.1 556,1147.5 557,1147.6 558,1148.4 559,1148.1 560,1148.4 561,1148.3 562,1148.3 562,1159.6 561,1159.6 560,1159.6 559,1159.6 558,1159.6 557,1159.6 556,1159.6 555,1159.6 554,1159.6 553,1159.6 552,1159.6 551,1159.6 550,1159.6 549,1159.6 548,1159.6 547,1159.6 546,1159.6 545,1159.6 544,1159.6 543,1159.6 542,1159.6 541,1159.6 540,1159.6 539,1159.6 538,1159.6 537,1159.6 536,1159.6 535,1159.6 534,1159.6 533,1159.6 532,1159.6 531,1159.6 530,1159.6 529,1159.6 528,1159.6 527,1159.6 526,1159.6 525,1159.6 524,1159.6 523,1159.6 522,1159.6 521,1159.6 520,1159.6 519,1159.6 518,1159.6 517,1159.6 516,1159.6" fill="#f4de22"/><polygon points="516,1141.1 517,1139 518,1141.3 519,1140.8 520,1141.1 521,1140.7 522,1140.6 523,1142.4 524,1142.3 525,1140.1 526,1142.9 527,1141.7 528,1140 529,1143 530,1143.5 531,1141.8 532,1141.8 533,1141.3 534,1141 535,1142.5 536,1142.1 537,1143.1 538,1143.1 539,1141.3 540,1143.7 541,1142.5 542,1142.4 543,1141.6 544,1143.3 545,1143.7 546,1144.1 547,1144.3 548,1142.5 549,1143.4 550,1143.7 551,1142.9 552,1141.4 553,1144.4 554,1145.1 555,1143.5 556,1145.3 557,1141.9 558,1144.1 559,1143.4 560,1144.4 561,1143.4 562,1144.9 562,1151 561,1151 560,1151 559,1151 558,1151 557,1151 556,1151 555,1151 554,1151 553,1151 552,1151 551,1151 550,1151 549,1151 548,1151 547,1151 546,1151 545,1151 544,1151 543,1151 542,1151 541,1151 540,1151 539,1151 538,1151 537,1151 536,1151 535,1151 534,1151 533,1151 532,1151 531,1151 530,1151 529,1151 528,1151 527,1151 526,1151 525,1151 524,1151 523,1151 522,1151 521,1151 520,1151 519,1151 518,1151 517,1151 516,1151" fill="#440154" fill-opacity="0.85"/><polygon points="515.4,1150 515.8,1057 516.8,1057 517.2,1093.6 517.8,1115.8 518.2,1129.2 518.8,1137.4 519.2,1142.4 519.8,1145.4 519.8,1150" fill="#440154"/><polygon points="518.1,1146 519,1133 519.9,1146" fill="#440154" fill-opacity="0.7"/><polygon points="520.1,1146 521,1134 521.9,1146" fill="#440154" fill-opacity="0.7"/><polygon points="530.1,1146 531,1135 531.9,1146" fill="#440154" fill-opacity="0.7"/><polygon points="540.1,1146 541,1137 541.9,1146" fill="#440154" fill-opacity="0.7"/><polygon points="528.1,1146 529,1139 529.9,1146" fill="#440154" fill-opacity="0.7"/><polygon points="544.1,1146 545,1138 545.9,1146" fill="#440154" fill-opacity="0.7"/><polygon points="552.1,1146 553,1139 553.9,1146" fill="#440154" fill-opacity="0.7"/><polygon points="562,1146.6 563,1146.7 564,1147 565,1147 566,1147 567,1147.8 568,1147.3 569,1147.4 570,1146.8 571,1147.4 572,1147.8 573,1147.7 574,1148.1 575,1147.7 576,1147.4 577,1148.1 578,1148.3 579,1148.4 580,1147.2 581,1148 582,1147.3 583,1147.5 584,1148.3 585,1148.5 586,1148.1 587,1147.8 588,1148 589,1147.8 590,1147.8 591,1147.8 592,1148.9 593,1148.9 594,1147.9 595,1148.8 596,1148.7 597,1148.7 598,1148.1 599,1148.6 600,1149 601,1148.9 602,1149.2 603,1148.1 604,1148.5 605,1148.6 606,1148.7 607,1149.5 608,1149.5 609,1149.4 610,1149.2 611,1149.4 611,1159.6 610,1159.6 609,1159.6 608,1159.6 607,1159.6 606,1159.6 605,1159.6 604,1159.6 603,1159.6 602,1159.6 601,1159.6 600,1159.6 599,1159.6 598,1159.6 597,1159.6 596,1159.6 595,1159.6 594,1159.6 593,1159.6 592,1159.6 591,1159.6 590,1159.6 589,1159.6 588,1159.6 587,1159.6 586,1159.6 585,1159.6 584,1159.6 583,1159.6 582,1159.6 581,1159.6 580,1159.6 579,1159.6 578,1159.6 577,1159.6 576,1159.6 575,1159.6 574,1159.6 573,1159.6 572,1159.6 571,1159.6 570,1159.6 569,1159.6 568,1159.6 567,1159.6 566,1159.6 565,1159.6 564,1159.6 563,1159.6 562,1159.6" fill="#f4de22"/><polygon points="562,1145 563,1143.2 564,1144.5 565,1145.7 566,1143.3 567,1144.2 568,1144.1 569,1145.6 570,1144.5 571,1143.6 572,1144.4 573,1145.3 574,1145.1 575,1143.6 576,1146.1 577,1144.6 578,1143.9 579,1145.8 580,1146 581,1145.9 582,1144.4 583,1144.3 584,1146.5 585,1145.9 586,1144.5 587,1146.2 588,1144.9 589,1146.1 590,1146.9 591,1145.5 592,1146.2 593,1147.2 594,1145.9 595,1147.1 596,1145.4 597,1147.5 598,1146.1 599,1146.8 600,1148.6 601,1148 602,1146.3 603,1148.2 604,1147.1 605,1147.5 606,1146.9 607,1146.7 608,1149.2 609,1147.5 610,1147 611,1148.9 611,1152 610,1152 609,1152 608,1151.9 607,1151.9 606,1151.9 605,1151.9 604,1151.9 603,1151.8 602,1151.8 601,1151.8 600,1151.8 599,1151.8 598,1151.7 597,1151.7 596,1151.7 595,1151.7 594,1151.7 593,1151.6 592,1151.6 591,1151.6 590,1151.6 589,1151.6 588,1151.5 587,1151.5 586,1151.5 585,1151.5 584,1151.4 583,1151.4 582,1151.4 581,1151.4 580,1151.4 579,1151.3 578,1151.3 577,1151.3 576,1151.3 575,1151.3 574,1151.2 573,1151.2 572,1151.2 571,1151.2 570,1151.2 569,1151.1 568,1151.1 567,1151.1 566,1151.1 565,1151.1 564,1151 563,1151 562,1151" fill="#440154" fill-opacity="0.85"/><polygon points="561.1,1150 562.5,1102 563.9,1150" fill="#440154" fill-opacity="0.95"/><polygon points="563.2,1150 564.5,1121 565.8,1150" fill="#440154" fill-opacity="0.7"/><polygon points="566.8,1150 568,1130 569.2,1150" fill="#440154" fill-opacity="0.7"/><polygon points="581.8,1148 582.5,1134 583.2,1148" fill="#440154" fill-opacity="0.5"/><polygon points="611,1148.9 612,1149.4 613,1149 614,1148.9 615,1150.3 616,1149.6 617,1149.9 618,1149.2 619,1149.5 620,1149.1 621,1150.2 622,1149.1 623,1150.4 624,1150.5 625,1149.4 626,1149.6 627,1149.5 628,1149.3 629,1149.9 630,1150 631,1150.6 632,1150 633,1149.6 634,1150 635,1149.7 636,1149.5 637,1150 638,1150.7 639,1149.7 640,1150.9 641,1150.8 642,1151 643,1150.5 644,1150.1 645,1150.8 646,1149.9 647,1150.5 648,1150.9 649,1150.6 650,1150.9 651,1150.1 652,1151.1 653,1150.1 654,1150.4 655,1150.8 656,1151.3 657,1150.2 658,1150.4 659,1151.1 660,1150.4 661,1150.7 662,1150.4 663,1151.6 664,1151.3 665,1150.8 666,1151.6 667,1151.5 668,1150.7 668,1159.6 667,1159.6 666,1159.6 665,1159.6 664,1159.6 663,1159.6 662,1159.6 661,1159.6 660,1159.6 659,1159.6 658,1159.6 657,1159.6 656,1159.6 655,1159.6 654,1159.6 653,1159.6 652,1159.6 651,1159.6 650,1159.6 649,1159.6 648,1159.6 647,1159.6 646,1159.6 645,1159.6 644,1159.6 643,1159.6 642,1159.6 641,1159.6 640,1159.6 639,1159.6 638,1159.6 637,1159.6 636,1159.6 635,1159.6 634,1159.6 633,1159.6 632,1159.6 631,1159.6 630,1159.6 629,1159.6 628,1159.6 627,1159.6 626,1159.6 625,1159.6 624,1159.6 623,1159.6 622,1159.6 621,1159.6 620,1159.6 619,1159.6 618,1159.6 617,1159.6 616,1159.6 615,1159.6 614,1159.6 613,1159.6 612,1159.6 611,1159.6" fill="#f4de22"/><polygon points="611,1147 612,1148.6 613,1148.4 614,1147.5 615,1147 616,1147.7 617,1149.2 618,1148.7 619,1148.7 620,1148.8 621,1147.8 622,1149.3 623,1148.4 624,1149.5 625,1148.8 626,1149 627,1149.5 628,1149.8 629,1149.1 630,1149.7 631,1148.5 632,1148.3 633,1148.2 634,1148.5 635,1149.8 636,1148.5 637,1148.3 638,1148 639,1149.5 640,1150.1 641,1148.9 642,1148.3 643,1149.8 644,1150 645,1149 646,1149.2 647,1149 648,1149.4 649,1149.7 650,1150.4 651,1149 652,1150.5 653,1149.7 654,1149.4 655,1150.4 656,1149 657,1149.7 658,1150.6 659,1150.5 660,1150.6 661,1149.8 662,1150.1 663,1150.5 664,1149.2 665,1151 666,1150.7 667,1149.9 668,1150.2 668,1154 667,1154 666,1154 665,1153.9 664,1153.9 663,1153.9 662,1153.9 661,1153.9 660,1153.9 659,1153.8 658,1153.8 657,1153.8 656,1153.8 655,1153.8 654,1153.8 653,1153.7 652,1153.7 651,1153.7 650,1153.7 649,1153.7 648,1153.6 647,1153.6 646,1153.6 645,1153.6 644,1153.6 643,1153.6 642,1153.5 641,1153.5 640,1153.5 639,1153.5 638,1153.5 637,1153.5 636,1153.4 635,1153.4 634,1153.4 633,1153.4 632,1153.4 631,1153.4 630,1153.3 629,1153.3 628,1153.3 627,1153.3 626,1153.3 625,1153.2 624,1153.2 623,1153.2 622,1153.2 621,1153.2 620,1153.2 619,1153.1 618,1153.1 617,1153.1 616,1153.1 615,1153.1 614,1153.1 613,1153 612,1153 611,1153" fill="#440154" fill-opacity="0.85"/><polygon points="610.4,1152 610.8,1120 611.8,1120 612.2,1132.6 612.6,1140.2 613,1144.9 613.4,1147.7 613.8,1149.4 614.2,1150.4 614.2,1152" fill="#440154"/><polygon points="617.6,1150 618.5,1139 619.4,1150" fill="#440154" fill-opacity="0.7"/><polygon points="668,1150.9 669,1149 670,1149.6 671,1150.8 672,1149.1 673,1150.4 674,1149.6 675,1149.5 676,1149.1 677,1149.6 678,1149.8 679,1150.4 680,1150.7 681,1150.3 682,1149.4 683,1150.1 684,1150.9 685,1149.6 686,1150.5 687,1149.5 688,1149.7 689,1150.2 690,1150.8 691,1150.2 692,1149.5 693,1150.3 694,1149.2 695,1150.6 696,1150.3 697,1149.8 698,1150.4 699,1149.9 700,1150.1 701,1150.3 702,1150.8 703,1149.6 704,1151.1 705,1150.9 706,1149.6 707,1151 708,1149.7 709,1150.9 710,1149.6 711,1150.9 712,1151 713,1150.3 714,1150.6 715,1150.7 716,1150.5 717,1149.9 718,1150.8 719,1151.1 720,1150.3 721,1151 722,1150 723,1150.2 724,1150.6 725,1149.9 726,1150.9 727,1150.9 728,1149.7 729,1150.1 730,1151.1 731,1150.3 732,1149.4 733,1150.9 734,1149.7 735,1150.3 736,1151.2 737,1150.9 738,1150.8 739,1149.4 740,1149.9 741,1149.6 742,1151.3 743,1149.8 744,1149.7 745,1150.8 746,1151 747,1150.8 748,1150.5 749,1151.2 750,1150.6 751,1149.5 752,1151.1 753,1149.4 754,1151.4 755,1150.6 756,1150.7 757,1149.9 758,1151.2 759,1150.2 760,1150.6 761,1149.6 762,1150.8 763,1151.2 764,1150.7 765,1151.1 766,1150.6 767,1150.6 768,1151.2 769,1149.9 770,1150.3 771,1151.1 772,1151 773,1151.4 774,1151 775,1150.9 776,1150.8 777,1150 778,1151.1 779,1151.2 780,1150 781,1150.3 782,1150.4 783,1151 784,1149.7 785,1149.8 786,1151.4 787,1151.1 788,1150.4 789,1149.9 790,1149.6 791,1149.9 792,1151.4 793,1149.8 794,1151.3 795,1150 796,1151.3 797,1150.1 798,1151.1 799,1151.2 800,1150.7 801,1150.2 802,1150.7 803,1150.2 804,1151.6 805,1150.6 806,1150.8 807,1150.3 808,1150.6 809,1151.5 810,1151.5 811,1151.4 812,1151.6 813,1151.7 814,1149.8 815,1150.3 816,1149.9 817,1151.4 818,1150 819,1151.3 820,1150.2 821,1150.2 822,1150.4 823,1151.6 824,1150.3 825,1150.2 826,1151.4 827,1150.3 828,1151 829,1150.8 830,1151.2 831,1150.8 832,1150.3 833,1150.1 834,1151.5 835,1150.3 836,1150.4 837,1151 838,1151.8 839,1150.6 840,1150.5 841,1150.6 842,1150.8 843,1151.7 844,1151 845,1151 846,1150.5 847,1150.6 848,1150.8 849,1151.5 850,1151.7 851,1151.6 852,1150.4 853,1151.8 854,1150.5 855,1150.6 856,1150.9 857,1150.2 858,1151 859,1151.9 860,1150.2 861,1151.9 862,1150.8 863,1150.5 864,1151.1 865,1150.2 866,1150.7 866,1159.6 865,1159.6 864,1159.6 863,1159.6 862,1159.6 861,1159.6 860,1159.6 859,1159.6 858,1159.6 857,1159.6 856,1159.6 855,1159.6 854,1159.6 853,1159.6 852,1159.6 851,1159.6 850,1159.6 849,1159.6 848,1159.6 847,1159.6 846,1159.6 845,1159.6 844,1159.6 843,1159.6 842,1159.6 841,1159.6 840,1159.6 839,1159.6 838,1159.6 837,1159.6 836,1159.6 835,1159.6 834,1159.6 833,1159.6 832,1159.6 831,1159.6 830,1159.6 829,1159.6 828,1159.6 827,1159.6 826,1159.6 825,1159.6 824,1159.6 823,1159.6 822,1159.6 821,1159.6 820,1159.6 819,1159.6 818,1159.6 817,1159.6 816,1159.6 815,1159.6 814,1159.6 813,1159.6 812,1159.6 811,1159.6 810,1159.6 809,1159.6 808,1159.6 807,1159.6 806,1159.6 805,1159.6 804,1159.6 803,1159.6 802,1159.6 801,1159.6 800,1159.6 799,1159.6 798,1159.6 797,1159.6 796,1159.6 795,1159.6 794,1159.6 793,1159.6 792,1159.6 791,1159.6 790,1159.6 789,1159.6 788,1159.6 787,1159.6 786,1159.6 785,1159.6 784,1159.6 783,1159.6 782,1159.6 781,1159.6 780,1159.6 779,1159.6 778,1159.6 777,1159.6 776,1159.6 775,1159.6 774,1159.6 773,1159.6 772,1159.6 771,1159.6 770,1159.6 769,1159.6 768,1159.6 767,1159.6 766,1159.6 765,1159.6 764,1159.6 763,1159.6 762,1159.6 761,1159.6 760,1159.6 759,1159.6 758,1159.6 757,1159.6 756,1159.6 755,1159.6 754,1159.6 753,1159.6 752,1159.6 751,1159.6 750,1159.6 749,1159.6 748,1159.6 747,1159.6 746,1159.6 745,1159.6 744,1159.6 743,1159.6 742,1159.6 741,1159.6 740,1159.6 739,1159.6 738,1159.6 737,1159.6 736,1159.6 735,1159.6 734,1159.6 733,1159.6 732,1159.6 731,1159.6 730,1159.6 729,1159.6 728,1159.6 727,1159.6 726,1159.6 725,1159.6 724,1159.6 723,1159.6 722,1159.6 721,1159.6 720,1159.6 719,1159.6 718,1159.6 717,1159.6 716,1159.6 715,1159.6 714,1159.6 713,1159.6 712,1159.6 711,1159.6 710,1159.6 709,1159.6 708,1159.6 707,1159.6 706,1159.6 705,1159.6 704,1159.6 703,1159.6 702,1159.6 701,1159.6 700,1159.6 699,1159.6 698,1159.6 697,1159.6 696,1159.6 695,1159.6 694,1159.6 693,1159.6 692,1159.6 691,1159.6 690,1159.6 689,1159.6 688,1159.6 687,1159.6 686,1159.6 685,1159.6 684,1159.6 683,1159.6 682,1159.6 681,1159.6 680,1159.6 679,1159.6 678,1159.6 677,1159.6 676,1159.6 675,1159.6 674,1159.6 673,1159.6 672,1159.6 671,1159.6 670,1159.6 669,1159.6 668,1159.6" fill="#fde725" fill-opacity="0.4"/><polygon points="668,1151.5 669,1150.6 670,1151.5 671,1150.6 672,1151.5 673,1151.5 674,1151.2 675,1151 676,1150.5 677,1150.3 678,1151.1 679,1150.7 680,1151.7 681,1150.3 682,1150.2 683,1150.7 684,1151.2 685,1151.6 686,1151.4 687,1150.6 688,1150.3 689,1151.4 690,1150.3 691,1151.7 692,1151.4 693,1151.9 694,1151 695,1151.1 696,1151.4 697,1150.4 698,1151.9 699,1151.3 700,1151.5 701,1150.3 702,1150.7 703,1150.5 704,1150.8 705,1151 706,1152.1 707,1151.1 708,1151.3 709,1151 710,1151 711,1150.4 712,1151.6 713,1151.2 714,1150.6 715,1151.7 716,1150.3 717,1152 718,1151.3 719,1151.9 720,1151.3 721,1150.5 722,1151.2 723,1150.7 724,1151.4 725,1150.3 726,1151.7 727,1151.9 728,1151.4 729,1151 730,1151.7 731,1151.1 732,1152.3 733,1152.1 734,1151.2 735,1151.9 736,1150.8 737,1152.2 738,1151.7 739,1150.4 740,1151.6 741,1151.1 742,1151.7 743,1150.6 744,1151.1 745,1152.3 746,1151.5 747,1151.4 748,1151.8 749,1150.6 750,1150.7 751,1151.2 752,1151.1 753,1151.4 754,1151.5 755,1150.6 756,1151 757,1152.1 758,1152 759,1151.7 760,1150.6 761,1151.8 762,1150.7 763,1150.9 764,1151 765,1152.5 766,1151.2 767,1151.1 768,1150.7 769,1151.3 770,1152.1 771,1151.2 772,1151.4 773,1150.8 774,1150.9 775,1150.8 776,1152.2 777,1152.2 778,1151.5 779,1151.7 780,1151.3 781,1151.9 782,1151 783,1151.3 784,1152 785,1151.3 786,1152.6 787,1151.5 788,1150.6 789,1151.6 790,1152.4 791,1151 792,1151.5 793,1151.7 794,1152.4 795,1150.7 796,1152.1 797,1150.8 798,1152.1 799,1152.5 800,1151.9 801,1150.7 802,1151.2 803,1151.6 804,1152.5 805,1151.6 806,1151.2 807,1152.2 808,1152.2 809,1152.7 810,1152 811,1152.3 812,1152.5 813,1151.1 814,1150.8 815,1152.4 816,1152 817,1152.5 818,1152.4 819,1151 820,1151.3 821,1152.5 822,1151.9 823,1152.4 824,1152.6 825,1150.8 826,1151.3 827,1151 828,1151.3 829,1151.6 830,1152.6 831,1151.3 832,1151.8 833,1151.7 834,1152.7 835,1152.2 836,1151.7 837,1151 838,1151.4 839,1151.1 840,1152.9 841,1151.5 842,1151.2 843,1150.9 844,1151.2 845,1152.1 846,1151.9 847,1152.1 848,1152.3 849,1151.3 850,1152.1 851,1152.1 852,1152.9 853,1151.8 854,1151.4 855,1151.4 856,1152.4 857,1152.6 858,1151.6 859,1152.6 860,1152.8 861,1151.7 862,1151.2 863,1152.8 864,1151.5 865,1153 866,1151.8 866,1159.6 865,1159.6 864,1159.6 863,1159.6 862,1159.6 861,1159.6 860,1159.6 859,1159.6 858,1159.6 857,1159.6 856,1159.6 855,1159.6 854,1159.6 853,1159.6 852,1159.6 851,1159.6 850,1159.6 849,1159.6 848,1159.6 847,1159.6 846,1159.6 845,1159.6 844,1159.6 843,1159.6 842,1159.6 841,1159.6 840,1159.6 839,1159.6 838,1159.6 837,1159.6 836,1159.6 835,1159.6 834,1159.6 833,1159.6 832,1159.6 831,1159.6 830,1159.6 829,1159.6 828,1159.6 827,1159.6 826,1159.6 825,1159.6 824,1159.6 823,1159.6 822,1159.6 821,1159.6 820,1159.6 819,1159.6 818,1159.6 817,1159.6 816,1159.6 815,1159.6 814,1159.6 813,1159.6 812,1159.6 811,1159.6 810,1159.6 809,1159.6 808,1159.6 807,1159.6 806,1159.6 805,1159.6 804,1159.6 803,1159.6 802,1159.6 801,1159.6 800,1159.6 799,1159.6 798,1159.6 797,1159.6 796,1159.6 795,1159.6 794,1159.6 793,1159.6 792,1159.6 791,1159.6 790,1159.6 789,1159.6 788,1159.6 787,1159.6 786,1159.6 785,1159.6 784,1159.6 783,1159.6 782,1159.6 781,1159.6 780,1159.6 779,1159.6 778,1159.6 777,1159.6 776,1159.6 775,1159.6 774,1159.6 773,1159.6 772,1159.6 771,1159.6 770,1159.6 769,1159.6 768,1159.6 767,1159.6 766,1159.6 765,1159.6 764,1159.6 763,1159.6 762,1159.6 761,1159.6 760,1159.6 759,1159.6 758,1159.6 757,1159.6 756,1159.6 755,1159.6 754,1159.6 753,1159.6 752,1159.6 751,1159.6 750,1159.6 749,1159.6 748,1159.6 747,1159.6 746,1159.6 745,1159.6 744,1159.6 743,1159.6 742,1159.6 741,1159.6 740,1159.6 739,1159.6 738,1159.6 737,1159.6 736,1159.6 735,1159.6 734,1159.6 733,1159.6 732,1159.6 731,1159.6 730,1159.6 729,1159.6 728,1159.6 727,1159.6 726,1159.6 725,1159.6 724,1159.6 723,1159.6 722,1159.6 721,1159.6 720,1159.6 719,1159.6 718,1159.6 717,1159.6 716,1159.6 715,1159.6 714,1159.6 713,1159.6 712,1159.6 711,1159.6 710,1159.6 709,1159.6 708,1159.6 707,1159.6 706,1159.6 705,1159.6 704,1159.6 703,1159.6 702,1159.6 701,1159.6 700,1159.6 699,1159.6 698,1159.6 697,1159.6 696,1159.6 695,1159.6 694,1159.6 693,1159.6 692,1159.6 691,1159.6 690,1159.6 689,1159.6 688,1159.6 687,1159.6 686,1159.6 685,1159.6 684,1159.6 683,1159.6 682,1159.6 681,1159.6 680,1159.6 679,1159.6 678,1159.6 677,1159.6 676,1159.6 675,1159.6 674,1159.6 673,1159.6 672,1159.6 671,1159.6 670,1159.6 669,1159.6 668,1159.6" fill="#fde725" fill-opacity="0.4"/><polygon points="668,1152 669,1151.9 670,1151.5 671,1151.8 672,1151.5 673,1152 674,1151.6 675,1152.2 676,1152.1 677,1152.6 678,1152.4 679,1152.2 680,1152.4 681,1151.9 682,1152.4 683,1152.2 684,1152.5 685,1152.5 686,1152.3 687,1152.6 688,1151.5 689,1152.6 690,1152.1 691,1152.1 692,1151.8 693,1151.9 694,1152.2 695,1152 696,1151.6 697,1152 698,1151.7 699,1152.7 700,1151.7 701,1152.4 702,1152.5 703,1152.8 704,1152.5 705,1152.5 706,1152.3 707,1152.7 708,1152.6 709,1152.2 710,1152.8 711,1152.3 712,1152.1 713,1152 714,1152.4 715,1152.3 716,1152 717,1152.2 718,1152.2 719,1152.7 720,1151.8 721,1151.8 722,1152.3 723,1152.3 724,1151.7 725,1152.2 726,1151.8 727,1151.9 728,1152.6 729,1151.7 730,1152 731,1152.3 732,1152.7 733,1152.7 734,1152.4 735,1152.4 736,1152.7 737,1152.4 738,1152.7 739,1152.3 740,1151.9 741,1152.9 742,1152 743,1152.5 744,1152.6 745,1152.4 746,1152.2 747,1151.9 748,1152.3 749,1151.9 750,1152.5 751,1152.4 752,1151.9 753,1152.3 754,1152.4 755,1152.2 756,1153 757,1152.2 758,1151.9 759,1151.9 760,1151.9 761,1152.4 762,1151.9 763,1152.4 764,1153 765,1152.2 766,1152.7 767,1152.5 768,1152.1 769,1152.4 770,1151.9 771,1152.4 772,1152 773,1152.1 774,1152.5 775,1152.4 776,1152.2 777,1152.1 778,1152.3 779,1153.1 780,1153.1 781,1152.3 782,1152 783,1152.6 784,1153 785,1152.3 786,1153.2 787,1152.5 788,1152.3 789,1152.1 790,1152.4 791,1152.7 792,1152.4 793,1152.5 794,1152.9 795,1152.6 796,1152.1 797,1152.2 798,1153.1 799,1152.3 800,1152.5 801,1152.9 802,1153.2 803,1152.7 804,1153 805,1152.8 806,1153.1 807,1152.7 808,1152.4 809,1152.8 810,1152.9 811,1152.3 812,1152.8 813,1152.7 814,1152.6 815,1152.7 816,1152.6 817,1152.6 818,1153.3 819,1152.5 820,1152.7 821,1152.2 822,1152.5 823,1153.2 824,1152.8 825,1153 826,1153.3 827,1153 828,1153.3 829,1153.2 830,1152.5 831,1153 832,1152.3 833,1153 834,1153.3 835,1153.1 836,1153.3 837,1152.9 838,1153.2 839,1152.5 840,1152.6 841,1152.4 842,1152.4 843,1153.2 844,1152.4 845,1153.2 846,1152.6 847,1153.3 848,1153.5 849,1152.4 850,1153 851,1153.1 852,1152.9 853,1152.4 854,1152.9 855,1153.2 856,1153 857,1152.5 858,1153 859,1152.4 860,1152.6 861,1152.8 862,1153 863,1152.8 864,1152.7 865,1153.5 866,1152.5 866,1159.6 865,1159.6 864,1159.6 863,1159.6 862,1159.6 861,1159.6 860,1159.6 859,1159.6 858,1159.6 857,1159.6 856,1159.6 855,1159.6 854,1159.6 853,1159.6 852,1159.6 851,1159.6 850,1159.6 849,1159.6 848,1159.6 847,1159.6 846,1159.6 845,1159.6 844,1159.6 843,1159.6 842,1159.6 841,1159.6 840,1159.6 839,1159.6 838,1159.6 837,1159.6 836,1159.6 835,1159.6 834,1159.6 833,1159.6 832,1159.6 831,1159.6 830,1159.6 829,1159.6 828,1159.6 827,1159.6 826,1159.6 825,1159.6 824,1159.6 823,1159.6 822,1159.6 821,1159.6 820,1159.6 819,1159.6 818,1159.6 817,1159.6 816,1159.6 815,1159.6 814,1159.6 813,1159.6 812,1159.6 811,1159.6 810,1159.6 809,1159.6 808,1159.6 807,1159.6 806,1159.6 805,1159.6 804,1159.6 803,1159.6 802,1159.6 801,1159.6 800,1159.6 799,1159.6 798,1159.6 797,1159.6 796,1159.6 795,1159.6 794,1159.6 793,1159.6 792,1159.6 791,1159.6 790,1159.6 789,1159.6 788,1159.6 787,1159.6 786,1159.6 785,1159.6 784,1159.6 783,1159.6 782,1159.6 781,1159.6 780,1159.6 779,1159.6 778,1159.6 777,1159.6 776,1159.6 775,1159.6 774,1159.6 773,1159.6 772,1159.6 771,1159.6 770,1159.6 769,1159.6 768,1159.6 767,1159.6 766,1159.6 765,1159.6 764,1159.6 763,1159.6 762,1159.6 761,1159.6 760,1159.6 759,1159.6 758,1159.6 757,1159.6 756,1159.6 755,1159.6 754,1159.6 753,1159.6 752,1159.6 751,1159.6 750,1159.6 749,1159.6 748,1159.6 747,1159.6 746,1159.6 745,1159.6 744,1159.6 743,1159.6 742,1159.6 741,1159.6 740,1159.6 739,1159.6 738,1159.6 737,1159.6 736,1159.6 735,1159.6 734,1159.6 733,1159.6 732,1159.6 731,1159.6 730,1159.6 729,1159.6 728,1159.6 727,1159.6 726,1159.6 725,1159.6 724,1159.6 723,1159.6 722,1159.6 721,1159.6 720,1159.6 719,1159.6 718,1159.6 717,1159.6 716,1159.6 715,1159.6 714,1159.6 713,1159.6 712,1159.6 711,1159.6 710,1159.6 709,1159.6 708,1159.6 707,1159.6 706,1159.6 705,1159.6 704,1159.6 703,1159.6 702,1159.6 701,1159.6 700,1159.6 699,1159.6 698,1159.6 697,1159.6 696,1159.6 695,1159.6 694,1159.6 693,1159.6 692,1159.6 691,1159.6 690,1159.6 689,1159.6 688,1159.6 687,1159.6 686,1159.6 685,1159.6 684,1159.6 683,1159.6 682,1159.6 681,1159.6 680,1159.6 679,1159.6 678,1159.6 677,1159.6 676,1159.6 675,1159.6 674,1159.6 673,1159.6 672,1159.6 671,1159.6 670,1159.6 669,1159.6 668,1159.6" fill="#f4de22"/><polyline points="668,1152.5 670,1153.3 672,1152.7 674,1153.5 676,1153.5 678,1153 680,1153.2 682,1152.8 684,1153.3 686,1153.7 688,1153.2 690,1152.8 692,1153.6 694,1152.3 696,1153.4 698,1153.6 700,1152.6 702,1153.2 704,1152.5 706,1152.9 708,1153.6 710,1152.4 712,1152.6 714,1152.5 716,1152.5 718,1152.6 720,1153.6 722,1153.2 724,1153 726,1153.4 728,1153.2 730,1153.7 732,1152.8 734,1153 736,1153.6 738,1152.7 740,1153.6 742,1152.8 744,1152.9 746,1152.9 748,1152.5 750,1152.8 752,1153.3 754,1153.5 756,1153.1 758,1152.4 760,1153.1 762,1153.2 764,1153.2 766,1152.7 768,1152.4 770,1153 772,1152.7 774,1153.5 776,1153.5 778,1152.4 780,1153.4 782,1152.9 784,1152.9 786,1152.9 788,1153.5 790,1152.4 792,1153.6 794,1153.6 796,1152.9 798,1153.7 800,1153.4 802,1153.3 804,1153 806,1153.3 808,1153.1 810,1153.4 812,1152.6 814,1152.9 816,1152.7 818,1152.3 820,1153.3 822,1153.1 824,1152.6 826,1153.4 828,1153.3 830,1153.4 832,1153.1 834,1152.7 836,1153.2 838,1152.7 840,1153 842,1153.4 844,1153 846,1153.5 848,1153.5 850,1152.9 852,1152.8 854,1152.7 856,1153 858,1152.4 860,1153.5 862,1152.6 864,1152.4 866,1152.5" fill="none" stroke="#440154" stroke-width="1.5" stroke-opacity="0.45"/><polygon points="667.8,1153 668.5,1146 669.2,1153" fill="#440154" fill-opacity="0.8"/><polygon points="696.2,1153 697,1147 697.8,1153" fill="#440154" fill-opacity="0.6"/><polygon points="702.2,1153 703,1146 703.8,1153" fill="#440154" fill-opacity="0.7"/><polygon points="748.2,1153 749,1150 749.8,1153" fill="#440154" fill-opacity="0.7"/><polygon points="812.3,1153 813.3,1142 814.3,1153" fill="#440154" fill-opacity="0.9"/><polygon points="866,1148.8 867,1148.8 868,1149.2 869,1148.8 870,1148.6 871,1149 872,1149.1 873,1149.1 874,1148.9 875,1149.1 876,1149.8 877,1148.9 878,1149.4 879,1149 880,1149.4 881,1149 882,1149.6 883,1149.8 884,1149.4 885,1149.5 886,1148.5 887,1149.4 888,1149.5 889,1148.7 890,1149.6 891,1149.7 892,1149.8 893,1149.1 894,1148.8 895,1148.8 896,1148.6 897,1149.3 898,1149.9 899,1149.1 900,1149.3 901,1148.8 902,1149.7 903,1149.1 904,1149 905,1149.8 906,1149.6 907,1149.5 908,1149.7 909,1148.9 910,1149.7 911,1149.5 912,1149.6 913,1149.2 914,1149.3 915,1148.8 916,1149.4 917,1149.4 918,1149.5 919,1149.4 920,1149.6 921,1149.5 922,1150.2 923,1149 924,1149.7 925,1149.8 926,1149.9 927,1149.1 928,1149.2 929,1149.8 930,1149.7 931,1149.3 932,1150 933,1149.5 934,1149.2 935,1149.5 936,1149.2 937,1149.9 938,1150.3 939,1149.9 940,1149.7 941,1149.1 942,1150.3 943,1150.2 944,1150.1 945,1150 946,1149.1 947,1149.4 948,1149.7 949,1149.8 950,1149.3 951,1150.3 952,1149.7 953,1150.1 954,1150.3 955,1149.4 956,1149.3 957,1149.9 958,1149.2 959,1149.1 960,1149.1 961,1150.2 962,1150.3 963,1149.7 964,1149.8 965,1149.9 966,1149.6 967,1149.6 968,1149.7 969,1149.5 970,1150.2 971,1150 972,1149.4 973,1149.3 974,1150.3 975,1149.9 976,1150.4 977,1150.2 978,1150.1 979,1149.6 980,1150.1 981,1149.9 982,1150.3 983,1149.6 984,1150.7 984,1159.6 983,1159.6 982,1159.6 981,1159.6 980,1159.6 979,1159.6 978,1159.6 977,1159.6 976,1159.6 975,1159.6 974,1159.6 973,1159.6 972,1159.6 971,1159.6 970,1159.6 969,1159.6 968,1159.6 967,1159.6 966,1159.6 965,1159.6 964,1159.6 963,1159.6 962,1159.6 961,1159.6 960,1159.6 959,1159.6 958,1159.6 957,1159.6 956,1159.6 955,1159.6 954,1159.6 953,1159.6 952,1159.6 951,1159.6 950,1159.6 949,1159.6 948,1159.6 947,1159.6 946,1159.6 945,1159.6 944,1159.6 943,1159.6 942,1159.6 941,1159.6 940,1159.6 939,1159.6 938,1159.6 937,1159.6 936,1159.6 935,1159.6 934,1159.6 933,1159.6 932,1159.6 931,1159.6 930,1159.6 929,1159.6 928,1159.6 927,1159.6 926,1159.6 925,1159.6 924,1159.6 923,1159.6 922,1159.6 921,1159.6 920,1159.6 919,1159.6 918,1159.6 917,1159.6 916,1159.6 915,1159.6 914,1159.6 913,1159.6 912,1159.6 911,1159.6 910,1159.6 909,1159.6 908,1159.6 907,1159.6 906,1159.6 905,1159.6 904,1159.6 903,1159.6 902,1159.6 901,1159.6 900,1159.6 899,1159.6 898,1159.6 897,1159.6 896,1159.6 895,1159.6 894,1159.6 893,1159.6 892,1159.6 891,1159.6 890,1159.6 889,1159.6 888,1159.6 887,1159.6 886,1159.6 885,1159.6 884,1159.6 883,1159.6 882,1159.6 881,1159.6 880,1159.6 879,1159.6 878,1159.6 877,1159.6 876,1159.6 875,1159.6 874,1159.6 873,1159.6 872,1159.6 871,1159.6 870,1159.6 869,1159.6 868,1159.6 867,1159.6 866,1159.6" fill="#f4de22"/><polygon points="866,1148.1 867,1148.2 868,1146.8 869,1146.4 870,1147 871,1147.9 872,1147.6 873,1146.1 874,1146.7 875,1148.5 876,1147.5 877,1146.5 878,1147.7 879,1148.2 880,1148.6 881,1146.7 882,1148.2 883,1146.8 884,1148.1 885,1147.9 886,1146.7 887,1147.1 888,1147.8 889,1148.5 890,1149.2 891,1147.6 892,1147.6 893,1148.6 894,1148.1 895,1148.5 896,1149.2 897,1149 898,1148.2 899,1148.1 900,1149 901,1148.7 902,1148.9 903,1148.4 904,1149 905,1147.8 906,1149.2 907,1148.2 908,1148.2 909,1147.3 910,1149.2 911,1148.5 912,1148.7 913,1147.9 914,1147.3 915,1148.4 916,1148.3 917,1147.6 918,1149 919,1147.2 920,1149.1 921,1149.2 922,1147.3 923,1149.3 924,1149.3 925,1147.9 926,1148 927,1148.9 928,1147.1 929,1148.9 930,1147 931,1148.4 932,1147 933,1148 934,1148.6 935,1148.2 936,1147.7 937,1147.5 938,1147.1 939,1147.5 940,1147.3 941,1147.4 942,1147.1 943,1147.3 944,1147.8 945,1147 946,1148.5 947,1147.4 948,1148.6 949,1148.1 950,1148.4 951,1148.5 952,1147.5 953,1148.3 954,1146.7 955,1148.7 956,1148.4 957,1148.8 958,1147.4 959,1147 960,1148.3 961,1147 962,1148.7 963,1147.3 964,1148.6 965,1146.7 966,1147.2 967,1148.4 968,1146.7 969,1148.2 970,1147.4 971,1147.8 972,1146.9 973,1147 974,1148.5 975,1148.1 976,1146.7 977,1146.6 978,1146.6 979,1146.8 980,1147 981,1147.6 982,1147.1 983,1148.6 984,1146.5 984,1153 983,1153 982,1153 981,1153 980,1153 979,1153 978,1153 977,1153 976,1153 975,1153 974,1153 973,1153 972,1153 971,1153 970,1153 969,1153 968,1153 967,1153 966,1153 965,1153 964,1153 963,1153 962,1153 961,1153 960,1153 959,1153 958,1153 957,1153 956,1153 955,1153 954,1153 953,1153 952,1153 951,1153 950,1153 949,1153 948,1153 947,1153 946,1153 945,1153 944,1153 943,1153 942,1153 941,1153 940,1153 939,1153 938,1153 937,1153 936,1153 935,1153 934,1153 933,1153 932,1153 931,1153 930,1153 929,1153 928,1153 927,1153 926,1153 925,1153 924,1153 923,1153 922,1153 921,1153 920,1153 919,1153 918,1153 917,1153 916,1153 915,1153 914,1153 913,1153 912,1153 911,1153 910,1153 909,1153 908,1153 907,1153 906,1153 905,1153 904,1153 903,1153 902,1153 901,1153 900,1153 899,1153 898,1153 897,1153 896,1153 895,1153 894,1153 893,1153 892,1153 891,1153 890,1153 889,1153 888,1153 887,1153 886,1153 885,1153 884,1153 883,1153 882,1153 881,1153 880,1153 879,1153 878,1153 877,1153 876,1153 875,1153 874,1153 873,1153 872,1153 871,1153 870,1153 869,1153 868,1153 867,1153 866,1153" fill="#440154" fill-opacity="0.8"/><polygon points="865.5,1153 866.5,1144 867.5,1153" fill="#440154" fill-opacity="0.9"/><polygon points="894.5,1153 895.5,1146 896.5,1153" fill="#440154" fill-opacity="0.9"/></g><line x1="985.0" y1="683.4" x2="985.0" y2="1217.3" stroke="#e2c90f" stroke-width="2"/><line x1="131.5" y1="1160.70" x2="1026.5" y2="1160.70" stroke="#000" stroke-width="2.1"/><rect x="131.5" y="683.4" width="895.0" height="533.9" fill="none" stroke="#000" stroke-width="1.1"/><line x1="126.90" y1="1175.15" x2="131.5" y2="1175.15" stroke="#000" stroke-width="1.1"/><text transform="translate(122.90,1183.75) scale(1,1.07)" font-family="Liberation Serif" font-size="27.8" text-anchor="end">75</text><line x1="126.90" y1="1104.90" x2="131.5" y2="1104.90" stroke="#000" stroke-width="1.1"/><text transform="translate(122.90,1113.50) scale(1,1.07)" font-family="Liberation Serif" font-size="27.8" text-anchor="end">100</text><line x1="126.90" y1="1034.65" x2="131.5" y2="1034.65" stroke="#000" stroke-width="1.1"/><text transform="translate(122.90,1043.25) scale(1,1.07)" font-family="Liberation Serif" font-size="27.8" text-anchor="end">125</text><line x1="126.90" y1="964.40" x2="131.5" y2="964.40" stroke="#000" stroke-width="1.1"/><text transform="translate(122.90,973.00) scale(1,1.07)" font-family="Liberation Serif" font-size="27.8" text-anchor="end">150</text><line x1="126.90" y1="894.15" x2="131.5" y2="894.15" stroke="#000" stroke-width="1.1"/><text transform="translate(122.90,902.75) scale(1,1.07)" font-family="Liberation Serif" font-size="27.8" text-anchor="end">175</text><line x1="126.90" y1="823.90" x2="131.5" y2="823.90" stroke="#000" stroke-width="1.1"/><text transform="translate(122.90,832.50) scale(1,1.07)" font-family="Liberation Serif" font-size="27.8" text-anchor="end">200</text><line x1="126.90" y1="753.65" x2="131.5" y2="753.65" stroke="#000" stroke-width="1.1"/><text transform="translate(122.90,762.25) scale(1,1.07)" font-family="Liberation Serif" font-size="27.8" text-anchor="end">225</text><line x1="126.90" y1="683.40" x2="131.5" y2="683.40" stroke="#000" stroke-width="1.1"/><text transform="translate(122.90,692.00) scale(1,1.07)" font-family="Liberation Serif" font-size="27.8" text-anchor="end">250</text><line x1="1026.5" y1="1217.30" x2="1030.50" y2="1217.30" stroke="#000" stroke-width="1.1"/><text transform="translate(1033.70,1220.70) scale(1,1.05)" font-family="Liberation Serif" font-size="10">0</text><line x1="1026.5" y1="1150.56" x2="1030.50" y2="1150.56" stroke="#000" stroke-width="1.1"/><text transform="translate(1033.70,1153.96) scale(1,1.05)" font-family="Liberation Serif" font-size="10">50</text><line x1="1026.5" y1="1083.83" x2="1030.50" y2="1083.83" stroke="#000" stroke-width="1.1"/><text transform="translate(1033.70,1087.23) scale(1,1.05)" font-family="Liberation Serif" font-size="10">100</text><line x1="1026.5" y1="1017.09" x2="1030.50" y2="1017.09" stroke="#000" stroke-width="1.1"/><text transform="translate(1033.70,1020.49) scale(1,1.05)" font-family="Liberation Serif" font-size="10">150</text><line x1="1026.5" y1="950.35" x2="1030.50" y2="950.35" stroke="#000" stroke-width="1.1"/><text transform="translate(1033.70,953.75) scale(1,1.05)" font-family="Liberation Serif" font-size="10">200</text><line x1="1026.5" y1="883.61" x2="1030.50" y2="883.61" stroke="#000" stroke-width="1.1"/><text transform="translate(1033.70,887.01) scale(1,1.05)" font-family="Liberation Serif" font-size="10">250</text><line x1="1026.5" y1="816.88" x2="1030.50" y2="816.88" stroke="#000" stroke-width="1.1"/><text transform="translate(1033.70,820.27) scale(1,1.05)" font-family="Liberation Serif" font-size="10">300</text><line x1="1026.5" y1="750.14" x2="1030.50" y2="750.14" stroke="#000" stroke-width="1.1"/><text transform="translate(1033.70,753.54) scale(1,1.05)" font-family="Liberation Serif" font-size="10">350</text><line x1="1026.5" y1="683.40" x2="1030.50" y2="683.40" stroke="#000" stroke-width="1.1"/><text transform="translate(1033.70,686.80) scale(1,1.05)" font-family="Liberation Serif" font-size="10">400</text><line x1="329.2" y1="1217.3" x2="329.2" y2="1221.90" stroke="#000" stroke-width="1.1"/><line x1="531.5" y1="1217.3" x2="531.5" y2="1221.90" stroke="#000" stroke-width="1.1"/><line x1="733.8" y1="1217.3" x2="733.8" y2="1221.90" stroke="#000" stroke-width="1.1"/><line x1="936.1" y1="1217.3" x2="936.1" y2="1221.90" stroke="#000" stroke-width="1.1"/><rect x="755.5" y="690.9" width="264.7" height="41.3" rx="2.8" fill="#fff" fill-opacity="0.8" stroke="#d0d0d0" stroke-width="1"/><line x1="760.0" y1="700.2" x2="787.9" y2="700.2" stroke="#7fb0d6" stroke-width="1.1"/><line x1="760.0" y1="719.2" x2="787.9" y2="719.2" stroke="#ffb478" stroke-width="1.1"/><text transform="translate(798.10,705.60) scale(1,1.04)" font-family="Liberation Serif" font-size="13.4">RPMC.UL16.RBBCW.R1B2:I_MEAS</text><text transform="translate(798.10,724.60) scale(1,1.04)" font-family="Liberation Serif" font-size="13.4">RPMC.UL557.RBBCW.R5B2:I_MEAS</text><rect x="139.4" y="692.5" width="142.1" height="32.8" rx="2.8" fill="#fff" fill-opacity="0.8" stroke="#d0d0d0" stroke-width="1"/><line x1="145" y1="707.9" x2="180" y2="707.9" stroke="#000" stroke-width="2.1"/><text transform="translate(194.2,712.80) scale(1,1.04)" font-family="Liberation Serif" font-size="16.7"><tspan font-style="italic">σ</tspan><tspan font-style="italic" font-size="11.8" dy="1.8">inel</tspan><tspan dy="-1.8">=80 mb</tspan></text><rect x="1082.4" y="683.4" width="27.0" height="533.9" fill="url(#vir)" stroke="#000" stroke-width="1.1"/><line x1="1109.4" y1="1217.30" x2="1113.70" y2="1217.30" stroke="#000" stroke-width="1.1"/><text transform="translate(1117.60,1225.90) scale(1,1.07)" font-family="Liberation Serif" font-size="27.8">0.0</text><line x1="1109.4" y1="1110.52" x2="1113.70" y2="1110.52" stroke="#000" stroke-width="1.1"/><text transform="translate(1117.60,1119.12) scale(1,1.07)" font-family="Liberation Serif" font-size="27.8">0.2</text><line x1="1109.4" y1="1003.74" x2="1113.70" y2="1003.74" stroke="#000" stroke-width="1.1"/><text transform="translate(1117.60,1012.34) scale(1,1.07)" font-family="Liberation Serif" font-size="27.8">0.4</text><line x1="1109.4" y1="896.96" x2="1113.70" y2="896.96" stroke="#000" stroke-width="1.1"/><text transform="translate(1117.60,905.56) scale(1,1.07)" font-family="Liberation Serif" font-size="27.8">0.6</text><line x1="1109.4" y1="790.18" x2="1113.70" y2="790.18" stroke="#000" stroke-width="1.1"/><text transform="translate(1117.60,798.78) scale(1,1.07)" font-family="Liberation Serif" font-size="27.8">0.8</text><line x1="1109.4" y1="683.40" x2="1113.70" y2="683.40" stroke="#000" stroke-width="1.1"/><text transform="translate(1117.60,692.00) scale(1,1.07)" font-family="Liberation Serif" font-size="27.8">1.0</text><text transform="rotate(-90 1177.3 950.35) translate(1177.30,950.35) scale(1,1.0)" font-family="Liberation Serif" font-size="33.3" text-anchor="middle">collides in ALICE</text><g transform="translate(0,949.8)"><g transform="rotate(-90)"><text x="1.5" y="59.8" font-family="Liberation Serif" font-size="32.6" text-anchor="start">(mb)</text><text x="-38.6" y="45.6" font-family="Liberation Serif" font-size="23" font-style="italic" text-anchor="middle">dN/dt</text><line x1="-64.6" y1="53.8" x2="-11.8" y2="53.8" stroke="#000" stroke-width="1.9"/></g><g transform="translate(0,-362)"><path d="M62.4,396.3 C62.6,395 61.8,394.4 61.2,394.6 C59.8,394.8 59.2,396.5 59.6,398.5 C60.2,400.6 62.2,401.6 64.5,402.3 C67.5,403.1 70.5,404.2 73.4,406.8" fill="none" stroke="#000" stroke-width="1.5" stroke-linecap="round"/><path d="M71.3,393.2 C72.6,394.3 73.6,396.8 73.4,399.5 C73.2,401.6 72.6,403.3 72.2,404.8" fill="none" stroke="#000" stroke-width="1.9" stroke-linecap="round"/></g></g><text transform="translate(328.20,1244.60) scale(1,1.07)" font-family="Liberation Serif" font-size="27.8" text-anchor="middle">18:14</text><text transform="translate(530.50,1244.60) scale(1,1.07)" font-family="Liberation Serif" font-size="27.8" text-anchor="middle">20:09</text><text transform="translate(732.80,1244.60) scale(1,1.07)" font-family="Liberation Serif" font-size="27.8" text-anchor="middle">22:04</text><text transform="translate(935.10,1244.60) scale(1,1.07)" font-family="Liberation Serif" font-size="27.8" text-anchor="middle">00:00</text></svg></body></html>
